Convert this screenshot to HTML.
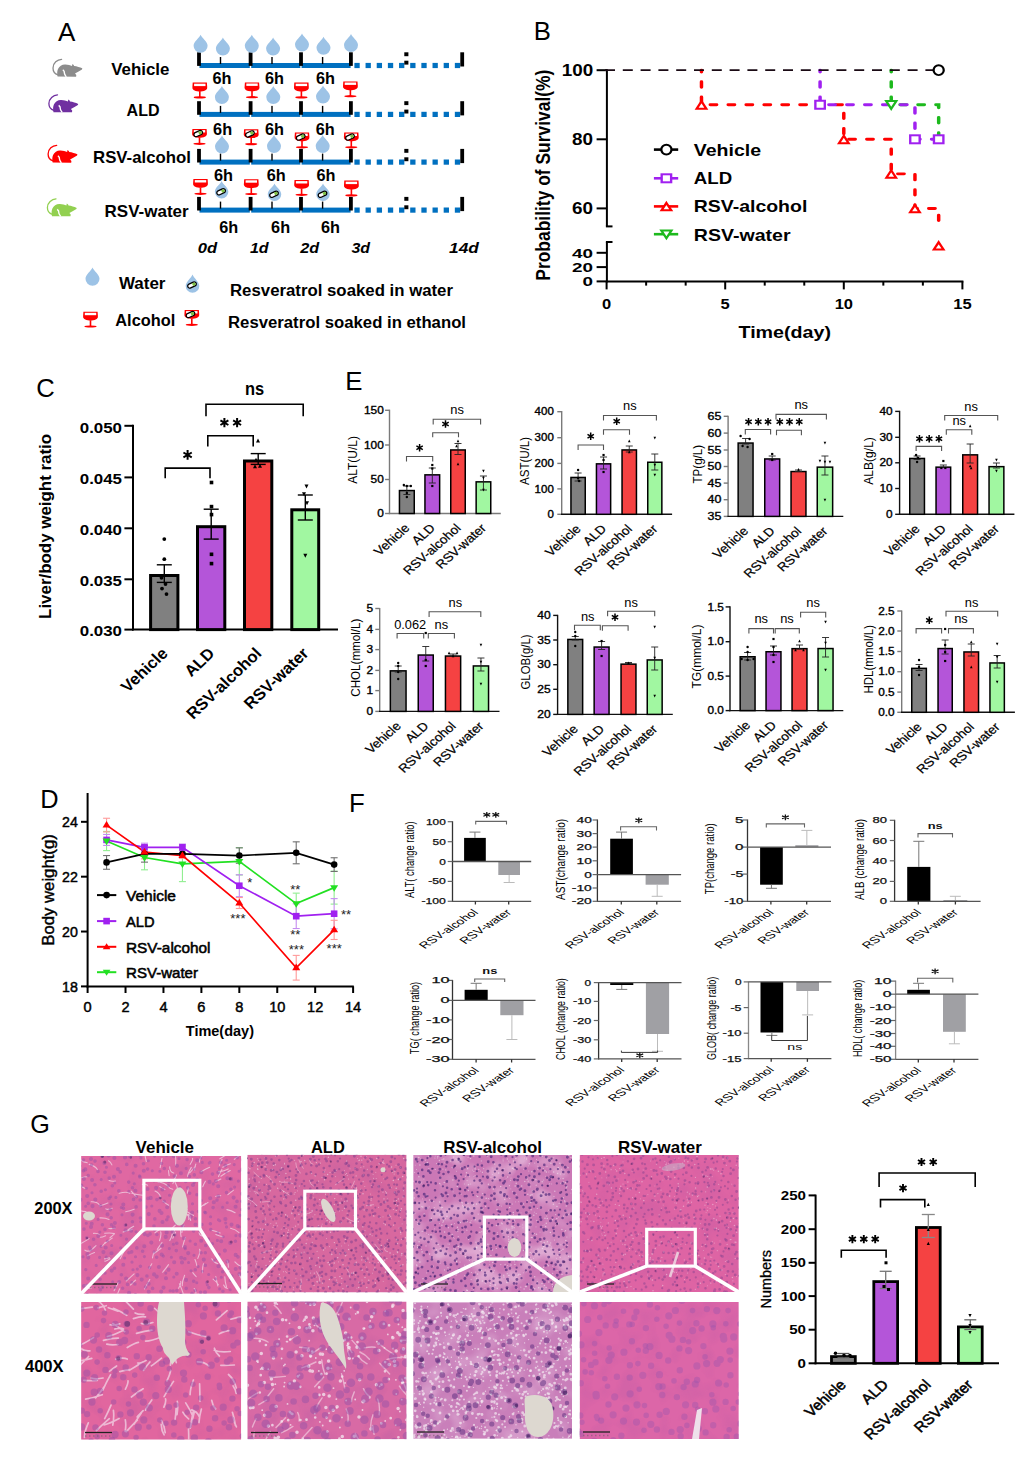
<!DOCTYPE html>
<html><head><meta charset="utf-8"><style>
html,body{margin:0;padding:0;background:#fff;}
body{width:1036px;height:1468px;overflow:hidden;}
svg{display:block;font-family:"Liberation Sans", sans-serif;}
</style></head><body>
<svg width="1036" height="1468" viewBox="0 0 1036 1468">
<rect width="1036" height="1468" fill="#fff"/>
<text x="58" y="40.5" font-size="26">A</text>
<text x="111.2" y="74.7" font-size="16.2" font-weight="bold" textLength="58.2" lengthAdjust="spacingAndGlyphs">Vehicle</text>
<text x="126.6" y="115.6" font-size="16.2" font-weight="bold" textLength="33" lengthAdjust="spacingAndGlyphs">ALD</text>
<text x="93" y="162.9" font-size="16.2" font-weight="bold" textLength="98" lengthAdjust="spacingAndGlyphs">RSV-alcohol</text>
<text x="104.6" y="217.3" font-size="16.2" font-weight="bold" textLength="84" lengthAdjust="spacingAndGlyphs">RSV-water</text>
<g transform="translate(52.4 58.4) scale(1 1)"><path d="M9.2,0.9 C5.0,1.2 0.6,4.5 0.6,9.6 C0.6,13.3 2.6,15.6 5.6,16.4" fill="none" stroke="#8C8C8C" stroke-width="1.3" stroke-linecap="round"/><path d="M5.2,18.2 C4.6,15.5 4.6,12.5 5.6,10.5 C6.8,7.8 9.5,6.1 12.5,6.0 C15.5,5.9 17.8,6.8 19.6,7.6 L20.0,5.6 L21.3,6.6 L21.7,7.6 C24.5,8.0 27.5,8.8 29.9,9.9 L29.6,11.0 C27.5,12.4 25,13.8 22.6,15.1 L23.9,16.5 L23.7,18.3 Z" fill="#8C8C8C"/><path d="M10.4,11.4 C11.5,12.2 12.2,13.2 12.0,14.6 C11.9,15.8 12.8,16.8 13.9,18.4" fill="none" stroke="#fff" stroke-width="1.4"/></g>
<g transform="translate(48.3 94) scale(1 1)"><path d="M9.2,0.9 C5.0,1.2 0.6,4.5 0.6,9.6 C0.6,13.3 2.6,15.6 5.6,16.4" fill="none" stroke="#7030A0" stroke-width="1.3" stroke-linecap="round"/><path d="M5.2,18.2 C4.6,15.5 4.6,12.5 5.6,10.5 C6.8,7.8 9.5,6.1 12.5,6.0 C15.5,5.9 17.8,6.8 19.6,7.6 L20.0,5.6 L21.3,6.6 L21.7,7.6 C24.5,8.0 27.5,8.8 29.9,9.9 L29.6,11.0 C27.5,12.4 25,13.8 22.6,15.1 L23.9,16.5 L23.7,18.3 Z" fill="#7030A0"/><path d="M10.4,11.4 C11.5,12.2 12.2,13.2 12.0,14.6 C11.9,15.8 12.8,16.8 13.9,18.4" fill="none" stroke="#fff" stroke-width="1.4"/></g>
<g transform="translate(47.5 144.4) scale(1 1)"><path d="M9.2,0.9 C5.0,1.2 0.6,4.5 0.6,9.6 C0.6,13.3 2.6,15.6 5.6,16.4" fill="none" stroke="#FF0000" stroke-width="1.3" stroke-linecap="round"/><path d="M5.2,18.2 C4.6,15.5 4.6,12.5 5.6,10.5 C6.8,7.8 9.5,6.1 12.5,6.0 C15.5,5.9 17.8,6.8 19.6,7.6 L20.0,5.6 L21.3,6.6 L21.7,7.6 C24.5,8.0 27.5,8.8 29.9,9.9 L29.6,11.0 C27.5,12.4 25,13.8 22.6,15.1 L23.9,16.5 L23.7,18.3 Z" fill="#FF0000"/><path d="M10.4,11.4 C11.5,12.2 12.2,13.2 12.0,14.6 C11.9,15.8 12.8,16.8 13.9,18.4" fill="none" stroke="#fff" stroke-width="1.4"/></g>
<g transform="translate(46.8 198) scale(1 1)"><path d="M9.2,0.9 C5.0,1.2 0.6,4.5 0.6,9.6 C0.6,13.3 2.6,15.6 5.6,16.4" fill="none" stroke="#92D050" stroke-width="1.3" stroke-linecap="round"/><path d="M5.2,18.2 C4.6,15.5 4.6,12.5 5.6,10.5 C6.8,7.8 9.5,6.1 12.5,6.0 C15.5,5.9 17.8,6.8 19.6,7.6 L20.0,5.6 L21.3,6.6 L21.7,7.6 C24.5,8.0 27.5,8.8 29.9,9.9 L29.6,11.0 C27.5,12.4 25,13.8 22.6,15.1 L23.9,16.5 L23.7,18.3 Z" fill="#92D050"/><path d="M10.4,11.4 C11.5,12.2 12.2,13.2 12.0,14.6 C11.9,15.8 12.8,16.8 13.9,18.4" fill="none" stroke="#fff" stroke-width="1.4"/></g>
<rect x="199.5" y="63" width="50.3" height="5" fill="#0070C0"/>
<rect x="251.2" y="63" width="49.1" height="5" fill="#0070C0"/>
<rect x="301.6" y="63" width="49" height="5" fill="#0070C0"/>
<rect x="354.4" y="62.9" width="5.3" height="5.2" fill="#0070C0"/>
<rect x="365.56" y="62.9" width="5.3" height="5.2" fill="#0070C0"/>
<rect x="376.72" y="62.9" width="5.3" height="5.2" fill="#0070C0"/>
<rect x="387.88" y="62.9" width="5.3" height="5.2" fill="#0070C0"/>
<rect x="399.04" y="62.9" width="5.3" height="5.2" fill="#0070C0"/>
<rect x="410.2" y="62.9" width="5.3" height="5.2" fill="#0070C0"/>
<rect x="421.36" y="62.9" width="5.3" height="5.2" fill="#0070C0"/>
<rect x="432.52" y="62.9" width="5.3" height="5.2" fill="#0070C0"/>
<rect x="443.68" y="62.9" width="5.3" height="5.2" fill="#0070C0"/>
<rect x="454.84" y="62.9" width="5.3" height="5.2" fill="#0070C0"/>
<rect x="197.1" y="52.3" width="3.8" height="13.6" fill="#000"/>
<rect x="248.7" y="52.3" width="3.8" height="13.6" fill="#000"/>
<rect x="299.1" y="52.3" width="3.8" height="13.6" fill="#000"/>
<rect x="349" y="52.3" width="3.8" height="13.6" fill="#000"/>
<rect x="460.3" y="52.3" width="3.8" height="14.2" fill="#000"/>
<rect x="404.3" y="52.3" width="4.1" height="3.9" fill="#000"/>
<rect x="404.3" y="60.7" width="4.1" height="3.9" fill="#000"/>
<rect x="219.8" y="57" width="1.4" height="7" fill="#000"/>
<rect x="271.3" y="57" width="1.4" height="7" fill="#000"/>
<rect x="321.9" y="57" width="1.4" height="7" fill="#000"/>
<rect x="199.5" y="111.9" width="50.3" height="5" fill="#0070C0"/>
<rect x="251.2" y="111.9" width="49.1" height="5" fill="#0070C0"/>
<rect x="301.6" y="111.9" width="49" height="5" fill="#0070C0"/>
<rect x="354.4" y="111.8" width="5.3" height="5.2" fill="#0070C0"/>
<rect x="365.56" y="111.8" width="5.3" height="5.2" fill="#0070C0"/>
<rect x="376.72" y="111.8" width="5.3" height="5.2" fill="#0070C0"/>
<rect x="387.88" y="111.8" width="5.3" height="5.2" fill="#0070C0"/>
<rect x="399.04" y="111.8" width="5.3" height="5.2" fill="#0070C0"/>
<rect x="410.2" y="111.8" width="5.3" height="5.2" fill="#0070C0"/>
<rect x="421.36" y="111.8" width="5.3" height="5.2" fill="#0070C0"/>
<rect x="432.52" y="111.8" width="5.3" height="5.2" fill="#0070C0"/>
<rect x="443.68" y="111.8" width="5.3" height="5.2" fill="#0070C0"/>
<rect x="454.84" y="111.8" width="5.3" height="5.2" fill="#0070C0"/>
<rect x="197.1" y="101.2" width="3.8" height="13.6" fill="#000"/>
<rect x="248.7" y="101.2" width="3.8" height="13.6" fill="#000"/>
<rect x="299.1" y="101.2" width="3.8" height="13.6" fill="#000"/>
<rect x="349" y="101.2" width="3.8" height="13.6" fill="#000"/>
<rect x="460.3" y="101.2" width="3.8" height="14.2" fill="#000"/>
<rect x="404.3" y="101.2" width="4.1" height="3.9" fill="#000"/>
<rect x="404.3" y="109.6" width="4.1" height="3.9" fill="#000"/>
<rect x="219.8" y="105.9" width="1.4" height="7" fill="#000"/>
<rect x="271.3" y="105.9" width="1.4" height="7" fill="#000"/>
<rect x="321.9" y="105.9" width="1.4" height="7" fill="#000"/>
<rect x="199.5" y="159.6" width="50.3" height="5" fill="#0070C0"/>
<rect x="251.2" y="159.6" width="49.1" height="5" fill="#0070C0"/>
<rect x="301.6" y="159.6" width="49" height="5" fill="#0070C0"/>
<rect x="354.4" y="159.5" width="5.3" height="5.2" fill="#0070C0"/>
<rect x="365.56" y="159.5" width="5.3" height="5.2" fill="#0070C0"/>
<rect x="376.72" y="159.5" width="5.3" height="5.2" fill="#0070C0"/>
<rect x="387.88" y="159.5" width="5.3" height="5.2" fill="#0070C0"/>
<rect x="399.04" y="159.5" width="5.3" height="5.2" fill="#0070C0"/>
<rect x="410.2" y="159.5" width="5.3" height="5.2" fill="#0070C0"/>
<rect x="421.36" y="159.5" width="5.3" height="5.2" fill="#0070C0"/>
<rect x="432.52" y="159.5" width="5.3" height="5.2" fill="#0070C0"/>
<rect x="443.68" y="159.5" width="5.3" height="5.2" fill="#0070C0"/>
<rect x="454.84" y="159.5" width="5.3" height="5.2" fill="#0070C0"/>
<rect x="197.1" y="148.9" width="3.8" height="13.6" fill="#000"/>
<rect x="248.7" y="148.9" width="3.8" height="13.6" fill="#000"/>
<rect x="299.1" y="148.9" width="3.8" height="13.6" fill="#000"/>
<rect x="349" y="148.9" width="3.8" height="13.6" fill="#000"/>
<rect x="460.3" y="148.9" width="3.8" height="14.2" fill="#000"/>
<rect x="404.3" y="148.9" width="4.1" height="3.9" fill="#000"/>
<rect x="404.3" y="157.3" width="4.1" height="3.9" fill="#000"/>
<rect x="219.8" y="153.6" width="1.4" height="7" fill="#000"/>
<rect x="271.3" y="153.6" width="1.4" height="7" fill="#000"/>
<rect x="321.9" y="153.6" width="1.4" height="7" fill="#000"/>
<rect x="199.5" y="207.6" width="50.3" height="5" fill="#0070C0"/>
<rect x="251.2" y="207.6" width="49.1" height="5" fill="#0070C0"/>
<rect x="301.6" y="207.6" width="49" height="5" fill="#0070C0"/>
<rect x="354.4" y="207.5" width="5.3" height="5.2" fill="#0070C0"/>
<rect x="365.56" y="207.5" width="5.3" height="5.2" fill="#0070C0"/>
<rect x="376.72" y="207.5" width="5.3" height="5.2" fill="#0070C0"/>
<rect x="387.88" y="207.5" width="5.3" height="5.2" fill="#0070C0"/>
<rect x="399.04" y="207.5" width="5.3" height="5.2" fill="#0070C0"/>
<rect x="410.2" y="207.5" width="5.3" height="5.2" fill="#0070C0"/>
<rect x="421.36" y="207.5" width="5.3" height="5.2" fill="#0070C0"/>
<rect x="432.52" y="207.5" width="5.3" height="5.2" fill="#0070C0"/>
<rect x="443.68" y="207.5" width="5.3" height="5.2" fill="#0070C0"/>
<rect x="454.84" y="207.5" width="5.3" height="5.2" fill="#0070C0"/>
<rect x="197.1" y="196.9" width="3.8" height="13.6" fill="#000"/>
<rect x="248.7" y="196.9" width="3.8" height="13.6" fill="#000"/>
<rect x="299.1" y="196.9" width="3.8" height="13.6" fill="#000"/>
<rect x="349" y="196.9" width="3.8" height="13.6" fill="#000"/>
<rect x="460.3" y="196.9" width="3.8" height="14.2" fill="#000"/>
<rect x="404.3" y="196.9" width="4.1" height="3.9" fill="#000"/>
<rect x="404.3" y="205.3" width="4.1" height="3.9" fill="#000"/>
<rect x="219.8" y="201.6" width="1.4" height="7" fill="#000"/>
<rect x="271.3" y="201.6" width="1.4" height="7" fill="#000"/>
<rect x="321.9" y="201.6" width="1.4" height="7" fill="#000"/>
<path d="M200.6,34.8 C201.8,38.3 207.6,41.3 207.6,45.8 A7,7 0 0 1 193.6,45.8 C193.6,41.3 199.4,38.3 200.6,34.8Z" fill="#9DC3E6"/>
<path d="M222.9,37.6 C224.1,41.1 229.9,44.1 229.9,48.6 A7,7 0 0 1 215.9,48.6 C215.9,44.1 221.7,41.1 222.9,37.6Z" fill="#9DC3E6"/>
<path d="M251.8,34.8 C253,38.3 258.8,41.3 258.8,45.8 A7,7 0 0 1 244.8,45.8 C244.8,41.3 250.6,38.3 251.8,34.8Z" fill="#9DC3E6"/>
<path d="M273.1,37.6 C274.3,41.1 280.1,44.1 280.1,48.6 A7,7 0 0 1 266.1,48.6 C266.1,44.1 271.9,41.1 273.1,37.6Z" fill="#9DC3E6"/>
<path d="M302,33.6 C303.2,37.1 309,40.1 309,44.6 A7,7 0 0 1 295,44.6 C295,40.1 300.8,37.1 302,33.6Z" fill="#9DC3E6"/>
<path d="M323.5,36.8 C324.7,40.3 330.5,43.3 330.5,47.8 A7,7 0 0 1 316.5,47.8 C316.5,43.3 322.3,40.3 323.5,36.8Z" fill="#9DC3E6"/>
<path d="M351,34 C352.2,37.5 358,40.5 358,45 A7,7 0 0 1 344,45 C344,40.5 349.8,37.5 351,34Z" fill="#9DC3E6"/>
<path d="M192.7,82.6 H206.9 L207.2,87.2 Q207.9,90.8 201,91.4 H198.6 Q191.7,90.8 192.4,87.2 Z" fill="#FF0000"/>
<rect x="194.1" y="83.7" width="11.4" height="2.4" fill="#fff"/>
<rect x="199" y="91.1" width="1.6" height="6" fill="#FF0000"/>
<ellipse cx="199.8" cy="97.4" rx="6.1" ry="1.1" fill="#FF0000"/>
<path d="M244.9,82.4 H259.1 L259.4,87 Q260.1,90.6 253.2,91.2 H250.8 Q243.9,90.6 244.6,87 Z" fill="#FF0000"/>
<rect x="246.3" y="83.5" width="11.4" height="2.4" fill="#fff"/>
<rect x="251.2" y="90.9" width="1.6" height="6" fill="#FF0000"/>
<ellipse cx="252" cy="97.2" rx="6.1" ry="1.1" fill="#FF0000"/>
<path d="M294.3,82.6 H308.5 L308.8,87.2 Q309.5,90.8 302.6,91.4 H300.2 Q293.3,90.8 294,87.2 Z" fill="#FF0000"/>
<rect x="295.7" y="83.7" width="11.4" height="2.4" fill="#fff"/>
<rect x="300.6" y="91.1" width="1.6" height="6" fill="#FF0000"/>
<ellipse cx="301.4" cy="97.4" rx="6.1" ry="1.1" fill="#FF0000"/>
<path d="M343.3,81.4 H357.5 L357.8,86 Q358.5,89.6 351.6,90.2 H349.2 Q342.3,89.6 343,86 Z" fill="#FF0000"/>
<rect x="344.7" y="82.5" width="11.4" height="2.4" fill="#fff"/>
<rect x="349.6" y="89.9" width="1.6" height="6" fill="#FF0000"/>
<ellipse cx="350.4" cy="96.2" rx="6.1" ry="1.1" fill="#FF0000"/>
<path d="M221.9,86 C223.1,89.5 228.9,92.5 228.9,97 A7,7 0 0 1 214.9,97 C214.9,92.5 220.7,89.5 221.9,86Z" fill="#9DC3E6"/>
<path d="M273.3,86 C274.5,89.5 280.3,92.5 280.3,97 A7,7 0 0 1 266.3,97 C266.3,92.5 272.1,89.5 273.3,86Z" fill="#9DC3E6"/>
<path d="M323,85.5 C324.2,89 330,92 330,96.5 A7,7 0 0 1 316,96.5 C316,92 321.8,89 323,85.5Z" fill="#9DC3E6"/>
<path d="M192.4,129 H206.6 L206.9,133.6 Q207.6,137.2 200.7,137.8 H198.3 Q191.4,137.2 192.1,133.6 Z" fill="#FF0000"/>
<rect x="193.8" y="130.1" width="11.4" height="2.4" fill="#fff"/>
<rect x="198.7" y="137.5" width="1.6" height="6" fill="#FF0000"/>
<ellipse cx="199.5" cy="143.8" rx="6.1" ry="1.1" fill="#FF0000"/>
<g transform="translate(198.2 133.6) rotate(-25)"><rect x="-4.5" y="-2.1" width="9" height="4.2" rx="2.1" fill="#fff" stroke="#000" stroke-width="1.3"/><path d="M0.6,-1.45 H2.4 A1.45,1.45 0 0 1 2.4,1.45 H0.6Z" fill="#7DC242"/></g>
<path d="M244.1,129.3 H258.3 L258.6,133.9 Q259.3,137.5 252.4,138.1 H250 Q243.1,137.5 243.8,133.9 Z" fill="#FF0000"/>
<rect x="245.5" y="130.4" width="11.4" height="2.4" fill="#fff"/>
<rect x="250.4" y="137.8" width="1.6" height="6" fill="#FF0000"/>
<ellipse cx="251.2" cy="144.1" rx="6.1" ry="1.1" fill="#FF0000"/>
<g transform="translate(249.9 133.9) rotate(-25)"><rect x="-4.5" y="-2.1" width="9" height="4.2" rx="2.1" fill="#fff" stroke="#000" stroke-width="1.3"/><path d="M0.6,-1.45 H2.4 A1.45,1.45 0 0 1 2.4,1.45 H0.6Z" fill="#7DC242"/></g>
<path d="M294.9,132.5 H309.1 L309.4,137.1 Q310.1,140.7 303.2,141.3 H300.8 Q293.9,140.7 294.6,137.1 Z" fill="#FF0000"/>
<rect x="296.3" y="133.6" width="11.4" height="2.4" fill="#fff"/>
<rect x="301.2" y="141" width="1.6" height="6" fill="#FF0000"/>
<ellipse cx="302" cy="147.3" rx="6.1" ry="1.1" fill="#FF0000"/>
<g transform="translate(300.7 137.1) rotate(-25)"><rect x="-4.5" y="-2.1" width="9" height="4.2" rx="2.1" fill="#fff" stroke="#000" stroke-width="1.3"/><path d="M0.6,-1.45 H2.4 A1.45,1.45 0 0 1 2.4,1.45 H0.6Z" fill="#7DC242"/></g>
<path d="M344.2,132.5 H358.4 L358.7,137.1 Q359.4,140.7 352.5,141.3 H350.1 Q343.2,140.7 343.9,137.1 Z" fill="#FF0000"/>
<rect x="345.6" y="133.6" width="11.4" height="2.4" fill="#fff"/>
<rect x="350.5" y="141" width="1.6" height="6" fill="#FF0000"/>
<ellipse cx="351.3" cy="147.3" rx="6.1" ry="1.1" fill="#FF0000"/>
<g transform="translate(350 137.1) rotate(-25)"><rect x="-4.5" y="-2.1" width="9" height="4.2" rx="2.1" fill="#fff" stroke="#000" stroke-width="1.3"/><path d="M0.6,-1.45 H2.4 A1.45,1.45 0 0 1 2.4,1.45 H0.6Z" fill="#7DC242"/></g>
<path d="M222,135.5 C223.2,139 229,142 229,146.5 A7,7 0 0 1 215,146.5 C215,142 220.8,139 222,135.5Z" fill="#9DC3E6"/>
<path d="M274,135 C275.2,138.5 281,141.5 281,146 A7,7 0 0 1 267,146 C267,141.5 272.8,138.5 274,135Z" fill="#9DC3E6"/>
<path d="M322.7,135 C323.9,138.5 329.7,141.5 329.7,146 A7,7 0 0 1 315.7,146 C315.7,141.5 321.5,138.5 322.7,135Z" fill="#9DC3E6"/>
<path d="M193.4,179 H207.6 L207.9,183.6 Q208.6,187.2 201.7,187.8 H199.3 Q192.4,187.2 193.1,183.6 Z" fill="#FF0000"/>
<rect x="194.8" y="180.1" width="11.4" height="2.4" fill="#fff"/>
<rect x="199.7" y="187.5" width="1.6" height="6" fill="#FF0000"/>
<ellipse cx="200.5" cy="193.8" rx="6.1" ry="1.1" fill="#FF0000"/>
<path d="M244.2,179.2 H258.4 L258.7,183.8 Q259.4,187.4 252.5,188 H250.1 Q243.2,187.4 243.9,183.8 Z" fill="#FF0000"/>
<rect x="245.6" y="180.3" width="11.4" height="2.4" fill="#fff"/>
<rect x="250.5" y="187.7" width="1.6" height="6" fill="#FF0000"/>
<ellipse cx="251.3" cy="194" rx="6.1" ry="1.1" fill="#FF0000"/>
<path d="M294.5,180 H308.7 L309,184.6 Q309.7,188.2 302.8,188.8 H300.4 Q293.5,188.2 294.2,184.6 Z" fill="#FF0000"/>
<rect x="295.9" y="181.1" width="11.4" height="2.4" fill="#fff"/>
<rect x="300.8" y="188.5" width="1.6" height="6" fill="#FF0000"/>
<ellipse cx="301.6" cy="194.8" rx="6.1" ry="1.1" fill="#FF0000"/>
<path d="M344.3,180.6 H358.5 L358.8,185.2 Q359.5,188.8 352.6,189.4 H350.2 Q343.3,188.8 344,185.2 Z" fill="#FF0000"/>
<rect x="345.7" y="181.7" width="11.4" height="2.4" fill="#fff"/>
<rect x="350.6" y="189.1" width="1.6" height="6" fill="#FF0000"/>
<ellipse cx="351.4" cy="195.4" rx="6.1" ry="1.1" fill="#FF0000"/>
<path d="M221.6,181 C222.8,184.5 228.35,187.25 228.35,191.75 A6.75,6.75 0 0 1 214.85,191.75 C214.85,187.25 220.4,184.5 221.6,181Z" fill="#9DC3E6"/>
<g transform="translate(221.1 191.8) rotate(-25)"><rect x="-4.5" y="-2.1" width="9" height="4.2" rx="2.1" fill="#fff" stroke="#000" stroke-width="1.3"/><path d="M0.6,-1.45 H2.4 A1.45,1.45 0 0 1 2.4,1.45 H0.6Z" fill="#7DC242"/></g>
<path d="M274.5,183.5 C275.7,187 281.25,189.75 281.25,194.25 A6.75,6.75 0 0 1 267.75,194.25 C267.75,189.75 273.3,187 274.5,183.5Z" fill="#9DC3E6"/>
<g transform="translate(274 194.3) rotate(-25)"><rect x="-4.5" y="-2.1" width="9" height="4.2" rx="2.1" fill="#fff" stroke="#000" stroke-width="1.3"/><path d="M0.6,-1.45 H2.4 A1.45,1.45 0 0 1 2.4,1.45 H0.6Z" fill="#7DC242"/></g>
<path d="M323,183.5 C324.2,187 329.75,189.75 329.75,194.25 A6.75,6.75 0 0 1 316.25,194.25 C316.25,189.75 321.8,187 323,183.5Z" fill="#9DC3E6"/>
<g transform="translate(322.5 194.3) rotate(-25)"><rect x="-4.5" y="-2.1" width="9" height="4.2" rx="2.1" fill="#fff" stroke="#000" stroke-width="1.3"/><path d="M0.6,-1.45 H2.4 A1.45,1.45 0 0 1 2.4,1.45 H0.6Z" fill="#7DC242"/></g>
<text x="212.4" y="84.4" font-size="16.2" font-weight="bold" textLength="19" lengthAdjust="spacingAndGlyphs">6h</text>
<text x="265" y="84.4" font-size="16.2" font-weight="bold" textLength="19" lengthAdjust="spacingAndGlyphs">6h</text>
<text x="315.9" y="84.4" font-size="16.2" font-weight="bold" textLength="19" lengthAdjust="spacingAndGlyphs">6h</text>
<text x="213.1" y="135.1" font-size="16.2" font-weight="bold" textLength="19" lengthAdjust="spacingAndGlyphs">6h</text>
<text x="264.9" y="135.1" font-size="16.2" font-weight="bold" textLength="19" lengthAdjust="spacingAndGlyphs">6h</text>
<text x="315.8" y="135.1" font-size="16.2" font-weight="bold" textLength="19" lengthAdjust="spacingAndGlyphs">6h</text>
<text x="213.9" y="181" font-size="16.2" font-weight="bold" textLength="19" lengthAdjust="spacingAndGlyphs">6h</text>
<text x="266.7" y="181" font-size="16.2" font-weight="bold" textLength="19" lengthAdjust="spacingAndGlyphs">6h</text>
<text x="316.4" y="181" font-size="16.2" font-weight="bold" textLength="19" lengthAdjust="spacingAndGlyphs">6h</text>
<text x="219.2" y="233.2" font-size="16.2" font-weight="bold" textLength="19" lengthAdjust="spacingAndGlyphs">6h</text>
<text x="271.1" y="233.2" font-size="16.2" font-weight="bold" textLength="19" lengthAdjust="spacingAndGlyphs">6h</text>
<text x="320.9" y="233.2" font-size="16.2" font-weight="bold" textLength="19" lengthAdjust="spacingAndGlyphs">6h</text>
<text x="197.8" y="252.5" font-size="15.2" font-weight="bold" font-style="italic" textLength="19.4" lengthAdjust="spacingAndGlyphs">0d</text>
<text x="249.9" y="252.5" font-size="15.2" font-weight="bold" font-style="italic" textLength="18.8" lengthAdjust="spacingAndGlyphs">1d</text>
<text x="300.2" y="252.5" font-size="15.2" font-weight="bold" font-style="italic" textLength="18.9" lengthAdjust="spacingAndGlyphs">2d</text>
<text x="351.4" y="252.5" font-size="15.2" font-weight="bold" font-style="italic" textLength="18.6" lengthAdjust="spacingAndGlyphs">3d</text>
<text x="449.1" y="252.5" font-size="15.2" font-weight="bold" font-style="italic" textLength="29.8" lengthAdjust="spacingAndGlyphs">14d</text>
<path d="M92.5,267.4 C93.7,270.9 99.5,274.3 99.5,278.8 A7,7 0 0 1 85.5,278.8 C85.5,274.3 91.3,270.9 92.5,267.4Z" fill="#9DC3E6"/>
<text x="118.9" y="289.2" font-size="15.6" font-weight="bold" textLength="46.6" lengthAdjust="spacingAndGlyphs">Water</text>
<path d="M192.5,274.4 C193.7,277.9 199.3,281.5 199.3,286 A6.8,6.8 0 0 1 185.7,286 C185.7,281.5 191.3,277.9 192.5,274.4Z" fill="#9DC3E6"/>
<g transform="translate(192 285) rotate(-25)"><rect x="-4.5" y="-2.1" width="9" height="4.2" rx="2.1" fill="#fff" stroke="#000" stroke-width="1.3"/><path d="M0.6,-1.45 H2.4 A1.45,1.45 0 0 1 2.4,1.45 H0.6Z" fill="#7DC242"/></g>
<path d="M83.4,311.7 H97.6 L97.9,316.3 Q98.6,319.9 91.7,320.5 H89.3 Q82.4,319.9 83.1,316.3 Z" fill="#FF0000"/>
<rect x="84.8" y="312.8" width="11.4" height="2.4" fill="#fff"/>
<rect x="89.7" y="320.2" width="1.6" height="6" fill="#FF0000"/>
<ellipse cx="90.5" cy="326.5" rx="6.1" ry="1.1" fill="#FF0000"/>
<text x="115.3" y="325.6" font-size="15.6" font-weight="bold" textLength="60" lengthAdjust="spacingAndGlyphs">Alcohol</text>
<path d="M184.7,310 H198.9 L199.2,314.6 Q199.9,318.2 193,318.8 H190.6 Q183.7,318.2 184.4,314.6 Z" fill="#FF0000"/>
<rect x="186.1" y="311.1" width="11.4" height="2.4" fill="#fff"/>
<rect x="191" y="318.5" width="1.6" height="6" fill="#FF0000"/>
<ellipse cx="191.8" cy="324.8" rx="6.1" ry="1.1" fill="#FF0000"/>
<g transform="translate(190.5 314.6) rotate(-25)"><rect x="-4.5" y="-2.1" width="9" height="4.2" rx="2.1" fill="#fff" stroke="#000" stroke-width="1.3"/><path d="M0.6,-1.45 H2.4 A1.45,1.45 0 0 1 2.4,1.45 H0.6Z" fill="#7DC242"/></g>
<text x="230" y="296.4" font-size="15.6" font-weight="bold" textLength="223" lengthAdjust="spacingAndGlyphs">Resveratrol soaked in water</text>
<text x="228" y="328" font-size="15.6" font-weight="bold" textLength="238" lengthAdjust="spacingAndGlyphs">Resveratrol soaked in ethanol</text>
<text x="533.8" y="40.3" font-size="25.7">B</text>
<line x1="606.9" y1="69.2" x2="606.9" y2="226.4" stroke="#000" stroke-width="2"/>
<line x1="605.9" y1="226.4" x2="612.5" y2="226.4" stroke="#000" stroke-width="2"/>
<line x1="606.9" y1="242" x2="606.9" y2="282.4" stroke="#000" stroke-width="2"/>
<line x1="605.9" y1="242" x2="612.5" y2="242" stroke="#000" stroke-width="2"/>
<line x1="596.6" y1="70.2" x2="606.9" y2="70.2" stroke="#000" stroke-width="2"/>
<line x1="596.6" y1="139.3" x2="606.9" y2="139.3" stroke="#000" stroke-width="2"/>
<line x1="596.6" y1="208.4" x2="606.9" y2="208.4" stroke="#000" stroke-width="2"/>
<line x1="596.6" y1="252.8" x2="606.9" y2="252.8" stroke="#000" stroke-width="2"/>
<line x1="596.6" y1="267.1" x2="606.9" y2="267.1" stroke="#000" stroke-width="2"/>
<line x1="596.6" y1="281.4" x2="606.9" y2="281.4" stroke="#000" stroke-width="2"/>
<text x="561.7" y="75.8" font-size="15.6" font-weight="bold" textLength="31.5" lengthAdjust="spacingAndGlyphs">100</text>
<text x="572" y="144.9" font-size="15.6" font-weight="bold" textLength="21" lengthAdjust="spacingAndGlyphs">80</text>
<text x="572" y="214" font-size="15.6" font-weight="bold" textLength="21" lengthAdjust="spacingAndGlyphs">60</text>
<text x="572" y="257.7" font-size="13.5" font-weight="bold" textLength="21" lengthAdjust="spacingAndGlyphs">40</text>
<text x="572" y="272" font-size="13.5" font-weight="bold" textLength="21" lengthAdjust="spacingAndGlyphs">20</text>
<text x="582.5" y="286.3" font-size="13.5" font-weight="bold" textLength="10.5" lengthAdjust="spacingAndGlyphs">0</text>
<line x1="605.9" y1="281.4" x2="963.4" y2="281.4" stroke="#000" stroke-width="2"/>
<line x1="606.6" y1="281.4" x2="606.6" y2="289.4" stroke="#000" stroke-width="2"/>
<line x1="646.13" y1="281.4" x2="646.13" y2="285.6" stroke="#000" stroke-width="2"/>
<line x1="685.67" y1="281.4" x2="685.67" y2="285.6" stroke="#000" stroke-width="2"/>
<line x1="725.2" y1="281.4" x2="725.2" y2="289.4" stroke="#000" stroke-width="2"/>
<line x1="764.73" y1="281.4" x2="764.73" y2="285.6" stroke="#000" stroke-width="2"/>
<line x1="804.27" y1="281.4" x2="804.27" y2="285.6" stroke="#000" stroke-width="2"/>
<line x1="843.8" y1="281.4" x2="843.8" y2="289.4" stroke="#000" stroke-width="2"/>
<line x1="883.33" y1="281.4" x2="883.33" y2="285.6" stroke="#000" stroke-width="2"/>
<line x1="922.87" y1="281.4" x2="922.87" y2="285.6" stroke="#000" stroke-width="2"/>
<line x1="962.4" y1="281.4" x2="962.4" y2="289.4" stroke="#000" stroke-width="2"/>
<text transform="translate(606.6 309.2) scale(1.18 1)" font-size="14" font-weight="bold" text-anchor="middle">0</text>
<text transform="translate(725.2 309.2) scale(1.18 1)" font-size="14" font-weight="bold" text-anchor="middle">5</text>
<text transform="translate(843.8 309.2) scale(1.18 1)" font-size="14" font-weight="bold" text-anchor="middle">10</text>
<text transform="translate(962.4 309.2) scale(1.18 1)" font-size="14" font-weight="bold" text-anchor="middle">15</text>
<text x="738.5" y="337.5" font-size="17.3" font-weight="bold" textLength="92.5" lengthAdjust="spacingAndGlyphs">Time(day)</text>
<text transform="translate(549.6 175.2) scale(1.18 1) rotate(-90)" font-size="17.4" font-weight="bold" text-anchor="middle" textLength="211" lengthAdjust="spacingAndGlyphs">Probability of Survival(%)</text>
<g transform="matrix(1.18 0 0 1 -109.19 0)">
<polyline points="687.01,70.2 687.01,104.75 807.62,104.75 807.62,139.3 847.82,139.3 847.82,173.85 867.92,173.85 867.92,208.4 888.02,208.4 888.02,226" fill="none" stroke="#FF0000" stroke-width="2.95" stroke-dasharray="5.4 9.8" stroke-dashoffset="3.6" stroke-linecap="round"/>
<polyline points="847.82,70.2 847.82,104.75 888.02,104.75 888.02,139.3" fill="none" stroke="#1DB91D" stroke-width="2.95" stroke-dasharray="5.4 9.8" stroke-dashoffset="3.6" stroke-linecap="round"/>
<polyline points="787.52,70.2 787.52,104.75 867.92,104.75 867.92,139.3 888.02,139.3" fill="none" stroke="#A020F0" stroke-width="2.95" stroke-dasharray="5.4 9.8" stroke-dashoffset="3.6" stroke-linecap="round"/>
</g>
<line x1="605" y1="70.2" x2="934.68" y2="70.2" stroke="#1a0a14" stroke-width="1.8" stroke-dasharray="10 7.8"/>
<g transform="matrix(1.18 0 0 1 -109.19 0)">
<ellipse cx="888.02" cy="70.2" rx="4.3" ry="4.9" fill="#fff" stroke="#000" stroke-width="1.9"/>
<rect x="783.52" y="100.75" width="8" height="8" fill="#fff" stroke="#A020F0" stroke-width="2"/>
<rect x="863.92" y="135.3" width="8" height="8" fill="#fff" stroke="#A020F0" stroke-width="2"/>
<rect x="884.02" y="135.3" width="8" height="8" fill="#fff" stroke="#A020F0" stroke-width="2"/>
<path d="M687.01,101.27 L691.11,108.65 L682.91,108.65Z" fill="#fff" stroke="#FF0000" stroke-width="2"/>
<path d="M807.62,135.82 L811.72,143.2 L803.52,143.2Z" fill="#fff" stroke="#FF0000" stroke-width="2"/>
<path d="M847.82,170.37 L851.92,177.75 L843.72,177.75Z" fill="#fff" stroke="#FF0000" stroke-width="2"/>
<path d="M867.92,204.92 L872.02,212.3 L863.82,212.3Z" fill="#fff" stroke="#FF0000" stroke-width="2"/>
<path d="M888.02,242.17 L892.12,249.55 L883.92,249.55Z" fill="#fff" stroke="#FF0000" stroke-width="2"/>
<path d="M847.82,108.84 L852.12,101.1 L843.52,101.1Z" fill="#fff" stroke="#1DB91D" stroke-width="2"/>
</g>
<line x1="653.9" y1="149.6" x2="678.2" y2="149.6" stroke="#000" stroke-width="2.6"/>
<line x1="653.9" y1="178.3" x2="678.2" y2="178.3" stroke="#A020F0" stroke-width="2.6"/>
<line x1="653.9" y1="206.4" x2="678.2" y2="206.4" stroke="#FF0000" stroke-width="2.6"/>
<line x1="653.9" y1="234.2" x2="678.2" y2="234.2" stroke="#1DB91D" stroke-width="2.6"/>
<g transform="matrix(1.18 0 0 1 -119.95 0)">
<ellipse cx="666.4" cy="149.6" rx="4.3" ry="4.9" fill="#fff" stroke="#000" stroke-width="1.9"/>
<rect x="662.4" y="174.3" width="8" height="8" fill="#fff" stroke="#A020F0" stroke-width="2"/>
<path d="M666.4,202.92 L670.5,210.3 L662.3,210.3Z" fill="#fff" stroke="#FF0000" stroke-width="2"/>
<path d="M666.4,238.29 L670.7,230.55 L662.1,230.55Z" fill="#fff" stroke="#1DB91D" stroke-width="2"/>
</g>
<text x="693.8" y="156" font-size="17" font-weight="bold" textLength="67.3" lengthAdjust="spacingAndGlyphs">Vehicle</text>
<text x="693.8" y="183.9" font-size="17" font-weight="bold" textLength="38.3" lengthAdjust="spacingAndGlyphs">ALD</text>
<text x="693.8" y="212.2" font-size="17" font-weight="bold" textLength="113.5" lengthAdjust="spacingAndGlyphs">RSV-alcohol</text>
<text x="693.8" y="240.7" font-size="17" font-weight="bold" textLength="96.7" lengthAdjust="spacingAndGlyphs">RSV-water</text>
<text x="36.3" y="397.3" font-size="25.6">C</text>
<line x1="133" y1="424.8" x2="133" y2="630.6" stroke="#000" stroke-width="2"/>
<line x1="124.4" y1="425.8" x2="133" y2="425.8" stroke="#000" stroke-width="2"/>
<text x="79.8" y="432.6" font-size="15.2" font-weight="bold" textLength="42.2" lengthAdjust="spacingAndGlyphs">0.050</text>
<line x1="124.4" y1="477.4" x2="133" y2="477.4" stroke="#000" stroke-width="2"/>
<text x="79.8" y="484.2" font-size="15.2" font-weight="bold" textLength="42.2" lengthAdjust="spacingAndGlyphs">0.045</text>
<line x1="124.4" y1="528.3" x2="133" y2="528.3" stroke="#000" stroke-width="2"/>
<text x="79.8" y="535.1" font-size="15.2" font-weight="bold" textLength="42.2" lengthAdjust="spacingAndGlyphs">0.040</text>
<line x1="124.4" y1="579.3" x2="133" y2="579.3" stroke="#000" stroke-width="2"/>
<text x="79.8" y="586.1" font-size="15.2" font-weight="bold" textLength="42.2" lengthAdjust="spacingAndGlyphs">0.035</text>
<line x1="124.4" y1="629.6" x2="133" y2="629.6" stroke="#000" stroke-width="2"/>
<text x="79.8" y="636.4" font-size="15.2" font-weight="bold" textLength="42.2" lengthAdjust="spacingAndGlyphs">0.030</text>
<line x1="132" y1="629.6" x2="338" y2="629.6" stroke="#000" stroke-width="2"/>
<rect x="150.6" y="575.5" width="27.3" height="54.1" fill="#808080" stroke="#000" stroke-width="3"/>
<rect x="197.5" y="526.7" width="27.3" height="102.9" fill="#B455D9" stroke="#000" stroke-width="3"/>
<rect x="244.5" y="461" width="27.3" height="168.6" fill="#F54242" stroke="#000" stroke-width="3"/>
<rect x="291.8" y="509.8" width="26.9" height="119.8" fill="#A1F7A1" stroke="#000" stroke-width="3"/>
<line x1="164.3" y1="564.8" x2="164.3" y2="582.4" stroke="#000" stroke-width="1.4"/>
<line x1="156.8" y1="564.8" x2="171.8" y2="564.8" stroke="#000" stroke-width="1.4"/>
<line x1="156.8" y1="582.4" x2="171.8" y2="582.4" stroke="#000" stroke-width="1.4"/>
<line x1="211.2" y1="509.2" x2="211.2" y2="539.1" stroke="#000" stroke-width="1.4"/>
<line x1="203.7" y1="509.2" x2="218.7" y2="509.2" stroke="#000" stroke-width="1.4"/>
<line x1="203.7" y1="539.1" x2="218.7" y2="539.1" stroke="#000" stroke-width="1.4"/>
<line x1="258.2" y1="453.6" x2="258.2" y2="464.4" stroke="#000" stroke-width="1.4"/>
<line x1="250.7" y1="453.6" x2="265.7" y2="453.6" stroke="#000" stroke-width="1.4"/>
<line x1="250.7" y1="464.4" x2="265.7" y2="464.4" stroke="#000" stroke-width="1.4"/>
<line x1="305.3" y1="495" x2="305.3" y2="520" stroke="#000" stroke-width="1.4"/>
<line x1="297.8" y1="495" x2="312.8" y2="495" stroke="#000" stroke-width="1.4"/>
<line x1="297.8" y1="520" x2="312.8" y2="520" stroke="#000" stroke-width="1.4"/>
<circle cx="164.3" cy="539.1" r="1.9" fill="#000"/>
<circle cx="164.3" cy="559.2" r="1.9" fill="#000"/>
<circle cx="161.5" cy="577.8" r="1.9" fill="#000"/>
<circle cx="165.5" cy="584" r="1.9" fill="#000"/>
<circle cx="162" cy="588.6" r="1.9" fill="#000"/>
<circle cx="166.5" cy="594.1" r="1.9" fill="#000"/>
<rect x="209.7" y="480.7" width="3.6" height="3.6" fill="#000"/>
<rect x="209.7" y="504.8" width="3.6" height="3.6" fill="#000"/>
<rect x="209.7" y="512.8" width="3.6" height="3.6" fill="#000"/>
<rect x="209.7" y="552.5" width="3.6" height="3.6" fill="#000"/>
<rect x="209.7" y="561.8" width="3.6" height="3.6" fill="#000"/>
<path d="M258,438.5 L260,442.5 L256,442.5Z" fill="#000"/>
<path d="M256,457.8 L258,461.8 L254,461.8Z" fill="#000"/>
<path d="M260,463.8 L262,467.8 L258,467.8Z" fill="#000"/>
<path d="M255,464.3 L257,468.3 L253,468.3Z" fill="#000"/>
<path d="M306.5,488.6 L308.5,484.6 L304.5,484.6Z" fill="#000"/>
<path d="M304,496.2 L306,492.2 L302,492.2Z" fill="#000"/>
<path d="M307,505.2 L309,501.2 L305,501.2Z" fill="#000"/>
<path d="M305.3,557.8 L307.3,553.8 L303.3,553.8Z" fill="#000"/>
<polyline points="165.2,478.3 165.2,468.1 210,468.1 210,478.3" fill="none" stroke="#000" stroke-width="1.6"/>
<polyline points="207.8,446.5 207.8,435.7 253.2,435.7 253.2,446.5" fill="none" stroke="#000" stroke-width="1.6"/>
<polyline points="206,416.2 206,404.2 303.2,404.2 303.2,416.2" fill="none" stroke="#000" stroke-width="1.6"/>
<path d="M187.60 450.10L187.60 459.70M183.44 452.50L191.76 457.30M191.76 452.50L183.44 457.30" stroke="#000" stroke-width="2" fill="none"/>
<path d="M224.40 418.10L224.40 427.30M220.42 420.40L228.38 425.00M228.38 420.40L220.42 425.00" stroke="#000" stroke-width="2" fill="none"/>
<path d="M237.10 418.10L237.10 427.30M233.12 420.40L241.08 425.00M241.08 420.40L233.12 425.00" stroke="#000" stroke-width="2" fill="none"/>
<text x="254.5" y="394.6" font-size="17.5" font-weight="bold" text-anchor="middle" textLength="19.2" lengthAdjust="spacingAndGlyphs">ns</text>
<text x="51" y="526.4" font-size="16.5" font-weight="bold" text-anchor="middle" textLength="185" lengthAdjust="spacingAndGlyphs" transform="rotate(-90 51 526.4)">Liver/body weight ratio</text>
<text transform="translate(168.8 654.4) scale(1.06 1) rotate(-45)" font-size="15.9" font-weight="bold" text-anchor="end">Vehicle</text>
<text transform="translate(215.65 654.4) scale(1.06 1) rotate(-45)" font-size="15.9" font-weight="bold" text-anchor="end">ALD</text>
<text transform="translate(262.65 654.4) scale(1.06 1) rotate(-45)" font-size="15.9" font-weight="bold" text-anchor="end">RSV-alcohol</text>
<text transform="translate(309.75 654.4) scale(1.06 1) rotate(-45)" font-size="15.9" font-weight="bold" text-anchor="end">RSV-water</text>
<text x="40.2" y="808" font-size="25.4">D</text>
<line x1="87.6" y1="793" x2="87.6" y2="987.4" stroke="#000" stroke-width="2"/>
<line x1="81" y1="821.82" x2="87.6" y2="821.82" stroke="#000" stroke-width="2"/>
<text x="62" y="827.22" font-size="14.6" textLength="15.8" lengthAdjust="spacingAndGlyphs" stroke="#000" stroke-width="0.45">24</text>
<line x1="81" y1="876.68" x2="87.6" y2="876.68" stroke="#000" stroke-width="2"/>
<text x="62" y="882.08" font-size="14.6" textLength="15.8" lengthAdjust="spacingAndGlyphs" stroke="#000" stroke-width="0.45">22</text>
<line x1="81" y1="931.54" x2="87.6" y2="931.54" stroke="#000" stroke-width="2"/>
<text x="62" y="936.94" font-size="14.6" textLength="15.8" lengthAdjust="spacingAndGlyphs" stroke="#000" stroke-width="0.45">20</text>
<line x1="81" y1="986.4" x2="87.6" y2="986.4" stroke="#000" stroke-width="2"/>
<text x="62" y="991.8" font-size="14.6" textLength="15.8" lengthAdjust="spacingAndGlyphs" stroke="#000" stroke-width="0.45">18</text>
<line x1="86.6" y1="986.4" x2="353.8" y2="986.4" stroke="#000" stroke-width="2"/>
<line x1="87.6" y1="986.4" x2="87.6" y2="993" stroke="#000" stroke-width="2"/>
<text x="87.6" y="1012.2" font-size="14.6" text-anchor="middle" stroke="#000" stroke-width="0.45">0</text>
<line x1="125.53" y1="986.4" x2="125.53" y2="993" stroke="#000" stroke-width="2"/>
<text x="125.53" y="1012.2" font-size="14.6" text-anchor="middle" stroke="#000" stroke-width="0.45">2</text>
<line x1="163.46" y1="986.4" x2="163.46" y2="993" stroke="#000" stroke-width="2"/>
<text x="163.46" y="1012.2" font-size="14.6" text-anchor="middle" stroke="#000" stroke-width="0.45">4</text>
<line x1="201.39" y1="986.4" x2="201.39" y2="993" stroke="#000" stroke-width="2"/>
<text x="201.39" y="1012.2" font-size="14.6" text-anchor="middle" stroke="#000" stroke-width="0.45">6</text>
<line x1="239.32" y1="986.4" x2="239.32" y2="993" stroke="#000" stroke-width="2"/>
<text x="239.32" y="1012.2" font-size="14.6" text-anchor="middle" stroke="#000" stroke-width="0.45">8</text>
<line x1="277.25" y1="986.4" x2="277.25" y2="993" stroke="#000" stroke-width="2"/>
<text x="277.25" y="1012.2" font-size="14.6" text-anchor="middle" stroke="#000" stroke-width="0.45">10</text>
<line x1="315.18" y1="986.4" x2="315.18" y2="993" stroke="#000" stroke-width="2"/>
<text x="315.18" y="1012.2" font-size="14.6" text-anchor="middle" stroke="#000" stroke-width="0.45">12</text>
<line x1="353.11" y1="986.4" x2="353.11" y2="993" stroke="#000" stroke-width="2"/>
<text x="353.11" y="1012.2" font-size="14.6" text-anchor="middle" stroke="#000" stroke-width="0.45">14</text>
<text x="185.8" y="1036" font-size="15.4" font-weight="bold" textLength="68.2" lengthAdjust="spacingAndGlyphs">Time(day)</text>
<text x="54.3" y="890" font-size="16" text-anchor="middle" textLength="111.5" lengthAdjust="spacingAndGlyphs" transform="rotate(-90 54.3 890)" stroke="#000" stroke-width="0.4">Body weight(g)</text>
<line x1="106.56" y1="831.42" x2="106.56" y2="850.62" stroke="#90EE90" stroke-width="1.1"/>
<line x1="103.06" y1="831.42" x2="110.06" y2="831.42" stroke="#90EE90" stroke-width="1.1"/>
<line x1="103.06" y1="850.62" x2="110.06" y2="850.62" stroke="#90EE90" stroke-width="1.1"/>
<line x1="144.5" y1="845.14" x2="144.5" y2="869.82" stroke="#90EE90" stroke-width="1.1"/>
<line x1="141" y1="845.14" x2="148" y2="845.14" stroke="#90EE90" stroke-width="1.1"/>
<line x1="141" y1="869.82" x2="148" y2="869.82" stroke="#90EE90" stroke-width="1.1"/>
<line x1="182.43" y1="845.96" x2="182.43" y2="881.62" stroke="#90EE90" stroke-width="1.1"/>
<line x1="178.93" y1="845.96" x2="185.93" y2="845.96" stroke="#90EE90" stroke-width="1.1"/>
<line x1="178.93" y1="881.62" x2="185.93" y2="881.62" stroke="#90EE90" stroke-width="1.1"/>
<line x1="239.32" y1="847.6" x2="239.32" y2="875.03" stroke="#90EE90" stroke-width="1.1"/>
<line x1="235.82" y1="847.6" x2="242.82" y2="847.6" stroke="#90EE90" stroke-width="1.1"/>
<line x1="235.82" y1="875.03" x2="242.82" y2="875.03" stroke="#90EE90" stroke-width="1.1"/>
<line x1="296.22" y1="893.14" x2="296.22" y2="913.98" stroke="#90EE90" stroke-width="1.1"/>
<line x1="292.72" y1="893.14" x2="299.72" y2="893.14" stroke="#90EE90" stroke-width="1.1"/>
<line x1="292.72" y1="913.98" x2="299.72" y2="913.98" stroke="#90EE90" stroke-width="1.1"/>
<line x1="334.14" y1="871.19" x2="334.14" y2="904.11" stroke="#90EE90" stroke-width="1.1"/>
<line x1="330.64" y1="871.19" x2="337.64" y2="871.19" stroke="#90EE90" stroke-width="1.1"/>
<line x1="330.64" y1="904.11" x2="337.64" y2="904.11" stroke="#90EE90" stroke-width="1.1"/>
<line x1="106.56" y1="834.44" x2="106.56" y2="845.41" stroke="#C58CF0" stroke-width="1.1"/>
<line x1="103.06" y1="834.44" x2="110.06" y2="834.44" stroke="#C58CF0" stroke-width="1.1"/>
<line x1="103.06" y1="845.41" x2="110.06" y2="845.41" stroke="#C58CF0" stroke-width="1.1"/>
<line x1="144.5" y1="843.22" x2="144.5" y2="851.44" stroke="#C58CF0" stroke-width="1.1"/>
<line x1="141" y1="843.22" x2="148" y2="843.22" stroke="#C58CF0" stroke-width="1.1"/>
<line x1="141" y1="851.44" x2="148" y2="851.44" stroke="#C58CF0" stroke-width="1.1"/>
<line x1="182.43" y1="844.04" x2="182.43" y2="850.62" stroke="#C58CF0" stroke-width="1.1"/>
<line x1="178.93" y1="844.04" x2="185.93" y2="844.04" stroke="#C58CF0" stroke-width="1.1"/>
<line x1="178.93" y1="850.62" x2="185.93" y2="850.62" stroke="#C58CF0" stroke-width="1.1"/>
<line x1="239.32" y1="874.76" x2="239.32" y2="896.7" stroke="#C58CF0" stroke-width="1.1"/>
<line x1="235.82" y1="874.76" x2="242.82" y2="874.76" stroke="#C58CF0" stroke-width="1.1"/>
<line x1="235.82" y1="896.7" x2="242.82" y2="896.7" stroke="#C58CF0" stroke-width="1.1"/>
<line x1="296.22" y1="903.84" x2="296.22" y2="928.52" stroke="#C58CF0" stroke-width="1.1"/>
<line x1="292.72" y1="903.84" x2="299.72" y2="903.84" stroke="#C58CF0" stroke-width="1.1"/>
<line x1="292.72" y1="928.52" x2="299.72" y2="928.52" stroke="#C58CF0" stroke-width="1.1"/>
<line x1="334.14" y1="898.62" x2="334.14" y2="928.8" stroke="#C58CF0" stroke-width="1.1"/>
<line x1="330.64" y1="898.62" x2="337.64" y2="898.62" stroke="#C58CF0" stroke-width="1.1"/>
<line x1="330.64" y1="928.8" x2="337.64" y2="928.8" stroke="#C58CF0" stroke-width="1.1"/>
<line x1="106.56" y1="818.25" x2="106.56" y2="831.97" stroke="#FF9A9A" stroke-width="1.1"/>
<line x1="103.06" y1="818.25" x2="110.06" y2="818.25" stroke="#FF9A9A" stroke-width="1.1"/>
<line x1="103.06" y1="831.97" x2="110.06" y2="831.97" stroke="#FF9A9A" stroke-width="1.1"/>
<line x1="144.5" y1="845.14" x2="144.5" y2="858.85" stroke="#FF9A9A" stroke-width="1.1"/>
<line x1="141" y1="845.14" x2="148" y2="845.14" stroke="#FF9A9A" stroke-width="1.1"/>
<line x1="141" y1="858.85" x2="148" y2="858.85" stroke="#FF9A9A" stroke-width="1.1"/>
<line x1="182.43" y1="852.82" x2="182.43" y2="858.3" stroke="#FF9A9A" stroke-width="1.1"/>
<line x1="178.93" y1="852.82" x2="185.93" y2="852.82" stroke="#FF9A9A" stroke-width="1.1"/>
<line x1="178.93" y1="858.3" x2="185.93" y2="858.3" stroke="#FF9A9A" stroke-width="1.1"/>
<line x1="239.32" y1="897.53" x2="239.32" y2="908.5" stroke="#FF9A9A" stroke-width="1.1"/>
<line x1="235.82" y1="897.53" x2="242.82" y2="897.53" stroke="#FF9A9A" stroke-width="1.1"/>
<line x1="235.82" y1="908.5" x2="242.82" y2="908.5" stroke="#FF9A9A" stroke-width="1.1"/>
<line x1="296.22" y1="955.4" x2="296.22" y2="980.09" stroke="#FF9A9A" stroke-width="1.1"/>
<line x1="292.72" y1="955.4" x2="299.72" y2="955.4" stroke="#FF9A9A" stroke-width="1.1"/>
<line x1="292.72" y1="980.09" x2="299.72" y2="980.09" stroke="#FF9A9A" stroke-width="1.1"/>
<line x1="334.14" y1="920.29" x2="334.14" y2="939.49" stroke="#FF9A9A" stroke-width="1.1"/>
<line x1="330.64" y1="920.29" x2="337.64" y2="920.29" stroke="#FF9A9A" stroke-width="1.1"/>
<line x1="330.64" y1="939.49" x2="337.64" y2="939.49" stroke="#FF9A9A" stroke-width="1.1"/>
<line x1="106.56" y1="855.56" x2="106.56" y2="869.27" stroke="#707070" stroke-width="1.1"/>
<line x1="103.06" y1="855.56" x2="110.06" y2="855.56" stroke="#707070" stroke-width="1.1"/>
<line x1="103.06" y1="869.27" x2="110.06" y2="869.27" stroke="#707070" stroke-width="1.1"/>
<line x1="144.5" y1="845.68" x2="144.5" y2="862.14" stroke="#707070" stroke-width="1.1"/>
<line x1="141" y1="845.68" x2="148" y2="845.68" stroke="#707070" stroke-width="1.1"/>
<line x1="141" y1="862.14" x2="148" y2="862.14" stroke="#707070" stroke-width="1.1"/>
<line x1="239.32" y1="847.88" x2="239.32" y2="863.24" stroke="#707070" stroke-width="1.1"/>
<line x1="235.82" y1="847.88" x2="242.82" y2="847.88" stroke="#707070" stroke-width="1.1"/>
<line x1="235.82" y1="863.24" x2="242.82" y2="863.24" stroke="#707070" stroke-width="1.1"/>
<line x1="296.22" y1="841.84" x2="296.22" y2="863.79" stroke="#707070" stroke-width="1.1"/>
<line x1="292.72" y1="841.84" x2="299.72" y2="841.84" stroke="#707070" stroke-width="1.1"/>
<line x1="292.72" y1="863.79" x2="299.72" y2="863.79" stroke="#707070" stroke-width="1.1"/>
<line x1="334.14" y1="857.75" x2="334.14" y2="871.47" stroke="#707070" stroke-width="1.1"/>
<line x1="330.64" y1="857.75" x2="337.64" y2="857.75" stroke="#707070" stroke-width="1.1"/>
<line x1="330.64" y1="871.47" x2="337.64" y2="871.47" stroke="#707070" stroke-width="1.1"/>
<polyline points="106.56,841.02 144.5,857.48 182.43,863.79 239.32,861.32 296.22,903.56 334.14,887.65" fill="none" stroke="#22E022" stroke-width="1.7"/>
<polyline points="106.56,839.92 144.5,847.33 182.43,847.33 239.32,885.73 296.22,916.18 334.14,913.71" fill="none" stroke="#A020F0" stroke-width="1.7"/>
<polyline points="106.56,825.11 144.5,851.99 182.43,855.56 239.32,903.01 296.22,967.75 334.14,929.89" fill="none" stroke="#FF0000" stroke-width="1.7"/>
<polyline points="106.56,862.42 144.5,853.91 182.43,853.91 239.32,855.56 296.22,852.82 334.14,864.61" fill="none" stroke="#000" stroke-width="1.7"/>
<circle cx="106.56" cy="862.42" r="3.3" fill="#000"/>
<circle cx="144.5" cy="853.91" r="3.3" fill="#000"/>
<circle cx="182.43" cy="853.91" r="3.3" fill="#000"/>
<circle cx="239.32" cy="855.56" r="3.3" fill="#000"/>
<circle cx="296.22" cy="852.82" r="3.3" fill="#000"/>
<circle cx="334.14" cy="864.61" r="3.3" fill="#000"/>
<rect x="103.27" y="836.62" width="6.6" height="6.6" fill="#A020F0"/>
<rect x="141.19" y="844.03" width="6.6" height="6.6" fill="#A020F0"/>
<rect x="179.12" y="844.03" width="6.6" height="6.6" fill="#A020F0"/>
<rect x="236.02" y="882.43" width="6.6" height="6.6" fill="#A020F0"/>
<rect x="292.92" y="912.88" width="6.6" height="6.6" fill="#A020F0"/>
<rect x="330.84" y="910.41" width="6.6" height="6.6" fill="#A020F0"/>
<path d="M106.56,820.91 l4,6.6 h-8z" fill="#FF0000"/>
<path d="M144.5,847.79 l4,6.6 h-8z" fill="#FF0000"/>
<path d="M182.43,851.36 l4,6.6 h-8z" fill="#FF0000"/>
<path d="M239.32,898.81 l4,6.6 h-8z" fill="#FF0000"/>
<path d="M296.22,963.55 l4,6.6 h-8z" fill="#FF0000"/>
<path d="M334.14,925.69 l4,6.6 h-8z" fill="#FF0000"/>
<path d="M106.56,845.22 l4,-6.6 h-8z" fill="#22E022"/>
<path d="M144.5,861.68 l4,-6.6 h-8z" fill="#22E022"/>
<path d="M182.43,867.99 l4,-6.6 h-8z" fill="#22E022"/>
<path d="M239.32,865.52 l4,-6.6 h-8z" fill="#22E022"/>
<path d="M296.22,907.76 l4,-6.6 h-8z" fill="#22E022"/>
<path d="M334.14,891.85 l4,-6.6 h-8z" fill="#22E022"/>
<line x1="97" y1="895.1" x2="116.3" y2="895.1" stroke="#000" stroke-width="2"/>
<line x1="97" y1="921.1" x2="116.3" y2="921.1" stroke="#A020F0" stroke-width="2"/>
<line x1="97" y1="946.8" x2="116.3" y2="946.8" stroke="#FF0000" stroke-width="2"/>
<line x1="97" y1="972.2" x2="116.3" y2="972.2" stroke="#22E022" stroke-width="2"/>
<circle cx="106.6" cy="895.1" r="3.3" fill="#000"/>
<rect x="103.3" y="917.8" width="6.6" height="6.6" fill="#A020F0"/>
<path d="M106.6,943.2 l3.8,6 h-7.6z" fill="#FF0000"/>
<path d="M106.6,975.8 l3.8,-6 h-7.6z" fill="#22E022"/>
<text x="126" y="900.9" font-size="15" textLength="50" lengthAdjust="spacingAndGlyphs" stroke="#000" stroke-width="0.55">Vehicle</text>
<text x="126" y="926.8" font-size="15" textLength="28.5" lengthAdjust="spacingAndGlyphs" stroke="#000" stroke-width="0.55">ALD</text>
<text x="126" y="952.5" font-size="15" textLength="84.5" lengthAdjust="spacingAndGlyphs" stroke="#000" stroke-width="0.55">RSV-alcohol</text>
<text x="126" y="977.9" font-size="15" textLength="72" lengthAdjust="spacingAndGlyphs" stroke="#000" stroke-width="0.55">RSV-water</text>
<text x="249.7" y="886.5" font-size="13" text-anchor="middle" fill="#222">*</text>
<text x="237.9" y="922.5" font-size="13" text-anchor="middle" fill="#222">***</text>
<text x="295.3" y="893.5" font-size="13" text-anchor="middle" fill="#222">**</text>
<text x="295.3" y="938.5" font-size="13" text-anchor="middle" fill="#222">**</text>
<text x="296.4" y="953.5" font-size="13" text-anchor="middle" fill="#222">***</text>
<text x="346" y="919" font-size="13" text-anchor="middle" fill="#222">**</text>
<text x="334.2" y="953" font-size="13" text-anchor="middle" fill="#222">***</text>
<text x="345.2" y="389.7" font-size="25.8">E</text>
<line x1="389.5" y1="409.7" x2="389.5" y2="514.1" stroke="#7a7a7a" stroke-width="1.4"/>
<line x1="385.1" y1="410.3" x2="389.5" y2="410.3" stroke="#7a7a7a" stroke-width="1.4"/>
<text x="383.8" y="413.9" font-size="10" text-anchor="end" textLength="19.8" lengthAdjust="spacingAndGlyphs" stroke="#000" stroke-width="0.35">150</text>
<line x1="385.1" y1="445" x2="389.5" y2="445" stroke="#7a7a7a" stroke-width="1.4"/>
<text x="383.8" y="448.6" font-size="10" text-anchor="end" textLength="19.8" lengthAdjust="spacingAndGlyphs" stroke="#000" stroke-width="0.35">100</text>
<line x1="385.1" y1="479.5" x2="389.5" y2="479.5" stroke="#7a7a7a" stroke-width="1.4"/>
<text x="383.8" y="483.1" font-size="10" text-anchor="end" textLength="13.2" lengthAdjust="spacingAndGlyphs" stroke="#000" stroke-width="0.35">50</text>
<line x1="385.1" y1="513.5" x2="389.5" y2="513.5" stroke="#7a7a7a" stroke-width="1.4"/>
<text x="383.8" y="517.1" font-size="10" text-anchor="end" textLength="6.6" lengthAdjust="spacingAndGlyphs" stroke="#000" stroke-width="0.35">0</text>
<line x1="388.8" y1="513.5" x2="500.8" y2="513.5" stroke="#7a7a7a" stroke-width="1.4"/>
<rect x="399.45" y="490.55" width="14.8" height="22.95" fill="#808080" stroke="#000" stroke-width="1.5"/>
<rect x="424.95" y="474.85" width="14.7" height="38.65" fill="#B455D9" stroke="#000" stroke-width="1.5"/>
<rect x="450.75" y="449.95" width="14.5" height="63.55" fill="#F54242" stroke="#000" stroke-width="1.5"/>
<rect x="476.15" y="481.85" width="14.6" height="31.65" fill="#A1F7A1" stroke="#000" stroke-width="1.5"/>
<line x1="406.85" y1="486" x2="406.85" y2="494.5" stroke="#222" stroke-width="0.9"/>
<line x1="403.35" y1="486" x2="410.35" y2="486" stroke="#222" stroke-width="0.9"/>
<line x1="403.35" y1="494.5" x2="410.35" y2="494.5" stroke="#222" stroke-width="0.9"/>
<line x1="432.3" y1="468" x2="432.3" y2="483" stroke="#222" stroke-width="0.9"/>
<line x1="428.8" y1="468" x2="435.8" y2="468" stroke="#222" stroke-width="0.9"/>
<line x1="428.8" y1="483" x2="435.8" y2="483" stroke="#222" stroke-width="0.9"/>
<line x1="458" y1="443.5" x2="458" y2="454.5" stroke="#222" stroke-width="0.9"/>
<line x1="454.5" y1="443.5" x2="461.5" y2="443.5" stroke="#222" stroke-width="0.9"/>
<line x1="454.5" y1="454.5" x2="461.5" y2="454.5" stroke="#222" stroke-width="0.9"/>
<line x1="483.45" y1="476" x2="483.45" y2="490" stroke="#222" stroke-width="0.9"/>
<line x1="479.95" y1="476" x2="486.95" y2="476" stroke="#222" stroke-width="0.9"/>
<line x1="479.95" y1="490" x2="486.95" y2="490" stroke="#222" stroke-width="0.9"/>
<circle cx="403.85" cy="485" r="1.2" fill="#000"/>
<circle cx="406.85" cy="486" r="1.2" fill="#000"/>
<circle cx="410.85" cy="486" r="1.2" fill="#000"/>
<circle cx="406.85" cy="493" r="1.2" fill="#000"/>
<circle cx="406.85" cy="497" r="1.2" fill="#000"/>
<rect x="431.2" y="463.9" width="2.2" height="2.2" fill="#000"/>
<rect x="431.2" y="467.4" width="2.2" height="2.2" fill="#000"/>
<rect x="431.2" y="484.9" width="2.2" height="2.2" fill="#000"/>
<path d="M458,439.57 L459.3,442.17 L456.7,442.17Z" fill="#000"/>
<path d="M456.5,444.57 L457.8,447.17 L455.2,447.17Z" fill="#000"/>
<path d="M458,462.57 L459.3,465.17 L456.7,465.17Z" fill="#000"/>
<path d="M483.45,472.43 L484.75,469.83 L482.15,469.83Z" fill="#000"/>
<path d="M483.45,479.43 L484.75,476.83 L482.15,476.83Z" fill="#000"/>
<path d="M483.45,491.43 L484.75,488.83 L482.15,488.83Z" fill="#000"/>
<polyline points="406.5,461.5 406.5,456.5 432.7,456.5 432.7,461.5" fill="none" stroke="#555" stroke-width="1.1"/>
<path d="M419.60 444.00L419.60 451.40M416.40 445.85L422.80 449.55M422.80 445.85L416.40 449.55" stroke="#000" stroke-width="1.5" fill="none"/>
<polyline points="432.7,437.3 432.7,432.7 458.5,432.7 458.5,437.3" fill="none" stroke="#555" stroke-width="1.1"/>
<path d="M445.50 420.30L445.50 427.70M442.30 422.15L448.70 425.85M448.70 422.15L442.30 425.85" stroke="#000" stroke-width="1.5" fill="none"/>
<polyline points="433.2,424.5 433.2,419.3 480.6,419.3 480.6,424.5" fill="none" stroke="#555" stroke-width="1.1"/>
<text x="457.1" y="413.5" font-size="12.8" text-anchor="middle" textLength="13.6" lengthAdjust="spacingAndGlyphs">ns</text>
<text x="357.2" y="459.9" font-size="12.2" text-anchor="middle" textLength="47.6" lengthAdjust="spacingAndGlyphs" transform="rotate(-90 357.2 459.9)">ALT(U/L)</text>
<text transform="translate(410.45 528.9) scale(1.13 1) rotate(-45)" font-size="12" stroke="#000" stroke-width="0.22" text-anchor="end">Vehicle</text>
<text transform="translate(435.9 528.9) scale(1.13 1) rotate(-45)" font-size="12" stroke="#000" stroke-width="0.22" text-anchor="end">ALD</text>
<text transform="translate(461.6 528.9) scale(1.13 1) rotate(-45)" font-size="12" stroke="#000" stroke-width="0.22" text-anchor="end">RSV-alcohol</text>
<text transform="translate(487.05 528.9) scale(1.13 1) rotate(-45)" font-size="12" stroke="#000" stroke-width="0.22" text-anchor="end">RSV-water</text>
<line x1="561.7" y1="411.1" x2="561.7" y2="514.9" stroke="#7a7a7a" stroke-width="1.4"/>
<line x1="557.3" y1="411.7" x2="561.7" y2="411.7" stroke="#7a7a7a" stroke-width="1.4"/>
<text x="553.8" y="415.3" font-size="10" text-anchor="end" textLength="19.2" lengthAdjust="spacingAndGlyphs" stroke="#000" stroke-width="0.35">400</text>
<line x1="557.3" y1="437.7" x2="561.7" y2="437.7" stroke="#7a7a7a" stroke-width="1.4"/>
<text x="553.8" y="441.3" font-size="10" text-anchor="end" textLength="19.2" lengthAdjust="spacingAndGlyphs" stroke="#000" stroke-width="0.35">300</text>
<line x1="557.3" y1="463.4" x2="561.7" y2="463.4" stroke="#7a7a7a" stroke-width="1.4"/>
<text x="553.8" y="467" font-size="10" text-anchor="end" textLength="19.2" lengthAdjust="spacingAndGlyphs" stroke="#000" stroke-width="0.35">200</text>
<line x1="557.3" y1="488.9" x2="561.7" y2="488.9" stroke="#7a7a7a" stroke-width="1.4"/>
<text x="553.8" y="492.5" font-size="10" text-anchor="end" textLength="19.2" lengthAdjust="spacingAndGlyphs" stroke="#000" stroke-width="0.35">100</text>
<line x1="557.3" y1="514.3" x2="561.7" y2="514.3" stroke="#7a7a7a" stroke-width="1.4"/>
<text x="553.8" y="517.9" font-size="10" text-anchor="end" textLength="6.4" lengthAdjust="spacingAndGlyphs" stroke="#000" stroke-width="0.35">0</text>
<line x1="561" y1="514.3" x2="672.1" y2="514.3" stroke="#111" stroke-width="1.4"/>
<rect x="570.95" y="477.45" width="14.3" height="36.85" fill="#808080" stroke="#000" stroke-width="1.5"/>
<rect x="596.45" y="463.85" width="14.2" height="50.45" fill="#B455D9" stroke="#000" stroke-width="1.5"/>
<rect x="622.05" y="449.95" width="14.4" height="64.35" fill="#F54242" stroke="#000" stroke-width="1.5"/>
<rect x="647.75" y="462.25" width="14.1" height="52.05" fill="#A1F7A1" stroke="#000" stroke-width="1.5"/>
<line x1="578.1" y1="473" x2="578.1" y2="481" stroke="#222" stroke-width="0.9"/>
<line x1="574.6" y1="473" x2="581.6" y2="473" stroke="#222" stroke-width="0.9"/>
<line x1="574.6" y1="481" x2="581.6" y2="481" stroke="#222" stroke-width="0.9"/>
<line x1="603.55" y1="457" x2="603.55" y2="469" stroke="#222" stroke-width="0.9"/>
<line x1="600.05" y1="457" x2="607.05" y2="457" stroke="#222" stroke-width="0.9"/>
<line x1="600.05" y1="469" x2="607.05" y2="469" stroke="#222" stroke-width="0.9"/>
<line x1="629.25" y1="446" x2="629.25" y2="452" stroke="#222" stroke-width="0.9"/>
<line x1="625.75" y1="446" x2="632.75" y2="446" stroke="#222" stroke-width="0.9"/>
<line x1="625.75" y1="452" x2="632.75" y2="452" stroke="#222" stroke-width="0.9"/>
<line x1="654.8" y1="454" x2="654.8" y2="470" stroke="#222" stroke-width="0.9"/>
<line x1="651.3" y1="454" x2="658.3" y2="454" stroke="#222" stroke-width="0.9"/>
<line x1="651.3" y1="470" x2="658.3" y2="470" stroke="#222" stroke-width="0.9"/>
<circle cx="578.1" cy="470" r="1.2" fill="#000"/>
<circle cx="578.1" cy="478" r="1.2" fill="#000"/>
<circle cx="579.1" cy="481" r="1.2" fill="#000"/>
<rect x="602.45" y="453.9" width="2.2" height="2.2" fill="#000"/>
<rect x="602.45" y="458.9" width="2.2" height="2.2" fill="#000"/>
<rect x="602.45" y="470.9" width="2.2" height="2.2" fill="#000"/>
<path d="M629.25,439.57 L630.55,442.17 L627.95,442.17Z" fill="#000"/>
<path d="M629.25,450.57 L630.55,453.17 L627.95,453.17Z" fill="#000"/>
<path d="M654.8,439.43 L656.1,436.83 L653.5,436.83Z" fill="#000"/>
<path d="M654.8,466.43 L656.1,463.83 L653.5,463.83Z" fill="#000"/>
<path d="M654.8,476.43 L656.1,473.83 L653.5,473.83Z" fill="#000"/>
<polyline points="578.1,450 578.1,445 603.5,445 603.5,450" fill="none" stroke="#555" stroke-width="1.1"/>
<path d="M590.70 432.50L590.70 439.90M587.50 434.35L593.90 438.05M593.90 434.35L587.50 438.05" stroke="#000" stroke-width="1.5" fill="none"/>
<polyline points="603.5,434.7 603.5,429.8 629.5,429.8 629.5,434.7" fill="none" stroke="#555" stroke-width="1.1"/>
<path d="M616.70 417.50L616.70 424.90M613.50 419.35L619.90 423.05M619.90 419.35L613.50 423.05" stroke="#000" stroke-width="1.5" fill="none"/>
<polyline points="603.5,420.4 603.5,415.5 656.4,415.5 656.4,420.4" fill="none" stroke="#555" stroke-width="1.1"/>
<text x="629.8" y="410.2" font-size="12.8" text-anchor="middle" textLength="13.6" lengthAdjust="spacingAndGlyphs">ns</text>
<text x="529" y="460.9" font-size="12.2" text-anchor="middle" textLength="48.1" lengthAdjust="spacingAndGlyphs" transform="rotate(-90 529 460.9)">AST(U/L)</text>
<text transform="translate(581.7 529.7) scale(1.13 1) rotate(-45)" font-size="12" stroke="#000" stroke-width="0.22" text-anchor="end">Vehicle</text>
<text transform="translate(607.15 529.7) scale(1.13 1) rotate(-45)" font-size="12" stroke="#000" stroke-width="0.22" text-anchor="end">ALD</text>
<text transform="translate(632.85 529.7) scale(1.13 1) rotate(-45)" font-size="12" stroke="#000" stroke-width="0.22" text-anchor="end">RSV-alcohol</text>
<text transform="translate(658.4 529.7) scale(1.13 1) rotate(-45)" font-size="12" stroke="#000" stroke-width="0.22" text-anchor="end">RSV-water</text>
<line x1="728.1" y1="415.7" x2="728.1" y2="517" stroke="#7a7a7a" stroke-width="1.4"/>
<line x1="723.7" y1="416.3" x2="728.1" y2="416.3" stroke="#7a7a7a" stroke-width="1.4"/>
<text x="721.4" y="419.9" font-size="10" text-anchor="end" textLength="13.8" lengthAdjust="spacingAndGlyphs" stroke="#000" stroke-width="0.35">65</text>
<line x1="723.7" y1="433.1" x2="728.1" y2="433.1" stroke="#7a7a7a" stroke-width="1.4"/>
<text x="721.4" y="436.7" font-size="10" text-anchor="end" textLength="13.8" lengthAdjust="spacingAndGlyphs" stroke="#000" stroke-width="0.35">60</text>
<line x1="723.7" y1="450" x2="728.1" y2="450" stroke="#7a7a7a" stroke-width="1.4"/>
<text x="721.4" y="453.6" font-size="10" text-anchor="end" textLength="13.8" lengthAdjust="spacingAndGlyphs" stroke="#000" stroke-width="0.35">55</text>
<line x1="723.7" y1="466.5" x2="728.1" y2="466.5" stroke="#7a7a7a" stroke-width="1.4"/>
<text x="721.4" y="470.1" font-size="10" text-anchor="end" textLength="13.8" lengthAdjust="spacingAndGlyphs" stroke="#000" stroke-width="0.35">50</text>
<line x1="723.7" y1="483.1" x2="728.1" y2="483.1" stroke="#7a7a7a" stroke-width="1.4"/>
<text x="721.4" y="486.7" font-size="10" text-anchor="end" textLength="13.8" lengthAdjust="spacingAndGlyphs" stroke="#000" stroke-width="0.35">45</text>
<line x1="723.7" y1="499.7" x2="728.1" y2="499.7" stroke="#7a7a7a" stroke-width="1.4"/>
<text x="721.4" y="503.3" font-size="10" text-anchor="end" textLength="13.8" lengthAdjust="spacingAndGlyphs" stroke="#000" stroke-width="0.35">40</text>
<line x1="723.7" y1="516.4" x2="728.1" y2="516.4" stroke="#7a7a7a" stroke-width="1.4"/>
<text x="721.4" y="520" font-size="10" text-anchor="end" textLength="13.8" lengthAdjust="spacingAndGlyphs" stroke="#000" stroke-width="0.35">35</text>
<line x1="727.4" y1="516.4" x2="843.3" y2="516.4" stroke="#111" stroke-width="1.4"/>
<rect x="738.15" y="443.05" width="14.9" height="73.35" fill="#808080" stroke="#000" stroke-width="1.5"/>
<rect x="764.75" y="458.95" width="14.9" height="57.45" fill="#B455D9" stroke="#000" stroke-width="1.5"/>
<rect x="791.05" y="471.55" width="14.9" height="44.85" fill="#F54242" stroke="#000" stroke-width="1.5"/>
<rect x="817.25" y="467.15" width="15.4" height="49.25" fill="#A1F7A1" stroke="#000" stroke-width="1.5"/>
<line x1="745.6" y1="438.5" x2="745.6" y2="444" stroke="#222" stroke-width="0.9"/>
<line x1="742.1" y1="438.5" x2="749.1" y2="438.5" stroke="#222" stroke-width="0.9"/>
<line x1="742.1" y1="444" x2="749.1" y2="444" stroke="#222" stroke-width="0.9"/>
<line x1="772.2" y1="456" x2="772.2" y2="460" stroke="#222" stroke-width="0.9"/>
<line x1="768.7" y1="456" x2="775.7" y2="456" stroke="#222" stroke-width="0.9"/>
<line x1="768.7" y1="460" x2="775.7" y2="460" stroke="#222" stroke-width="0.9"/>
<line x1="798.5" y1="470" x2="798.5" y2="471.5" stroke="#222" stroke-width="0.9"/>
<line x1="795" y1="470" x2="802" y2="470" stroke="#222" stroke-width="0.9"/>
<line x1="795" y1="471.5" x2="802" y2="471.5" stroke="#222" stroke-width="0.9"/>
<line x1="824.95" y1="456" x2="824.95" y2="475" stroke="#222" stroke-width="0.9"/>
<line x1="821.45" y1="456" x2="828.45" y2="456" stroke="#222" stroke-width="0.9"/>
<line x1="821.45" y1="475" x2="828.45" y2="475" stroke="#222" stroke-width="0.9"/>
<circle cx="740.6" cy="436" r="1.2" fill="#000"/>
<circle cx="749.6" cy="439" r="1.2" fill="#000"/>
<circle cx="742.6" cy="446" r="1.2" fill="#000"/>
<circle cx="747.6" cy="447" r="1.2" fill="#000"/>
<rect x="771.1" y="452.9" width="2.2" height="2.2" fill="#000"/>
<rect x="771.1" y="458.9" width="2.2" height="2.2" fill="#000"/>
<path d="M798.5,468.07 L799.8,470.67 L797.2,470.67Z" fill="#000"/>
<path d="M824.95,444.43 L826.25,441.83 L823.65,441.83Z" fill="#000"/>
<path d="M819.95,462.43 L821.25,459.83 L818.65,459.83Z" fill="#000"/>
<path d="M824.95,463.43 L826.25,460.83 L823.65,460.83Z" fill="#000"/>
<path d="M829.95,463.43 L831.25,460.83 L828.65,460.83Z" fill="#000"/>
<path d="M824.95,501.43 L826.25,498.83 L823.65,498.83Z" fill="#000"/>
<polyline points="745.3,434.4 745.3,429.5 770.6,429.5 770.6,434.4" fill="none" stroke="#555" stroke-width="1.1"/>
<path d="M748.55 418.00L748.55 425.40M745.35 419.85L751.75 423.55M751.75 419.85L745.35 423.55" stroke="#000" stroke-width="1.5" fill="none"/>
<path d="M758.30 418.00L758.30 425.40M755.10 419.85L761.50 423.55M761.50 419.85L755.10 423.55" stroke="#000" stroke-width="1.5" fill="none"/>
<path d="M768.05 418.00L768.05 425.40M764.85 419.85L771.25 423.55M771.25 419.85L764.85 423.55" stroke="#000" stroke-width="1.5" fill="none"/>
<polyline points="776.5,435.2 776.5,430.3 801.4,430.3 801.4,435.2" fill="none" stroke="#555" stroke-width="1.1"/>
<path d="M779.75 418.00L779.75 425.40M776.55 419.85L782.95 423.55M782.95 419.85L776.55 423.55" stroke="#000" stroke-width="1.5" fill="none"/>
<path d="M789.50 418.00L789.50 425.40M786.30 419.85L792.70 423.55M792.70 419.85L786.30 423.55" stroke="#000" stroke-width="1.5" fill="none"/>
<path d="M799.25 418.00L799.25 425.40M796.05 419.85L802.45 423.55M802.45 419.85L796.05 423.55" stroke="#000" stroke-width="1.5" fill="none"/>
<polyline points="776,419.6 776,414.4 826.4,414.4 826.4,419.6" fill="none" stroke="#555" stroke-width="1.1"/>
<text x="801.2" y="409.3" font-size="12.8" text-anchor="middle" textLength="13.6" lengthAdjust="spacingAndGlyphs">ns</text>
<text x="702.2" y="464.2" font-size="12.2" text-anchor="middle" textLength="38.6" lengthAdjust="spacingAndGlyphs" transform="rotate(-90 702.2 464.2)">TP(g/L)</text>
<text transform="translate(749.2 531.8) scale(1.13 1) rotate(-45)" font-size="12" stroke="#000" stroke-width="0.22" text-anchor="end">Vehicle</text>
<text transform="translate(775.8 531.8) scale(1.13 1) rotate(-45)" font-size="12" stroke="#000" stroke-width="0.22" text-anchor="end">ALD</text>
<text transform="translate(802.1 531.8) scale(1.13 1) rotate(-45)" font-size="12" stroke="#000" stroke-width="0.22" text-anchor="end">RSV-alcohol</text>
<text transform="translate(828.55 531.8) scale(1.13 1) rotate(-45)" font-size="12" stroke="#000" stroke-width="0.22" text-anchor="end">RSV-water</text>
<line x1="899.6" y1="410.8" x2="899.6" y2="514.9" stroke="#111" stroke-width="1.4"/>
<line x1="895.2" y1="411.4" x2="899.6" y2="411.4" stroke="#111" stroke-width="1.4"/>
<text x="892.6" y="415" font-size="10" text-anchor="end" textLength="13.2" lengthAdjust="spacingAndGlyphs" stroke="#000" stroke-width="0.35">40</text>
<line x1="895.2" y1="437.3" x2="899.6" y2="437.3" stroke="#111" stroke-width="1.4"/>
<text x="892.6" y="440.9" font-size="10" text-anchor="end" textLength="13.2" lengthAdjust="spacingAndGlyphs" stroke="#000" stroke-width="0.35">30</text>
<line x1="895.2" y1="462.8" x2="899.6" y2="462.8" stroke="#111" stroke-width="1.4"/>
<text x="892.6" y="466.4" font-size="10" text-anchor="end" textLength="13.2" lengthAdjust="spacingAndGlyphs" stroke="#000" stroke-width="0.35">20</text>
<line x1="895.2" y1="488.5" x2="899.6" y2="488.5" stroke="#111" stroke-width="1.4"/>
<text x="892.6" y="492.1" font-size="10" text-anchor="end" textLength="13.2" lengthAdjust="spacingAndGlyphs" stroke="#000" stroke-width="0.35">10</text>
<line x1="895.2" y1="514.3" x2="899.6" y2="514.3" stroke="#111" stroke-width="1.4"/>
<text x="892.6" y="517.9" font-size="10" text-anchor="end" textLength="6.6" lengthAdjust="spacingAndGlyphs" stroke="#000" stroke-width="0.35">0</text>
<line x1="898.9" y1="514.3" x2="1014.4" y2="514.3" stroke="#111" stroke-width="1.4"/>
<rect x="909.75" y="458.45" width="14.7" height="55.85" fill="#808080" stroke="#000" stroke-width="1.5"/>
<rect x="936.05" y="467.15" width="14.6" height="47.15" fill="#B455D9" stroke="#000" stroke-width="1.5"/>
<rect x="962.75" y="454.85" width="14.8" height="59.45" fill="#F54242" stroke="#000" stroke-width="1.5"/>
<rect x="989.05" y="466.65" width="14.8" height="47.65" fill="#A1F7A1" stroke="#000" stroke-width="1.5"/>
<line x1="917.1" y1="456" x2="917.1" y2="459.5" stroke="#222" stroke-width="0.9"/>
<line x1="913.6" y1="456" x2="920.6" y2="456" stroke="#222" stroke-width="0.9"/>
<line x1="913.6" y1="459.5" x2="920.6" y2="459.5" stroke="#222" stroke-width="0.9"/>
<line x1="943.35" y1="465" x2="943.35" y2="467.5" stroke="#222" stroke-width="0.9"/>
<line x1="939.85" y1="465" x2="946.85" y2="465" stroke="#222" stroke-width="0.9"/>
<line x1="939.85" y1="467.5" x2="946.85" y2="467.5" stroke="#222" stroke-width="0.9"/>
<line x1="970.15" y1="444" x2="970.15" y2="463" stroke="#222" stroke-width="0.9"/>
<line x1="966.65" y1="444" x2="973.65" y2="444" stroke="#222" stroke-width="0.9"/>
<line x1="966.65" y1="463" x2="973.65" y2="463" stroke="#222" stroke-width="0.9"/>
<line x1="996.45" y1="463" x2="996.45" y2="468" stroke="#222" stroke-width="0.9"/>
<line x1="992.95" y1="463" x2="999.95" y2="463" stroke="#222" stroke-width="0.9"/>
<line x1="992.95" y1="468" x2="999.95" y2="468" stroke="#222" stroke-width="0.9"/>
<circle cx="916.1" cy="455" r="1.2" fill="#000"/>
<circle cx="918.1" cy="458" r="1.2" fill="#000"/>
<circle cx="917.1" cy="462" r="1.2" fill="#000"/>
<rect x="942.25" y="459.9" width="2.2" height="2.2" fill="#000"/>
<rect x="940.25" y="466.9" width="2.2" height="2.2" fill="#000"/>
<rect x="944.25" y="466.9" width="2.2" height="2.2" fill="#000"/>
<path d="M970.15,424.57 L971.45,427.17 L968.85,427.17Z" fill="#000"/>
<path d="M970.15,464.57 L971.45,467.17 L968.85,467.17Z" fill="#000"/>
<path d="M971.15,466.57 L972.45,469.17 L969.85,469.17Z" fill="#000"/>
<path d="M996.45,461.43 L997.75,458.83 L995.15,458.83Z" fill="#000"/>
<path d="M996.45,472.43 L997.75,469.83 L995.15,469.83Z" fill="#000"/>
<polyline points="916.1,451.1 916.1,446.4 941.6,446.4 941.6,451.1" fill="none" stroke="#555" stroke-width="1.1"/>
<path d="M919.45 435.00L919.45 442.40M916.25 436.85L922.65 440.55M922.65 436.85L916.25 440.55" stroke="#000" stroke-width="1.5" fill="none"/>
<path d="M929.20 435.00L929.20 442.40M926.00 436.85L932.40 440.55M932.40 436.85L926.00 440.55" stroke="#000" stroke-width="1.5" fill="none"/>
<path d="M938.95 435.00L938.95 442.40M935.75 436.85L942.15 440.55M942.15 436.85L935.75 440.55" stroke="#000" stroke-width="1.5" fill="none"/>
<polyline points="946.3,434.7 946.3,429.8 971.8,429.8 971.8,434.7" fill="none" stroke="#555" stroke-width="1.1"/>
<text x="959.2" y="425" font-size="12.8" text-anchor="middle" textLength="13.6" lengthAdjust="spacingAndGlyphs">ns</text>
<polyline points="944.7,420.4 944.7,415.5 997.7,415.5 997.7,420.4" fill="none" stroke="#555" stroke-width="1.1"/>
<text x="971.1" y="410.6" font-size="12.8" text-anchor="middle" textLength="13.6" lengthAdjust="spacingAndGlyphs">ns</text>
<text x="872.8" y="460.9" font-size="12.2" text-anchor="middle" textLength="47.6" lengthAdjust="spacingAndGlyphs" transform="rotate(-90 872.8 460.9)">ALB(g/L)</text>
<text transform="translate(920.7 529.7) scale(1.13 1) rotate(-45)" font-size="12" stroke="#000" stroke-width="0.22" text-anchor="end">Vehicle</text>
<text transform="translate(946.95 529.7) scale(1.13 1) rotate(-45)" font-size="12" stroke="#000" stroke-width="0.22" text-anchor="end">ALD</text>
<text transform="translate(973.75 529.7) scale(1.13 1) rotate(-45)" font-size="12" stroke="#000" stroke-width="0.22" text-anchor="end">RSV-alcohol</text>
<text transform="translate(1000.05 529.7) scale(1.13 1) rotate(-45)" font-size="12" stroke="#000" stroke-width="0.22" text-anchor="end">RSV-water</text>
<line x1="379.7" y1="607.9" x2="379.7" y2="712" stroke="#7a7a7a" stroke-width="1.4"/>
<line x1="375.3" y1="608.5" x2="379.7" y2="608.5" stroke="#7a7a7a" stroke-width="1.4"/>
<text x="373.2" y="612.1" font-size="10" text-anchor="end" textLength="6.6" lengthAdjust="spacingAndGlyphs" stroke="#000" stroke-width="0.35">5</text>
<line x1="375.3" y1="629.4" x2="379.7" y2="629.4" stroke="#7a7a7a" stroke-width="1.4"/>
<text x="373.2" y="633" font-size="10" text-anchor="end" textLength="6.6" lengthAdjust="spacingAndGlyphs" stroke="#000" stroke-width="0.35">4</text>
<line x1="375.3" y1="649.6" x2="379.7" y2="649.6" stroke="#7a7a7a" stroke-width="1.4"/>
<text x="373.2" y="653.2" font-size="10" text-anchor="end" textLength="6.6" lengthAdjust="spacingAndGlyphs" stroke="#000" stroke-width="0.35">3</text>
<line x1="375.3" y1="670.4" x2="379.7" y2="670.4" stroke="#7a7a7a" stroke-width="1.4"/>
<text x="373.2" y="674" font-size="10" text-anchor="end" textLength="6.6" lengthAdjust="spacingAndGlyphs" stroke="#000" stroke-width="0.35">2</text>
<line x1="375.3" y1="690.6" x2="379.7" y2="690.6" stroke="#7a7a7a" stroke-width="1.4"/>
<text x="373.2" y="694.2" font-size="10" text-anchor="end" textLength="6.6" lengthAdjust="spacingAndGlyphs" stroke="#000" stroke-width="0.35">1</text>
<line x1="375.3" y1="711.4" x2="379.7" y2="711.4" stroke="#7a7a7a" stroke-width="1.4"/>
<text x="373.2" y="715" font-size="10" text-anchor="end" textLength="6.6" lengthAdjust="spacingAndGlyphs" stroke="#000" stroke-width="0.35">0</text>
<line x1="379" y1="711.4" x2="499.5" y2="711.4" stroke="#111" stroke-width="1.4"/>
<rect x="390.35" y="670.85" width="15.7" height="40.55" fill="#808080" stroke="#000" stroke-width="1.5"/>
<rect x="418.25" y="655.05" width="15" height="56.35" fill="#B455D9" stroke="#000" stroke-width="1.5"/>
<rect x="445.45" y="656.05" width="15.2" height="55.35" fill="#F54242" stroke="#000" stroke-width="1.5"/>
<rect x="473.35" y="665.95" width="15.2" height="45.45" fill="#A1F7A1" stroke="#000" stroke-width="1.5"/>
<line x1="398.2" y1="666" x2="398.2" y2="672" stroke="#222" stroke-width="0.9"/>
<line x1="394.7" y1="666" x2="401.7" y2="666" stroke="#222" stroke-width="0.9"/>
<line x1="394.7" y1="672" x2="401.7" y2="672" stroke="#222" stroke-width="0.9"/>
<line x1="425.75" y1="646.5" x2="425.75" y2="661" stroke="#222" stroke-width="0.9"/>
<line x1="422.25" y1="646.5" x2="429.25" y2="646.5" stroke="#222" stroke-width="0.9"/>
<line x1="422.25" y1="661" x2="429.25" y2="661" stroke="#222" stroke-width="0.9"/>
<line x1="453.05" y1="654" x2="453.05" y2="656" stroke="#222" stroke-width="0.9"/>
<line x1="449.55" y1="654" x2="456.55" y2="654" stroke="#222" stroke-width="0.9"/>
<line x1="449.55" y1="656" x2="456.55" y2="656" stroke="#222" stroke-width="0.9"/>
<line x1="480.95" y1="658" x2="480.95" y2="671" stroke="#222" stroke-width="0.9"/>
<line x1="477.45" y1="658" x2="484.45" y2="658" stroke="#222" stroke-width="0.9"/>
<line x1="477.45" y1="671" x2="484.45" y2="671" stroke="#222" stroke-width="0.9"/>
<circle cx="398.2" cy="663" r="1.2" fill="#000"/>
<circle cx="398.2" cy="666" r="1.2" fill="#000"/>
<circle cx="398.2" cy="672" r="1.2" fill="#000"/>
<circle cx="398.2" cy="679" r="1.2" fill="#000"/>
<rect x="424.65" y="631.9" width="2.2" height="2.2" fill="#000"/>
<rect x="424.65" y="658.9" width="2.2" height="2.2" fill="#000"/>
<rect x="424.65" y="664.9" width="2.2" height="2.2" fill="#000"/>
<path d="M453.05,654.57 L454.35,657.17 L451.75,657.17Z" fill="#000"/>
<path d="M449.05,651.57 L450.35,654.17 L447.75,654.17Z" fill="#000"/>
<path d="M457.05,651.57 L458.35,654.17 L455.75,654.17Z" fill="#000"/>
<path d="M480.95,646.43 L482.25,643.83 L479.65,643.83Z" fill="#000"/>
<path d="M480.95,663.43 L482.25,660.83 L479.65,660.83Z" fill="#000"/>
<path d="M480.95,685.43 L482.25,682.83 L479.65,682.83Z" fill="#000"/>
<polyline points="397.1,638.4 397.1,633.5 423.7,633.5 423.7,638.4" fill="none" stroke="#555" stroke-width="1.1"/>
<text x="410.2" y="628.5" font-size="12.8" text-anchor="middle" textLength="32" lengthAdjust="spacingAndGlyphs">0.062</text>
<polyline points="428.3,638.4 428.3,633.5 454.4,633.5 454.4,638.4" fill="none" stroke="#555" stroke-width="1.1"/>
<text x="441.4" y="628.9" font-size="12.8" text-anchor="middle" textLength="13.6" lengthAdjust="spacingAndGlyphs">ns</text>
<polyline points="429.1,617 429.1,611.8 480.8,611.8 480.8,617" fill="none" stroke="#555" stroke-width="1.1"/>
<text x="455.3" y="606.9" font-size="12.8" text-anchor="middle" textLength="13.6" lengthAdjust="spacingAndGlyphs">ns</text>
<text x="359.8" y="657.7" font-size="12.2" text-anchor="middle" textLength="78.1" lengthAdjust="spacingAndGlyphs" transform="rotate(-90 359.8 657.7)">CHOL(mmol/L)</text>
<text transform="translate(401.8 726.8) scale(1.13 1) rotate(-45)" font-size="12" stroke="#000" stroke-width="0.22" text-anchor="end">Vehicle</text>
<text transform="translate(429.35 726.8) scale(1.13 1) rotate(-45)" font-size="12" stroke="#000" stroke-width="0.22" text-anchor="end">ALD</text>
<text transform="translate(456.65 726.8) scale(1.13 1) rotate(-45)" font-size="12" stroke="#000" stroke-width="0.22" text-anchor="end">RSV-alcohol</text>
<text transform="translate(484.55 726.8) scale(1.13 1) rotate(-45)" font-size="12" stroke="#000" stroke-width="0.22" text-anchor="end">RSV-water</text>
<line x1="557.6" y1="614.8" x2="557.6" y2="715" stroke="#111" stroke-width="1.4"/>
<line x1="553.2" y1="615.4" x2="557.6" y2="615.4" stroke="#111" stroke-width="1.4"/>
<text x="550.6" y="619" font-size="10" text-anchor="end" textLength="13.4" lengthAdjust="spacingAndGlyphs" stroke="#000" stroke-width="0.35">40</text>
<line x1="553.2" y1="640" x2="557.6" y2="640" stroke="#111" stroke-width="1.4"/>
<text x="550.6" y="643.6" font-size="10" text-anchor="end" textLength="13.4" lengthAdjust="spacingAndGlyphs" stroke="#000" stroke-width="0.35">35</text>
<line x1="553.2" y1="664.7" x2="557.6" y2="664.7" stroke="#111" stroke-width="1.4"/>
<text x="550.6" y="668.3" font-size="10" text-anchor="end" textLength="13.4" lengthAdjust="spacingAndGlyphs" stroke="#000" stroke-width="0.35">30</text>
<line x1="553.2" y1="689.3" x2="557.6" y2="689.3" stroke="#111" stroke-width="1.4"/>
<text x="550.6" y="692.9" font-size="10" text-anchor="end" textLength="13.4" lengthAdjust="spacingAndGlyphs" stroke="#000" stroke-width="0.35">25</text>
<line x1="553.2" y1="714.4" x2="557.6" y2="714.4" stroke="#111" stroke-width="1.4"/>
<text x="550.6" y="718" font-size="10" text-anchor="end" textLength="13.4" lengthAdjust="spacingAndGlyphs" stroke="#000" stroke-width="0.35">20</text>
<line x1="556.9" y1="714.4" x2="672.8" y2="714.4" stroke="#111" stroke-width="1.4"/>
<rect x="567.85" y="639.45" width="14.8" height="74.95" fill="#808080" stroke="#000" stroke-width="1.5"/>
<rect x="594.15" y="647.05" width="14.9" height="67.35" fill="#B455D9" stroke="#000" stroke-width="1.5"/>
<rect x="621.05" y="664.15" width="14.9" height="50.25" fill="#F54242" stroke="#000" stroke-width="1.5"/>
<rect x="647.25" y="659.95" width="14.9" height="54.45" fill="#A1F7A1" stroke="#000" stroke-width="1.5"/>
<line x1="575.25" y1="636.5" x2="575.25" y2="640" stroke="#222" stroke-width="0.9"/>
<line x1="571.75" y1="636.5" x2="578.75" y2="636.5" stroke="#222" stroke-width="0.9"/>
<line x1="571.75" y1="640" x2="578.75" y2="640" stroke="#222" stroke-width="0.9"/>
<line x1="601.6" y1="641.5" x2="601.6" y2="649.5" stroke="#222" stroke-width="0.9"/>
<line x1="598.1" y1="641.5" x2="605.1" y2="641.5" stroke="#222" stroke-width="0.9"/>
<line x1="598.1" y1="649.5" x2="605.1" y2="649.5" stroke="#222" stroke-width="0.9"/>
<line x1="628.5" y1="662.5" x2="628.5" y2="663.8" stroke="#222" stroke-width="0.9"/>
<line x1="625" y1="662.5" x2="632" y2="662.5" stroke="#222" stroke-width="0.9"/>
<line x1="625" y1="663.8" x2="632" y2="663.8" stroke="#222" stroke-width="0.9"/>
<line x1="654.7" y1="647" x2="654.7" y2="670" stroke="#222" stroke-width="0.9"/>
<line x1="651.2" y1="647" x2="658.2" y2="647" stroke="#222" stroke-width="0.9"/>
<line x1="651.2" y1="670" x2="658.2" y2="670" stroke="#222" stroke-width="0.9"/>
<circle cx="575.25" cy="632" r="1.2" fill="#000"/>
<circle cx="575.25" cy="636" r="1.2" fill="#000"/>
<circle cx="575.25" cy="646" r="1.2" fill="#000"/>
<rect x="600.5" y="639.9" width="2.2" height="2.2" fill="#000"/>
<rect x="600.5" y="654.9" width="2.2" height="2.2" fill="#000"/>
<path d="M628.5,661.57 L629.8,664.17 L627.2,664.17Z" fill="#000"/>
<path d="M654.7,628.43 L656,625.83 L653.4,625.83Z" fill="#000"/>
<path d="M654.7,659.43 L656,656.83 L653.4,656.83Z" fill="#000"/>
<path d="M654.7,697.43 L656,694.83 L653.4,694.83Z" fill="#000"/>
<polyline points="574.5,630.2 574.5,625.3 600.3,625.3 600.3,630.2" fill="none" stroke="#555" stroke-width="1.1"/>
<text x="587.7" y="620.7" font-size="12.8" text-anchor="middle" textLength="13.6" lengthAdjust="spacingAndGlyphs">ns</text>
<polyline points="602.4,630.7 602.4,625.8 628.1,625.8 628.1,630.7" fill="none" stroke="#555" stroke-width="1.1"/>
<path d="M615.00 613.50L615.00 620.90M611.80 615.35L618.20 619.05M618.20 615.35L611.80 619.05" stroke="#000" stroke-width="1.5" fill="none"/>
<polyline points="607.6,616.3 607.6,611.3 654.7,611.3 654.7,616.3" fill="none" stroke="#555" stroke-width="1.1"/>
<text x="631.1" y="606.9" font-size="12.8" text-anchor="middle" textLength="13.6" lengthAdjust="spacingAndGlyphs">ns</text>
<text x="530.2" y="662" font-size="12.2" text-anchor="middle" textLength="55.1" lengthAdjust="spacingAndGlyphs" transform="rotate(-90 530.2 662)">GLOB(g/L)</text>
<text transform="translate(578.85 729.8) scale(1.13 1) rotate(-45)" font-size="12" stroke="#000" stroke-width="0.22" text-anchor="end">Vehicle</text>
<text transform="translate(605.2 729.8) scale(1.13 1) rotate(-45)" font-size="12" stroke="#000" stroke-width="0.22" text-anchor="end">ALD</text>
<text transform="translate(632.1 729.8) scale(1.13 1) rotate(-45)" font-size="12" stroke="#000" stroke-width="0.22" text-anchor="end">RSV-alcohol</text>
<text transform="translate(658.3 729.8) scale(1.13 1) rotate(-45)" font-size="12" stroke="#000" stroke-width="0.22" text-anchor="end">RSV-water</text>
<line x1="730" y1="606.3" x2="730" y2="711.2" stroke="#111" stroke-width="1.4"/>
<line x1="725.6" y1="606.9" x2="730" y2="606.9" stroke="#111" stroke-width="1.4"/>
<text x="723.8" y="610.5" font-size="10" text-anchor="end" textLength="16.4" lengthAdjust="spacingAndGlyphs" stroke="#000" stroke-width="0.35">1.5</text>
<line x1="725.6" y1="641.7" x2="730" y2="641.7" stroke="#111" stroke-width="1.4"/>
<text x="723.8" y="645.3" font-size="10" text-anchor="end" textLength="16.4" lengthAdjust="spacingAndGlyphs" stroke="#000" stroke-width="0.35">1.0</text>
<line x1="725.6" y1="676.1" x2="730" y2="676.1" stroke="#111" stroke-width="1.4"/>
<text x="723.8" y="679.7" font-size="10" text-anchor="end" textLength="16.4" lengthAdjust="spacingAndGlyphs" stroke="#000" stroke-width="0.35">0.5</text>
<line x1="725.6" y1="710.6" x2="730" y2="710.6" stroke="#111" stroke-width="1.4"/>
<text x="723.8" y="714.2" font-size="10" text-anchor="end" textLength="16.4" lengthAdjust="spacingAndGlyphs" stroke="#000" stroke-width="0.35">0.0</text>
<line x1="729.3" y1="710.6" x2="843.3" y2="710.6" stroke="#111" stroke-width="1.4"/>
<rect x="740.15" y="656.75" width="14.9" height="53.85" fill="#808080" stroke="#000" stroke-width="1.5"/>
<rect x="766.05" y="651.75" width="14.9" height="58.85" fill="#B455D9" stroke="#000" stroke-width="1.5"/>
<rect x="792.05" y="648.65" width="14.9" height="61.95" fill="#F54242" stroke="#000" stroke-width="1.5"/>
<rect x="818.05" y="648.55" width="15" height="62.05" fill="#A1F7A1" stroke="#000" stroke-width="1.5"/>
<line x1="747.6" y1="652.5" x2="747.6" y2="660" stroke="#222" stroke-width="0.9"/>
<line x1="744.1" y1="652.5" x2="751.1" y2="652.5" stroke="#222" stroke-width="0.9"/>
<line x1="744.1" y1="660" x2="751.1" y2="660" stroke="#222" stroke-width="0.9"/>
<line x1="773.5" y1="646" x2="773.5" y2="655" stroke="#222" stroke-width="0.9"/>
<line x1="770" y1="646" x2="777" y2="646" stroke="#222" stroke-width="0.9"/>
<line x1="770" y1="655" x2="777" y2="655" stroke="#222" stroke-width="0.9"/>
<line x1="799.5" y1="645" x2="799.5" y2="649" stroke="#222" stroke-width="0.9"/>
<line x1="796" y1="645" x2="803" y2="645" stroke="#222" stroke-width="0.9"/>
<line x1="796" y1="649" x2="803" y2="649" stroke="#222" stroke-width="0.9"/>
<line x1="825.55" y1="637.5" x2="825.55" y2="657" stroke="#222" stroke-width="0.9"/>
<line x1="822.05" y1="637.5" x2="829.05" y2="637.5" stroke="#222" stroke-width="0.9"/>
<line x1="822.05" y1="657" x2="829.05" y2="657" stroke="#222" stroke-width="0.9"/>
<circle cx="747.6" cy="647" r="1.2" fill="#000"/>
<circle cx="747.6" cy="652" r="1.2" fill="#000"/>
<circle cx="741.6" cy="659" r="1.2" fill="#000"/>
<circle cx="753.6" cy="659" r="1.2" fill="#000"/>
<circle cx="747.6" cy="660" r="1.2" fill="#000"/>
<rect x="772.4" y="637.9" width="2.2" height="2.2" fill="#000"/>
<rect x="772.4" y="645.9" width="2.2" height="2.2" fill="#000"/>
<rect x="772.4" y="653.9" width="2.2" height="2.2" fill="#000"/>
<rect x="772.4" y="660.9" width="2.2" height="2.2" fill="#000"/>
<path d="M799.5,639.57 L800.8,642.17 L798.2,642.17Z" fill="#000"/>
<path d="M795.5,648.57 L796.8,651.17 L794.2,651.17Z" fill="#000"/>
<path d="M803.5,648.57 L804.8,651.17 L802.2,651.17Z" fill="#000"/>
<path d="M825.55,623.43 L826.85,620.83 L824.25,620.83Z" fill="#000"/>
<path d="M825.55,644.43 L826.85,641.83 L824.25,641.83Z" fill="#000"/>
<path d="M825.55,671.43 L826.85,668.83 L824.25,668.83Z" fill="#000"/>
<polyline points="748.9,633.5 748.9,628.6 773.5,628.6 773.5,633.5" fill="none" stroke="#555" stroke-width="1.1"/>
<text x="761.2" y="623.3" font-size="12.8" text-anchor="middle" textLength="13.6" lengthAdjust="spacingAndGlyphs">ns</text>
<polyline points="775.2,633.5 775.2,628.6 799.3,628.6 799.3,633.5" fill="none" stroke="#555" stroke-width="1.1"/>
<text x="787" y="623.3" font-size="12.8" text-anchor="middle" textLength="13.6" lengthAdjust="spacingAndGlyphs">ns</text>
<polyline points="800.6,617.6 800.6,612.2 825.7,612.2 825.7,617.6" fill="none" stroke="#555" stroke-width="1.1"/>
<text x="813.1" y="607.2" font-size="12.8" text-anchor="middle" textLength="13.6" lengthAdjust="spacingAndGlyphs">ns</text>
<text x="700.8" y="656.5" font-size="12.2" text-anchor="middle" textLength="64.1" lengthAdjust="spacingAndGlyphs" transform="rotate(-90 700.8 656.5)">TG(mmol/L)</text>
<text transform="translate(751.2 726) scale(1.13 1) rotate(-45)" font-size="12" stroke="#000" stroke-width="0.22" text-anchor="end">Vehicle</text>
<text transform="translate(777.1 726) scale(1.13 1) rotate(-45)" font-size="12" stroke="#000" stroke-width="0.22" text-anchor="end">ALD</text>
<text transform="translate(803.1 726) scale(1.13 1) rotate(-45)" font-size="12" stroke="#000" stroke-width="0.22" text-anchor="end">RSV-alcohol</text>
<text transform="translate(829.15 726) scale(1.13 1) rotate(-45)" font-size="12" stroke="#000" stroke-width="0.22" text-anchor="end">RSV-water</text>
<line x1="901.7" y1="610.4" x2="901.7" y2="712.9" stroke="#7a7a7a" stroke-width="1.4"/>
<line x1="897.3" y1="611" x2="901.7" y2="611" stroke="#7a7a7a" stroke-width="1.4"/>
<text x="894.6" y="614.6" font-size="10" text-anchor="end" textLength="16.4" lengthAdjust="spacingAndGlyphs" stroke="#000" stroke-width="0.35">2.5</text>
<line x1="897.3" y1="631" x2="901.7" y2="631" stroke="#7a7a7a" stroke-width="1.4"/>
<text x="894.6" y="634.6" font-size="10" text-anchor="end" textLength="16.4" lengthAdjust="spacingAndGlyphs" stroke="#000" stroke-width="0.35">2.0</text>
<line x1="897.3" y1="651.5" x2="901.7" y2="651.5" stroke="#7a7a7a" stroke-width="1.4"/>
<text x="894.6" y="655.1" font-size="10" text-anchor="end" textLength="16.4" lengthAdjust="spacingAndGlyphs" stroke="#000" stroke-width="0.35">1.5</text>
<line x1="897.3" y1="671.7" x2="901.7" y2="671.7" stroke="#7a7a7a" stroke-width="1.4"/>
<text x="894.6" y="675.3" font-size="10" text-anchor="end" textLength="16.4" lengthAdjust="spacingAndGlyphs" stroke="#000" stroke-width="0.35">1.0</text>
<line x1="897.3" y1="692.1" x2="901.7" y2="692.1" stroke="#7a7a7a" stroke-width="1.4"/>
<text x="894.6" y="695.7" font-size="10" text-anchor="end" textLength="16.4" lengthAdjust="spacingAndGlyphs" stroke="#000" stroke-width="0.35">0.5</text>
<line x1="897.3" y1="712.3" x2="901.7" y2="712.3" stroke="#7a7a7a" stroke-width="1.4"/>
<text x="894.6" y="715.9" font-size="10" text-anchor="end" textLength="16.4" lengthAdjust="spacingAndGlyphs" stroke="#000" stroke-width="0.35">0.0</text>
<line x1="901" y1="712.3" x2="1014.9" y2="712.3" stroke="#111" stroke-width="1.4"/>
<rect x="911.75" y="668.35" width="14.6" height="43.95" fill="#808080" stroke="#000" stroke-width="1.5"/>
<rect x="938.05" y="648.55" width="14.2" height="63.75" fill="#B455D9" stroke="#000" stroke-width="1.5"/>
<rect x="963.95" y="651.95" width="14.6" height="60.35" fill="#F54242" stroke="#000" stroke-width="1.5"/>
<rect x="989.95" y="662.95" width="14.4" height="49.35" fill="#A1F7A1" stroke="#000" stroke-width="1.5"/>
<line x1="919.05" y1="664.5" x2="919.05" y2="670.5" stroke="#222" stroke-width="0.9"/>
<line x1="915.55" y1="664.5" x2="922.55" y2="664.5" stroke="#222" stroke-width="0.9"/>
<line x1="915.55" y1="670.5" x2="922.55" y2="670.5" stroke="#222" stroke-width="0.9"/>
<line x1="945.15" y1="640" x2="945.15" y2="654" stroke="#222" stroke-width="0.9"/>
<line x1="941.65" y1="640" x2="948.65" y2="640" stroke="#222" stroke-width="0.9"/>
<line x1="941.65" y1="654" x2="948.65" y2="654" stroke="#222" stroke-width="0.9"/>
<line x1="971.25" y1="644" x2="971.25" y2="656" stroke="#222" stroke-width="0.9"/>
<line x1="967.75" y1="644" x2="974.75" y2="644" stroke="#222" stroke-width="0.9"/>
<line x1="967.75" y1="656" x2="974.75" y2="656" stroke="#222" stroke-width="0.9"/>
<line x1="997.15" y1="655.5" x2="997.15" y2="668" stroke="#222" stroke-width="0.9"/>
<line x1="993.65" y1="655.5" x2="1000.65" y2="655.5" stroke="#222" stroke-width="0.9"/>
<line x1="993.65" y1="668" x2="1000.65" y2="668" stroke="#222" stroke-width="0.9"/>
<circle cx="919.05" cy="660" r="1.2" fill="#000"/>
<circle cx="919.05" cy="667" r="1.2" fill="#000"/>
<circle cx="919.05" cy="675" r="1.2" fill="#000"/>
<rect x="944.05" y="627.9" width="2.2" height="2.2" fill="#000"/>
<rect x="944.05" y="643.9" width="2.2" height="2.2" fill="#000"/>
<rect x="944.05" y="650.9" width="2.2" height="2.2" fill="#000"/>
<rect x="944.05" y="659.9" width="2.2" height="2.2" fill="#000"/>
<path d="M971.25,640.57 L972.55,643.17 L969.95,643.17Z" fill="#000"/>
<path d="M971.25,665.57 L972.55,668.17 L969.95,668.17Z" fill="#000"/>
<path d="M997.15,645.43 L998.45,642.83 L995.85,642.83Z" fill="#000"/>
<path d="M997.15,658.43 L998.45,655.83 L995.85,655.83Z" fill="#000"/>
<path d="M997.15,683.43 L998.45,680.83 L995.85,680.83Z" fill="#000"/>
<polyline points="916.1,633.5 916.1,628.6 941.6,628.6 941.6,633.5" fill="none" stroke="#555" stroke-width="1.1"/>
<path d="M929.30 616.50L929.30 623.90M926.10 618.35L932.50 622.05M932.50 618.35L926.10 622.05" stroke="#000" stroke-width="1.5" fill="none"/>
<polyline points="948.5,633.5 948.5,628.6 973.4,628.6 973.4,633.5" fill="none" stroke="#555" stroke-width="1.1"/>
<text x="961" y="623.3" font-size="12.8" text-anchor="middle" textLength="13.6" lengthAdjust="spacingAndGlyphs">ns</text>
<polyline points="946,616.6 946,611.3 997.7,611.3 997.7,616.6" fill="none" stroke="#555" stroke-width="1.1"/>
<text x="971.6" y="606.7" font-size="12.8" text-anchor="middle" textLength="13.6" lengthAdjust="spacingAndGlyphs">ns</text>
<text x="872.8" y="659.3" font-size="12.2" text-anchor="middle" textLength="68.6" lengthAdjust="spacingAndGlyphs" transform="rotate(-90 872.8 659.3)">HDL(mmol/L)</text>
<text transform="translate(922.65 727.7) scale(1.13 1) rotate(-45)" font-size="12" stroke="#000" stroke-width="0.22" text-anchor="end">Vehicle</text>
<text transform="translate(948.75 727.7) scale(1.13 1) rotate(-45)" font-size="12" stroke="#000" stroke-width="0.22" text-anchor="end">ALD</text>
<text transform="translate(974.85 727.7) scale(1.13 1) rotate(-45)" font-size="12" stroke="#000" stroke-width="0.22" text-anchor="end">RSV-alcohol</text>
<text transform="translate(1000.75 727.7) scale(1.13 1) rotate(-45)" font-size="12" stroke="#000" stroke-width="0.22" text-anchor="end">RSV-water</text>
<text x="349" y="811.6" font-size="25.8">F</text>
<line x1="452.5" y1="821.2" x2="452.5" y2="901.9" stroke="#333" stroke-width="1.3"/>
<line x1="447.7" y1="821.7" x2="452.5" y2="821.7" stroke="#666" stroke-width="1.2"/>
<text x="445.8" y="824.7" font-size="8.4" text-anchor="end" fill="#111" textLength="19.8" lengthAdjust="spacingAndGlyphs" stroke="#111" stroke-width="0.25">100</text>
<line x1="447.7" y1="841.7" x2="452.5" y2="841.7" stroke="#666" stroke-width="1.2"/>
<text x="445.8" y="844.7" font-size="8.4" text-anchor="end" fill="#111" textLength="13.2" lengthAdjust="spacingAndGlyphs" stroke="#111" stroke-width="0.25">50</text>
<line x1="447.7" y1="861.5" x2="452.5" y2="861.5" stroke="#666" stroke-width="1.2"/>
<text x="445.8" y="864.5" font-size="8.4" text-anchor="end" fill="#111" textLength="6.6" lengthAdjust="spacingAndGlyphs" stroke="#111" stroke-width="0.25">0</text>
<line x1="447.7" y1="881.4" x2="452.5" y2="881.4" stroke="#666" stroke-width="1.2"/>
<text x="445.8" y="884.4" font-size="8.4" text-anchor="end" fill="#111" textLength="17.6" lengthAdjust="spacingAndGlyphs" stroke="#111" stroke-width="0.25">-50</text>
<line x1="447.7" y1="901.3" x2="452.5" y2="901.3" stroke="#666" stroke-width="1.2"/>
<text x="445.8" y="904.3" font-size="8.4" text-anchor="end" fill="#111" textLength="24.4" lengthAdjust="spacingAndGlyphs" stroke="#111" stroke-width="0.25">-100</text>
<rect x="464.1" y="837.9" width="21.7" height="23.6" fill="#000"/>
<rect x="498.3" y="861.5" width="21.7" height="13.5" fill="#A0A0A4"/>
<line x1="452.5" y1="861.5" x2="531.2" y2="861.5" stroke="#555" stroke-width="1.3"/>
<line x1="452.5" y1="901.3" x2="531.2" y2="901.3" stroke="#555" stroke-width="1.3"/>
<line x1="475.4" y1="901.3" x2="475.4" y2="904.5" stroke="#333" stroke-width="1.3"/>
<line x1="508.7" y1="901.3" x2="508.7" y2="904.5" stroke="#333" stroke-width="1.3"/>
<line x1="474.95" y1="837.9" x2="474.95" y2="832.1" stroke="#777" stroke-width="1"/>
<line x1="469.45" y1="832.1" x2="480.45" y2="832.1" stroke="#777" stroke-width="1"/>
<line x1="509.15" y1="875" x2="509.15" y2="882.5" stroke="#bbb" stroke-width="1"/>
<line x1="503.65" y1="882.5" x2="514.65" y2="882.5" stroke="#bbb" stroke-width="1"/>
<polyline points="475.7,824.6 475.7,821.4 506.5,821.4 506.5,824.6" fill="none" stroke="#666" stroke-width="1.1"/>
<path d="M486.80 811.90L486.80 817.70M483.41 813.35L490.19 816.25M490.19 813.35L483.41 816.25" stroke="#111" stroke-width="1.3" fill="none"/>
<path d="M495.80 811.90L495.80 817.70M492.41 813.35L499.19 816.25M499.19 813.35L492.41 816.25" stroke="#111" stroke-width="1.3" fill="none"/>
<text transform="translate(414.2 859.8) scale(1.35 1) rotate(-90)" font-size="9.4" text-anchor="middle" textLength="76.6" lengthAdjust="spacingAndGlyphs">ALT( change ratio)</text>
<text transform="translate(479 913) scale(1.5 1) rotate(-45)" font-size="9.3" text-anchor="end">RSV-alcohol</text>
<text transform="translate(512.3 913) scale(1.5 1) rotate(-45)" font-size="9.3" text-anchor="end">RSV-water</text>
<line x1="597.4" y1="819.5" x2="597.4" y2="901.9" stroke="#333" stroke-width="1.3"/>
<line x1="592.6" y1="820" x2="597.4" y2="820" stroke="#666" stroke-width="1.2"/>
<text x="591.8" y="823" font-size="8.4" text-anchor="end" fill="#111" textLength="15.3" lengthAdjust="spacingAndGlyphs" stroke="#111" stroke-width="0.25">40</text>
<line x1="592.6" y1="833.6" x2="597.4" y2="833.6" stroke="#666" stroke-width="1.2"/>
<text x="591.8" y="836.6" font-size="8.4" text-anchor="end" fill="#111" textLength="15.3" lengthAdjust="spacingAndGlyphs" stroke="#111" stroke-width="0.25">30</text>
<line x1="592.6" y1="847.1" x2="597.4" y2="847.1" stroke="#666" stroke-width="1.2"/>
<text x="591.8" y="850.1" font-size="8.4" text-anchor="end" fill="#111" textLength="15.3" lengthAdjust="spacingAndGlyphs" stroke="#111" stroke-width="0.25">20</text>
<line x1="592.6" y1="860.8" x2="597.4" y2="860.8" stroke="#666" stroke-width="1.2"/>
<text x="591.8" y="863.8" font-size="8.4" text-anchor="end" fill="#111" textLength="15.3" lengthAdjust="spacingAndGlyphs" stroke="#111" stroke-width="0.25">10</text>
<line x1="592.6" y1="874.6" x2="597.4" y2="874.6" stroke="#666" stroke-width="1.2"/>
<text x="591.8" y="877.6" font-size="8.4" text-anchor="end" fill="#111" textLength="7.6" lengthAdjust="spacingAndGlyphs" stroke="#111" stroke-width="0.25">0</text>
<line x1="592.6" y1="888" x2="597.4" y2="888" stroke="#666" stroke-width="1.2"/>
<text x="591.8" y="891" font-size="8.4" text-anchor="end" fill="#111" textLength="20" lengthAdjust="spacingAndGlyphs" stroke="#111" stroke-width="0.25">-10</text>
<line x1="592.6" y1="901.3" x2="597.4" y2="901.3" stroke="#666" stroke-width="1.2"/>
<text x="591.8" y="904.3" font-size="8.4" text-anchor="end" fill="#111" textLength="20" lengthAdjust="spacingAndGlyphs" stroke="#111" stroke-width="0.25">-20</text>
<rect x="610.2" y="838.7" width="22.7" height="35.9" fill="#000"/>
<rect x="645.6" y="874.6" width="23.2" height="10.1" fill="#A0A0A4"/>
<line x1="597.4" y1="874.6" x2="681.1" y2="874.6" stroke="#555" stroke-width="1.3"/>
<line x1="597.4" y1="901.3" x2="681.1" y2="901.3" stroke="#555" stroke-width="1.3"/>
<line x1="621.3" y1="901.3" x2="621.3" y2="904.5" stroke="#333" stroke-width="1.3"/>
<line x1="656.8" y1="901.3" x2="656.8" y2="904.5" stroke="#333" stroke-width="1.3"/>
<line x1="621.55" y1="838.7" x2="621.55" y2="832.1" stroke="#777" stroke-width="1"/>
<line x1="616.05" y1="832.1" x2="627.05" y2="832.1" stroke="#777" stroke-width="1"/>
<line x1="657.2" y1="884.7" x2="657.2" y2="896.3" stroke="#bbb" stroke-width="1"/>
<line x1="651.7" y1="896.3" x2="662.7" y2="896.3" stroke="#bbb" stroke-width="1"/>
<polyline points="620.6,830.4 620.6,826.8 656.5,826.8 656.5,830.4" fill="none" stroke="#666" stroke-width="1.1"/>
<path d="M638.80 817.40L638.80 823.20M635.41 818.85L642.19 821.75M642.19 818.85L635.41 821.75" stroke="#111" stroke-width="1.3" fill="none"/>
<text transform="translate(564.8 859.4) scale(1.35 1) rotate(-90)" font-size="9.4" text-anchor="middle" textLength="81" lengthAdjust="spacingAndGlyphs">AST(change  ratio)</text>
<text transform="translate(624.9 913) scale(1.5 1) rotate(-45)" font-size="9.3" text-anchor="end">RSV-alcohol</text>
<text transform="translate(660.4 913) scale(1.5 1) rotate(-45)" font-size="9.3" text-anchor="end">RSV-water</text>
<line x1="747.5" y1="819.5" x2="747.5" y2="901.9" stroke="#333" stroke-width="1.3"/>
<line x1="742.7" y1="820" x2="747.5" y2="820" stroke="#666" stroke-width="1.2"/>
<text x="743.3" y="823" font-size="8.4" text-anchor="end" fill="#111" textLength="8.4" lengthAdjust="spacingAndGlyphs" stroke="#111" stroke-width="0.25">5</text>
<line x1="742.7" y1="847.1" x2="747.5" y2="847.1" stroke="#666" stroke-width="1.2"/>
<text x="743.3" y="850.1" font-size="8.4" text-anchor="end" fill="#111" textLength="8.4" lengthAdjust="spacingAndGlyphs" stroke="#111" stroke-width="0.25">0</text>
<line x1="742.7" y1="874.1" x2="747.5" y2="874.1" stroke="#666" stroke-width="1.2"/>
<text x="743.3" y="877.1" font-size="8.4" text-anchor="end" fill="#111" textLength="12.5" lengthAdjust="spacingAndGlyphs" stroke="#111" stroke-width="0.25">-5</text>
<line x1="742.7" y1="901.3" x2="747.5" y2="901.3" stroke="#666" stroke-width="1.2"/>
<text x="743.3" y="904.3" font-size="8.4" text-anchor="end" fill="#111" textLength="19" lengthAdjust="spacingAndGlyphs" stroke="#111" stroke-width="0.25">-10</text>
<rect x="760.1" y="847.1" width="22.7" height="37.6" fill="#000"/>
<rect x="795.3" y="845.2" width="23.1" height="1.9" fill="#A0A0A4"/>
<line x1="747.5" y1="847.1" x2="831" y2="847.1" stroke="#555" stroke-width="1.3"/>
<line x1="747.5" y1="901.3" x2="831" y2="901.3" stroke="#555" stroke-width="1.3"/>
<line x1="770.9" y1="901.3" x2="770.9" y2="904.5" stroke="#333" stroke-width="1.3"/>
<line x1="806.7" y1="901.3" x2="806.7" y2="904.5" stroke="#333" stroke-width="1.3"/>
<line x1="771.45" y1="884.7" x2="771.45" y2="888.3" stroke="#777" stroke-width="1"/>
<line x1="765.95" y1="888.3" x2="776.95" y2="888.3" stroke="#777" stroke-width="1"/>
<line x1="806.85" y1="845.2" x2="806.85" y2="830.4" stroke="#bbb" stroke-width="1"/>
<line x1="801.35" y1="830.4" x2="812.35" y2="830.4" stroke="#bbb" stroke-width="1"/>
<polyline points="766.3,827.5 766.3,823.9 804.5,823.9 804.5,827.5" fill="none" stroke="#666" stroke-width="1.1"/>
<path d="M785.40 814.40L785.40 820.20M782.01 815.85L788.79 818.75M788.79 815.85L782.01 818.75" stroke="#111" stroke-width="1.3" fill="none"/>
<text transform="translate(714 858.7) scale(1.35 1) rotate(-90)" font-size="9.4" text-anchor="middle" textLength="70.9" lengthAdjust="spacingAndGlyphs">TP(change ratio)</text>
<text transform="translate(774.5 913) scale(1.5 1) rotate(-45)" font-size="9.3" text-anchor="end">RSV-alcohol</text>
<text transform="translate(810.3 913) scale(1.5 1) rotate(-45)" font-size="9.3" text-anchor="end">RSV-water</text>
<line x1="894.6" y1="819.8" x2="894.6" y2="901.9" stroke="#333" stroke-width="1.3"/>
<line x1="889.8" y1="820.3" x2="894.6" y2="820.3" stroke="#666" stroke-width="1.2"/>
<text x="887.1" y="823.3" font-size="8.4" text-anchor="end" fill="#111" textLength="14.5" lengthAdjust="spacingAndGlyphs" stroke="#111" stroke-width="0.25">80</text>
<line x1="889.8" y1="840.5" x2="894.6" y2="840.5" stroke="#666" stroke-width="1.2"/>
<text x="887.1" y="843.5" font-size="8.4" text-anchor="end" fill="#111" textLength="14.5" lengthAdjust="spacingAndGlyphs" stroke="#111" stroke-width="0.25">60</text>
<line x1="889.8" y1="860.8" x2="894.6" y2="860.8" stroke="#666" stroke-width="1.2"/>
<text x="887.1" y="863.8" font-size="8.4" text-anchor="end" fill="#111" textLength="14.5" lengthAdjust="spacingAndGlyphs" stroke="#111" stroke-width="0.25">40</text>
<line x1="889.8" y1="881.4" x2="894.6" y2="881.4" stroke="#666" stroke-width="1.2"/>
<text x="887.1" y="884.4" font-size="8.4" text-anchor="end" fill="#111" textLength="14.5" lengthAdjust="spacingAndGlyphs" stroke="#111" stroke-width="0.25">20</text>
<line x1="889.8" y1="901.3" x2="894.6" y2="901.3" stroke="#666" stroke-width="1.2"/>
<text x="887.1" y="904.3" font-size="8.4" text-anchor="end" fill="#111" textLength="7.3" lengthAdjust="spacingAndGlyphs" stroke="#111" stroke-width="0.25">0</text>
<rect x="907.2" y="866.9" width="23.2" height="34.4" fill="#000"/>
<rect x="943.4" y="900" width="23.9" height="1.3" fill="#A0A0A4"/>
<line x1="894.6" y1="901.3" x2="980.6" y2="901.3" stroke="#555" stroke-width="1.3"/>
<line x1="918.3" y1="901.3" x2="918.3" y2="904.5" stroke="#333" stroke-width="1.3"/>
<line x1="955.4" y1="901.3" x2="955.4" y2="904.5" stroke="#333" stroke-width="1.3"/>
<line x1="918.8" y1="866.9" x2="918.8" y2="841.3" stroke="#777" stroke-width="1"/>
<line x1="913.3" y1="841.3" x2="924.3" y2="841.3" stroke="#777" stroke-width="1"/>
<line x1="955.35" y1="900" x2="955.35" y2="896.3" stroke="#bbb" stroke-width="1"/>
<line x1="949.85" y1="896.3" x2="960.85" y2="896.3" stroke="#bbb" stroke-width="1"/>
<polyline points="918,837.4 918,833.6 952.5,833.6 952.5,837.4" fill="none" stroke="#666" stroke-width="1.1"/>
<text x="935.2" y="828.7" font-size="9.5" font-weight="bold" text-anchor="middle" fill="#111" textLength="15" lengthAdjust="spacingAndGlyphs">ns</text>
<text transform="translate(864.4 859.4) scale(1.35 1) rotate(-90)" font-size="9.4" text-anchor="middle" textLength="81" lengthAdjust="spacingAndGlyphs">ALB (change ratio)</text>
<text transform="translate(921.9 913) scale(1.5 1) rotate(-45)" font-size="9.3" text-anchor="end">RSV-alcohol</text>
<text transform="translate(959 913) scale(1.5 1) rotate(-45)" font-size="9.3" text-anchor="end">RSV-water</text>
<line x1="452.5" y1="979.9" x2="452.5" y2="1059.9" stroke="#333" stroke-width="1.3"/>
<line x1="447.7" y1="980.4" x2="452.5" y2="980.4" stroke="#666" stroke-width="1.2"/>
<text x="449.6" y="983.4" font-size="8.4" text-anchor="end" fill="#111" textLength="18" lengthAdjust="spacingAndGlyphs" stroke="#111" stroke-width="0.25">10</text>
<line x1="447.7" y1="1000.4" x2="452.5" y2="1000.4" stroke="#666" stroke-width="1.2"/>
<text x="449.6" y="1003.4" font-size="8.4" text-anchor="end" fill="#111" textLength="9" lengthAdjust="spacingAndGlyphs" stroke="#111" stroke-width="0.25">0</text>
<line x1="447.7" y1="1019.9" x2="452.5" y2="1019.9" stroke="#666" stroke-width="1.2"/>
<text x="449.6" y="1022.9" font-size="8.4" text-anchor="end" fill="#111" textLength="23.5" lengthAdjust="spacingAndGlyphs" stroke="#111" stroke-width="0.25">-10</text>
<line x1="447.7" y1="1039.5" x2="452.5" y2="1039.5" stroke="#666" stroke-width="1.2"/>
<text x="449.6" y="1042.5" font-size="8.4" text-anchor="end" fill="#111" textLength="23.5" lengthAdjust="spacingAndGlyphs" stroke="#111" stroke-width="0.25">-20</text>
<line x1="447.7" y1="1059.3" x2="452.5" y2="1059.3" stroke="#666" stroke-width="1.2"/>
<text x="449.6" y="1062.3" font-size="8.4" text-anchor="end" fill="#111" textLength="23.5" lengthAdjust="spacingAndGlyphs" stroke="#111" stroke-width="0.25">-30</text>
<rect x="464.6" y="989.8" width="23.1" height="10.6" fill="#000"/>
<rect x="500.3" y="1000.4" width="23.2" height="14.8" fill="#A0A0A4"/>
<line x1="452.5" y1="1000.4" x2="535.5" y2="1000.4" stroke="#555" stroke-width="1.3"/>
<line x1="452.5" y1="1059.3" x2="535.5" y2="1059.3" stroke="#555" stroke-width="1.3"/>
<line x1="476.1" y1="1059.3" x2="476.1" y2="1062.5" stroke="#333" stroke-width="1.3"/>
<line x1="511.6" y1="1059.3" x2="511.6" y2="1062.5" stroke="#333" stroke-width="1.3"/>
<line x1="476.15" y1="989.8" x2="476.15" y2="983.3" stroke="#777" stroke-width="1"/>
<line x1="470.65" y1="983.3" x2="481.65" y2="983.3" stroke="#777" stroke-width="1"/>
<line x1="511.9" y1="1015.2" x2="511.9" y2="1039.5" stroke="#bbb" stroke-width="1"/>
<line x1="506.4" y1="1039.5" x2="517.4" y2="1039.5" stroke="#bbb" stroke-width="1"/>
<polyline points="474.7,982.1 474.7,979 504.7,979 504.7,982.1" fill="none" stroke="#666" stroke-width="1.1"/>
<text x="489.8" y="974.3" font-size="9.5" font-weight="bold" text-anchor="middle" fill="#111" textLength="15" lengthAdjust="spacingAndGlyphs">ns</text>
<text transform="translate(419.3 1018) scale(1.35 1) rotate(-90)" font-size="9.4" text-anchor="middle" textLength="72.3" lengthAdjust="spacingAndGlyphs">TG( change ratio)</text>
<text transform="translate(479.7 1071) scale(1.5 1) rotate(-45)" font-size="9.3" text-anchor="end">RSV-alcohol</text>
<text transform="translate(515.2 1071) scale(1.5 1) rotate(-45)" font-size="9.3" text-anchor="end">RSV-water</text>
<line x1="598.6" y1="982.1" x2="598.6" y2="1059.5" stroke="#333" stroke-width="1.3"/>
<line x1="593.8" y1="982.6" x2="598.6" y2="982.6" stroke="#666" stroke-width="1.2"/>
<text x="591.2" y="985.6" font-size="8.4" text-anchor="end" fill="#111" textLength="6.6" lengthAdjust="spacingAndGlyphs" stroke="#111" stroke-width="0.25">0</text>
<line x1="593.8" y1="1001.4" x2="598.6" y2="1001.4" stroke="#666" stroke-width="1.2"/>
<text x="591.2" y="1004.4" font-size="8.4" text-anchor="end" fill="#111" textLength="18.2" lengthAdjust="spacingAndGlyphs" stroke="#111" stroke-width="0.25">-10</text>
<line x1="593.8" y1="1020.5" x2="598.6" y2="1020.5" stroke="#666" stroke-width="1.2"/>
<text x="591.2" y="1023.5" font-size="8.4" text-anchor="end" fill="#111" textLength="18.2" lengthAdjust="spacingAndGlyphs" stroke="#111" stroke-width="0.25">-20</text>
<line x1="593.8" y1="1039.8" x2="598.6" y2="1039.8" stroke="#666" stroke-width="1.2"/>
<text x="591.2" y="1042.8" font-size="8.4" text-anchor="end" fill="#111" textLength="18.2" lengthAdjust="spacingAndGlyphs" stroke="#111" stroke-width="0.25">-30</text>
<line x1="593.8" y1="1058.9" x2="598.6" y2="1058.9" stroke="#666" stroke-width="1.2"/>
<text x="591.2" y="1061.9" font-size="8.4" text-anchor="end" fill="#111" textLength="18.2" lengthAdjust="spacingAndGlyphs" stroke="#111" stroke-width="0.25">-40</text>
<rect x="610.2" y="982.6" width="23.1" height="2.4" fill="#000"/>
<rect x="645.9" y="982.6" width="23.2" height="51.4" fill="#A0A0A4"/>
<line x1="598.6" y1="982.6" x2="681.5" y2="982.6" stroke="#555" stroke-width="1.3"/>
<line x1="598.6" y1="1058.9" x2="681.5" y2="1058.9" stroke="#555" stroke-width="1.3"/>
<line x1="621.7" y1="1058.9" x2="621.7" y2="1062.1" stroke="#333" stroke-width="1.3"/>
<line x1="657.2" y1="1058.9" x2="657.2" y2="1062.1" stroke="#333" stroke-width="1.3"/>
<line x1="621.75" y1="985" x2="621.75" y2="989.4" stroke="#777" stroke-width="1"/>
<line x1="616.25" y1="989.4" x2="627.25" y2="989.4" stroke="#777" stroke-width="1"/>
<line x1="657.5" y1="1034" x2="657.5" y2="1051.3" stroke="#bbb" stroke-width="1"/>
<line x1="652" y1="1051.3" x2="663" y2="1051.3" stroke="#bbb" stroke-width="1"/>
<polyline points="621.4,1050.6 621.4,1052.4 657.6,1052.4 657.6,1050.6" fill="none" stroke="#222" stroke-width="0.9"/>
<path d="M639.80 1052.40L639.80 1058.20M636.41 1053.85L643.19 1056.75M643.19 1053.85L636.41 1056.75" stroke="#111" stroke-width="1.3" fill="none"/>
<text transform="translate(564.8 1019.1) scale(1.35 1) rotate(-90)" font-size="9.4" text-anchor="middle" textLength="81.8" lengthAdjust="spacingAndGlyphs">CHOL (change ratio)</text>
<text transform="translate(625.3 1070.6) scale(1.5 1) rotate(-45)" font-size="9.3" text-anchor="end">RSV-alcohol</text>
<text transform="translate(660.8 1070.6) scale(1.5 1) rotate(-45)" font-size="9.3" text-anchor="end">RSV-water</text>
<line x1="748.5" y1="981.4" x2="748.5" y2="1059.2" stroke="#888" stroke-width="1.3"/>
<line x1="743.7" y1="981.9" x2="748.5" y2="981.9" stroke="#666" stroke-width="1.2"/>
<text x="741.5" y="984.9" font-size="8.4" text-anchor="end" fill="#111" textLength="6.6" lengthAdjust="spacingAndGlyphs" stroke="#111" stroke-width="0.25">0</text>
<line x1="743.7" y1="1007.6" x2="748.5" y2="1007.6" stroke="#666" stroke-width="1.2"/>
<text x="741.5" y="1010.6" font-size="8.4" text-anchor="end" fill="#111" textLength="11" lengthAdjust="spacingAndGlyphs" stroke="#111" stroke-width="0.25">-5</text>
<line x1="743.7" y1="1033.2" x2="748.5" y2="1033.2" stroke="#666" stroke-width="1.2"/>
<text x="741.5" y="1036.2" font-size="8.4" text-anchor="end" fill="#111" textLength="18.9" lengthAdjust="spacingAndGlyphs" stroke="#111" stroke-width="0.25">-10</text>
<line x1="743.7" y1="1058.6" x2="748.5" y2="1058.6" stroke="#666" stroke-width="1.2"/>
<text x="741.5" y="1061.6" font-size="8.4" text-anchor="end" fill="#111" textLength="18.9" lengthAdjust="spacingAndGlyphs" stroke="#111" stroke-width="0.25">-15</text>
<rect x="760.5" y="981.9" width="22.7" height="50.6" fill="#000"/>
<rect x="796.3" y="981.9" width="22.7" height="9.1" fill="#A0A0A4"/>
<line x1="748.5" y1="981.9" x2="831.4" y2="981.9" stroke="#555" stroke-width="1.3"/>
<line x1="748.5" y1="1058.6" x2="831.4" y2="1058.6" stroke="#555" stroke-width="1.3"/>
<line x1="771.2" y1="1058.6" x2="771.2" y2="1061.8" stroke="#333" stroke-width="1.3"/>
<line x1="807.4" y1="1058.6" x2="807.4" y2="1061.8" stroke="#333" stroke-width="1.3"/>
<line x1="771.85" y1="1032.5" x2="771.85" y2="1035.4" stroke="#777" stroke-width="1"/>
<line x1="766.35" y1="1035.4" x2="777.35" y2="1035.4" stroke="#777" stroke-width="1"/>
<line x1="807.65" y1="991" x2="807.65" y2="1014.9" stroke="#bbb" stroke-width="1"/>
<line x1="802.15" y1="1014.9" x2="813.15" y2="1014.9" stroke="#bbb" stroke-width="1"/>
<polyline points="771.7,1035.4 771.7,1040.5 807.4,1040.5 807.4,1015.9" fill="none" stroke="#222" stroke-width="0.9"/>
<text x="794.8" y="1049.9" font-size="9.5" text-anchor="middle" fill="#111" textLength="15" lengthAdjust="spacingAndGlyphs">ns</text>
<text transform="translate(715.6 1018.4) scale(1.35 1) rotate(-90)" font-size="9.4" text-anchor="middle" textLength="83.2" lengthAdjust="spacingAndGlyphs">GLOB( change ratio)</text>
<text transform="translate(774.8 1070.3) scale(1.5 1) rotate(-45)" font-size="9.3" text-anchor="end">RSV-alcohol</text>
<text transform="translate(811 1070.3) scale(1.5 1) rotate(-45)" font-size="9.3" text-anchor="end">RSV-water</text>
<line x1="895.6" y1="980.6" x2="895.6" y2="1059.9" stroke="#888" stroke-width="1.3"/>
<line x1="890.8" y1="981.1" x2="895.6" y2="981.1" stroke="#666" stroke-width="1.2"/>
<text x="891.5" y="984.1" font-size="8.4" text-anchor="end" fill="#111" textLength="17.4" lengthAdjust="spacingAndGlyphs" stroke="#111" stroke-width="0.25">10</text>
<line x1="890.8" y1="994.2" x2="895.6" y2="994.2" stroke="#666" stroke-width="1.2"/>
<text x="891.5" y="997.2" font-size="8.4" text-anchor="end" fill="#111" textLength="8.7" lengthAdjust="spacingAndGlyphs" stroke="#111" stroke-width="0.25">0</text>
<line x1="890.8" y1="1007.2" x2="895.6" y2="1007.2" stroke="#666" stroke-width="1.2"/>
<text x="891.5" y="1010.2" font-size="8.4" text-anchor="end" fill="#111" textLength="21.8" lengthAdjust="spacingAndGlyphs" stroke="#111" stroke-width="0.25">-10</text>
<line x1="890.8" y1="1020.5" x2="895.6" y2="1020.5" stroke="#666" stroke-width="1.2"/>
<text x="891.5" y="1023.5" font-size="8.4" text-anchor="end" fill="#111" textLength="21.8" lengthAdjust="spacingAndGlyphs" stroke="#111" stroke-width="0.25">-20</text>
<line x1="890.8" y1="1033.5" x2="895.6" y2="1033.5" stroke="#666" stroke-width="1.2"/>
<text x="891.5" y="1036.5" font-size="8.4" text-anchor="end" fill="#111" textLength="21.8" lengthAdjust="spacingAndGlyphs" stroke="#111" stroke-width="0.25">-30</text>
<line x1="890.8" y1="1046.3" x2="895.6" y2="1046.3" stroke="#666" stroke-width="1.2"/>
<text x="891.5" y="1049.3" font-size="8.4" text-anchor="end" fill="#111" textLength="21.8" lengthAdjust="spacingAndGlyphs" stroke="#111" stroke-width="0.25">-40</text>
<line x1="890.8" y1="1059.3" x2="895.6" y2="1059.3" stroke="#666" stroke-width="1.2"/>
<text x="891.5" y="1062.3" font-size="8.4" text-anchor="end" fill="#111" textLength="21.8" lengthAdjust="spacingAndGlyphs" stroke="#111" stroke-width="0.25">-50</text>
<rect x="907.2" y="989.8" width="22.7" height="4.4" fill="#000"/>
<rect x="943" y="994.2" width="22.8" height="37.6" fill="#A0A0A4"/>
<line x1="895.6" y1="994.2" x2="978.4" y2="994.2" stroke="#555" stroke-width="1.3"/>
<line x1="895.6" y1="1059.3" x2="978.4" y2="1059.3" stroke="#555" stroke-width="1.3"/>
<line x1="918.3" y1="1059.3" x2="918.3" y2="1062.5" stroke="#333" stroke-width="1.3"/>
<line x1="954" y1="1059.3" x2="954" y2="1062.5" stroke="#333" stroke-width="1.3"/>
<line x1="918.55" y1="989.8" x2="918.55" y2="983.3" stroke="#777" stroke-width="1"/>
<line x1="913.05" y1="983.3" x2="924.05" y2="983.3" stroke="#777" stroke-width="1"/>
<line x1="954.4" y1="1031.8" x2="954.4" y2="1043.8" stroke="#bbb" stroke-width="1"/>
<line x1="948.9" y1="1043.8" x2="959.9" y2="1043.8" stroke="#bbb" stroke-width="1"/>
<polyline points="917.6,982.6 917.6,978.2 952.8,978.2 952.8,982.6" fill="none" stroke="#666" stroke-width="1.1"/>
<path d="M935.10 968.40L935.10 974.20M931.71 969.85L938.49 972.75M938.49 969.85L931.71 972.75" stroke="#111" stroke-width="1.3" fill="none"/>
<text transform="translate(862.4 1018.4) scale(1.35 1) rotate(-90)" font-size="9.4" text-anchor="middle" textLength="77.4" lengthAdjust="spacingAndGlyphs">HDL( change ratio)</text>
<text transform="translate(921.9 1071) scale(1.5 1) rotate(-45)" font-size="9.3" text-anchor="end">RSV-alcohol</text>
<text transform="translate(957.6 1071) scale(1.5 1) rotate(-45)" font-size="9.3" text-anchor="end">RSV-water</text>
<text x="30.2" y="1132.8" font-size="25.2">G</text>
<text x="135.6" y="1152.8" font-size="16.5" font-weight="bold" textLength="58.4" lengthAdjust="spacingAndGlyphs">Vehicle</text>
<text x="311" y="1152.8" font-size="16.5" font-weight="bold" textLength="33.8" lengthAdjust="spacingAndGlyphs">ALD</text>
<text x="443.2" y="1152.8" font-size="16.5" font-weight="bold" textLength="98.8" lengthAdjust="spacingAndGlyphs">RSV-alcohol</text>
<text x="618" y="1152.8" font-size="16.5" font-weight="bold" textLength="83.8" lengthAdjust="spacingAndGlyphs">RSV-water</text>
<text x="34.3" y="1213.5" font-size="16.5" font-weight="bold" textLength="38.2" lengthAdjust="spacingAndGlyphs">200X</text>
<text x="24.9" y="1372.4" font-size="16.5" font-weight="bold" textLength="38.8" lengthAdjust="spacingAndGlyphs">400X</text>
<defs><filter id="mot" x="0" y="0" width="100%" height="100%" color-interpolation-filters="sRGB"><feTurbulence type="fractalNoise" baseFrequency="0.05" numOctaves="2" seed="4"/><feColorMatrix type="matrix" values="0 0 0 0 0.55  0 0 0 0 0.3  0 0 0 0 0.65  3 0 0 0 -1.4"/></filter><filter id="motw" x="0" y="0" width="100%" height="100%" color-interpolation-filters="sRGB"><feTurbulence type="fractalNoise" baseFrequency="0.045" numOctaves="2" seed="9"/><feColorMatrix type="matrix" values="0 0 0 0 0.95  0 0 0 0 0.85  0 0 0 0 0.93  0 3.2 0 0 -1.45"/></filter></defs>
<clipPath id="cv2"><rect x="81.1" y="1155.9" width="160.1" height="137.9"/></clipPath>
<g clip-path="url(#cv2)">
<rect x="81.1" y="1155.9" width="160.1" height="137.9" fill="#E068A2"/>
<rect x="81.1" y="1155.9" width="160.1" height="137.9" fill="#fff" filter="url(#mot)" opacity="0.12"/>
<path d="M109.0 1219.4Q105.3 1217.7 99.9 1217.9M151.8 1263.8Q150.3 1266.4 149.2 1268.7M92.2 1283.9Q88.0 1285.3 85.3 1285.2M202.7 1186.8Q203.4 1184.6 205.4 1181.3M179.4 1283.7Q181.6 1288.5 183.3 1293.7M221.5 1266.5Q223.9 1270.2 229.2 1270.9M86.0 1211.6Q80.8 1211.7 78.0 1209.3M213.1 1279.1Q216.3 1281.4 218.4 1284.7M220.9 1176.2Q226.0 1172.9 230.2 1170.6M195.0 1259.5Q196.3 1262.4 196.9 1266.0M168.6 1205.3Q165.6 1203.3 162.8 1201.1M203.5 1263.7Q202.0 1269.1 202.6 1272.6M215.8 1276.6Q216.8 1281.2 217.8 1286.0M160.7 1231.8Q161.6 1234.8 159.5 1240.7M110.1 1258.8Q105.7 1261.7 104.8 1261.0M177.9 1190.2Q177.0 1185.5 174.9 1182.0M199.1 1232.6Q199.4 1235.8 202.9 1235.9M115.1 1228.2Q111.5 1228.8 108.8 1228.5M226.9 1209.6Q231.7 1210.5 235.1 1212.7M159.9 1229.3Q158.6 1229.9 155.0 1232.8M219.6 1165.4Q219.2 1164.0 222.1 1159.4M105.1 1242.2Q105.3 1242.6 101.9 1246.5M148.3 1228.3Q145.3 1230.6 142.7 1232.6M114.4 1233.9Q111.0 1237.0 110.0 1237.8M149.8 1279.4Q146.8 1284.6 144.5 1289.0M125.4 1249.1Q122.4 1254.3 120.2 1258.7M129.9 1193.3Q126.5 1191.3 119.2 1193.3M172.8 1189.3Q169.7 1188.7 168.2 1186.5M185.4 1237.5Q183.4 1242.9 182.6 1247.0M187.6 1214.4Q190.9 1215.3 190.3 1219.9M89.0 1238.6Q83.3 1242.5 80.5 1243.6M219.8 1158.8Q223.8 1156.3 227.7 1153.9M112.2 1208.3Q107.7 1210.0 105.9 1208.9M211.8 1230.3Q216.5 1231.2 220.1 1233.1M105.6 1235.7Q102.1 1237.3 100.2 1237.3M215.8 1234.6Q219.1 1235.9 222.8 1236.9M192.8 1272.6Q194.3 1274.8 196.2 1276.6M87.0 1176.7Q84.8 1176.7 81.6 1177.7M99.2 1234.7Q97.4 1233.0 93.5 1233.4M172.9 1183.7Q174.1 1179.9 176.4 1175.0M218.5 1171.6Q221.8 1171.8 228.2 1168.9M227.0 1260.7Q228.6 1263.1 228.3 1267.3M203.9 1205.4Q206.0 1203.9 208.0 1202.4M169.2 1175.8Q168.7 1173.2 168.5 1170.5M167.7 1186.0Q164.3 1182.6 158.0 1182.0M175.5 1165.3Q176.3 1158.9 175.0 1154.6M190.2 1164.3Q193.3 1159.4 192.5 1158.4M85.1 1188.4Q82.1 1187.4 80.6 1184.9M134.1 1273.9Q128.9 1278.7 126.2 1281.0M99.3 1204.7Q97.0 1201.5 91.1 1201.7M194.7 1170.3Q194.3 1168.1 195.8 1164.1M186.9 1214.7Q189.4 1215.4 188.7 1219.5M109.6 1257.8Q107.2 1258.1 104.5 1258.9M234.3 1159.4Q236.7 1157.4 240.1 1154.5M115.4 1181.0Q111.4 1181.6 109.1 1180.5M223.6 1285.0Q224.5 1287.7 227.4 1288.5M215.7 1181.2Q217.6 1180.8 220.8 1179.1M112.2 1238.1Q108.3 1240.8 104.3 1243.7M146.3 1161.4Q145.7 1158.9 145.2 1156.3M234.9 1261.9Q238.3 1265.9 243.6 1267.9M175.6 1232.2Q173.8 1235.6 172.8 1238.3M135.6 1280.2Q134.2 1281.5 130.5 1285.0M179.8 1192.7Q178.8 1191.1 180.2 1187.2M97.6 1169.7Q94.8 1165.7 89.2 1164.4M118.2 1282.5Q116.6 1286.2 114.1 1290.7M161.0 1248.2Q157.4 1250.9 153.7 1253.8M215.1 1255.0Q218.6 1259.2 222.9 1262.6M91.5 1288.0Q88.4 1287.8 83.4 1289.6M189.7 1172.8Q194.4 1167.6 195.4 1166.2M160.6 1197.3Q159.3 1192.7 155.0 1191.1M91.0 1250.4Q86.3 1251.9 84.9 1250.2M162.0 1242.6Q159.0 1246.6 157.3 1249.4M194.2 1288.5Q196.7 1290.3 195.5 1295.8M114.4 1233.6Q110.5 1232.5 104.6 1233.3M189.7 1215.5Q189.9 1218.2 190.7 1220.4M154.0 1251.9Q153.0 1255.1 152.5 1257.9M184.0 1225.0Q181.8 1230.0 181.9 1232.6M180.2 1209.4Q182.3 1211.2 187.6 1209.8M184.6 1275.2Q182.0 1281.9 182.3 1285.7M211.8 1258.7Q213.6 1262.5 217.9 1263.7M133.7 1226.3Q131.5 1227.4 127.5 1230.2M187.7 1176.4Q187.6 1173.8 191.3 1167.4M199.5 1162.1Q198.8 1160.6 201.9 1155.3M96.0 1245.6Q91.7 1249.7 90.0 1251.0M180.7 1281.4Q181.5 1283.0 178.6 1288.3M142.5 1195.3Q136.7 1194.7 131.8 1193.3M132.2 1229.4Q128.5 1229.9 123.1 1232.1M184.1 1210.0Q188.8 1212.7 193.5 1215.4M199.9 1207.5Q203.0 1205.3 205.9 1203.3M147.6 1185.2Q145.8 1184.0 142.4 1184.4M168.5 1264.6Q166.8 1267.2 162.7 1272.2M224.8 1276.8Q225.0 1282.5 226.5 1287.0M239.0 1274.3Q241.6 1278.1 242.3 1283.8M175.4 1225.0Q173.6 1226.8 170.7 1229.7M227.9 1194.6Q230.4 1192.7 233.3 1190.4M164.9 1189.5Q162.2 1188.2 159.8 1186.6M107.9 1202.9Q104.3 1204.1 99.7 1206.1M119.7 1288.8Q117.1 1294.5 116.1 1298.6M172.2 1234.0Q172.1 1236.1 169.8 1240.6M180.5 1229.9Q180.4 1233.6 181.1 1236.6M199.6 1249.2Q200.7 1251.8 197.8 1258.4M136.1 1196.9Q134.0 1193.8 131.2 1191.2M218.5 1176.7Q219.0 1174.3 221.9 1169.6M94.5 1252.5Q91.5 1253.6 87.5 1255.8M134.2 1209.2Q129.8 1210.7 125.7 1211.8M174.4 1229.1Q174.8 1230.5 172.9 1234.1M222.7 1167.2Q227.5 1164.5 230.4 1163.8M87.3 1162.7Q82.1 1162.3 80.0 1158.7M201.0 1171.7Q206.3 1168.5 209.7 1167.2M215.6 1196.4Q219.2 1195.1 220.7 1195.8M111.9 1164.9Q110.7 1162.2 108.5 1160.8M230.5 1228.3Q235.7 1229.4 239.0 1232.6M160.2 1167.7Q161.0 1163.1 162.0 1158.4M187.4 1193.1Q187.6 1190.9 188.5 1188.0M173.7 1173.0Q169.7 1171.9 169.7 1166.9" fill="none" stroke="#F2D4E6" stroke-width="1.1" stroke-linecap="round" opacity="0.75"/>
<path d="M102.6 1148.5h0M120.4 1153.3h0M157.8 1148.5h0M176.7 1152.5h0M216.8 1151.5h0M229.4 1153.0h0M102.4 1156.5h0M141.0 1157.9h0M148.3 1160.7h0M154.5 1156.1h0M166.5 1155.5h0M179.0 1158.5h0M200.9 1158.0h0M210.0 1162.4h0M226.6 1160.3h0M79.9 1166.0h0M106.4 1167.3h0M186.2 1168.4h0M194.2 1169.1h0M202.3 1162.4h0M209.2 1163.1h0M219.3 1168.5h0M234.2 1164.6h0M133.2 1173.1h0M139.6 1175.9h0M152.3 1170.8h0M159.9 1171.3h0M226.2 1172.2h0M239.1 1171.3h0M74.7 1183.2h0M101.2 1179.6h0M114.8 1183.0h0M134.3 1183.8h0M194.2 1182.4h0M238.4 1181.1h0M249.8 1183.9h0M86.4 1188.2h0M105.4 1189.8h0M180.0 1187.2h0M200.4 1188.7h0M213.3 1183.9h0M234.6 1187.1h0M245.7 1189.6h0M92.0 1192.7h0M110.7 1196.7h0M115.9 1197.4h0M128.8 1191.3h0M159.8 1198.0h0M169.5 1195.3h0M177.8 1194.4h0M111.0 1204.0h0M192.5 1203.7h0M201.4 1200.5h0M227.2 1202.8h0M241.5 1201.3h0M76.7 1206.2h0M85.7 1206.2h0M121.3 1207.5h0M151.8 1206.0h0M181.9 1210.7h0M198.3 1211.4h0M204.7 1212.1h0M222.6 1207.2h0M241.6 1209.6h0M98.1 1219.4h0M122.0 1214.7h0M210.6 1216.8h0M218.4 1219.7h0M240.1 1215.2h0M244.1 1216.6h0M75.1 1226.8h0M86.3 1223.3h0M219.7 1220.8h0M225.7 1223.0h0M99.8 1232.1h0M136.1 1231.8h0M154.5 1229.9h0M186.6 1229.1h0M217.9 1232.7h0M226.5 1226.9h0M239.2 1226.9h0M243.6 1233.9h0M74.5 1237.7h0M107.4 1241.0h0M120.9 1235.2h0M126.5 1239.1h0M174.9 1234.9h0M190.1 1241.0h0M217.4 1240.4h0M223.2 1236.7h0M235.9 1235.6h0M245.8 1240.8h0M101.1 1246.2h0M111.7 1245.5h0M120.7 1247.7h0M173.4 1244.2h0M154.1 1251.9h0M169.3 1248.6h0M185.3 1248.8h0M219.3 1254.3h0M83.0 1256.7h0M99.6 1257.4h0M106.2 1257.1h0M117.2 1256.6h0M124.6 1258.0h0M132.0 1262.1h0M135.5 1256.7h0M144.4 1256.6h0M163.4 1256.1h0M171.4 1257.3h0M194.0 1255.2h0M214.2 1260.5h0M78.3 1266.9h0M85.7 1269.6h0M96.2 1265.4h0M137.3 1269.1h0M188.6 1262.5h0M198.1 1266.6h0M223.6 1267.6h0M85.9 1269.6h0M133.0 1269.7h0M165.8 1273.1h0M191.0 1270.7h0M202.4 1271.3h0M208.7 1274.5h0M112.7 1281.9h0M131.8 1282.2h0M173.8 1277.0h0M196.8 1282.7h0M206.7 1282.4h0M215.6 1278.9h0M221.3 1277.2h0M230.1 1280.4h0M243.6 1277.1h0M86.8 1285.1h0M207.3 1284.8h0M219.7 1288.9h0M230.1 1289.8h0M238.4 1288.6h0M145.0 1296.6h0M170.1 1290.8h0M218.3 1297.2h0M123.8 1301.3h0M132.3 1300.6h0M141.3 1304.0h0M154.7 1302.7h0M163.2 1300.9h0M169.4 1302.0h0M227.6 1302.4h0M245.9 1305.0h0" stroke="#9250A8" stroke-width="3.13" stroke-linecap="round" opacity="0.45"/>
<path d="M79.3 1149.3h0M88.2 1152.3h0M126.8 1152.7h0M136.2 1154.6h0M154.3 1152.4h0M166.0 1148.4h0M205.0 1154.5h0M249.6 1153.8h0M83.5 1160.0h0M95.0 1161.1h0M173.7 1156.4h0M187.1 1159.6h0M237.1 1157.7h0M242.8 1159.7h0M91.6 1165.0h0M126.7 1164.4h0M143.5 1163.8h0M147.6 1169.1h0M161.5 1163.5h0M164.3 1168.5h0M245.8 1165.3h0M83.4 1170.8h0M88.2 1175.5h0M98.0 1171.4h0M105.0 1172.2h0M120.2 1171.9h0M174.4 1176.1h0M189.5 1176.6h0M194.3 1174.9h0M212.5 1174.1h0M109.2 1178.1h0M128.7 1182.1h0M139.9 1177.0h0M154.0 1180.7h0M168.8 1181.5h0M177.2 1180.4h0M185.7 1181.5h0M94.9 1184.8h0M112.4 1185.8h0M118.8 1190.9h0M132.5 1187.7h0M168.3 1185.8h0M187.7 1187.9h0M230.9 1189.3h0M74.7 1192.4h0M101.2 1191.2h0M136.3 1196.7h0M143.3 1192.6h0M180.9 1195.0h0M189.6 1193.2h0M196.9 1194.8h0M226.5 1192.6h0M250.9 1197.4h0M88.2 1203.4h0M109.1 1198.4h0M133.5 1199.4h0M140.2 1200.0h0M148.0 1198.4h0M156.9 1199.6h0M164.2 1201.4h0M176.0 1200.3h0M217.0 1200.1h0M237.0 1201.4h0M100.6 1205.8h0M110.3 1209.6h0M123.4 1208.2h0M136.1 1206.9h0M146.0 1207.1h0M213.1 1207.6h0M84.5 1216.1h0M111.2 1217.7h0M140.4 1218.0h0M154.8 1218.9h0M168.0 1217.0h0M195.4 1218.8h0M205.5 1212.7h0M102.4 1224.8h0M111.5 1224.9h0M125.4 1225.3h0M132.4 1221.8h0M141.0 1221.8h0M154.0 1226.0h0M166.8 1219.8h0M201.8 1224.6h0M210.4 1223.7h0M251.4 1220.6h0M84.0 1229.1h0M105.0 1229.4h0M150.1 1233.9h0M193.6 1231.0h0M210.8 1229.6h0M86.8 1237.8h0M93.6 1239.3h0M147.9 1235.4h0M156.9 1234.5h0M89.6 1247.2h0M136.8 1247.9h0M176.8 1243.3h0M195.4 1244.2h0M205.7 1245.5h0M212.3 1243.8h0M235.4 1241.3h0M73.6 1255.3h0M90.7 1249.6h0M128.9 1252.7h0M131.7 1251.9h0M142.6 1251.2h0M176.3 1250.6h0M201.1 1252.8h0M205.3 1252.8h0M156.7 1257.2h0M184.8 1258.7h0M238.0 1256.9h0M245.6 1261.2h0M109.0 1265.5h0M114.5 1268.3h0M140.4 1266.3h0M149.6 1267.6h0M205.3 1265.4h0M104.9 1273.0h0M121.4 1274.8h0M146.9 1276.0h0M195.3 1269.8h0M222.7 1271.8h0M231.7 1276.1h0M243.7 1275.2h0M96.2 1277.2h0M100.1 1279.3h0M193.7 1281.3h0M251.9 1279.0h0M100.4 1289.7h0M102.4 1287.2h0M115.0 1287.4h0M122.6 1288.3h0M127.5 1284.4h0M134.9 1284.0h0M145.6 1287.1h0M152.6 1288.4h0M173.1 1291.0h0M176.8 1290.6h0M186.2 1288.4h0M195.2 1290.5h0M208.9 1287.6h0M241.7 1287.3h0M78.7 1295.6h0M115.3 1295.5h0M135.5 1294.9h0M180.7 1294.2h0M192.0 1293.2h0M200.6 1292.2h0M222.9 1291.2h0M231.8 1295.5h0M248.9 1296.6h0M78.3 1304.6h0M112.4 1304.3h0M147.7 1302.3h0M198.8 1304.9h0M213.8 1298.9h0M219.9 1298.5h0M238.6 1304.3h0" stroke="#9250A8" stroke-width="3.61" stroke-linecap="round" opacity="0.45"/>
<path d="M92.0 1148.6h0M108.6 1155.5h0M139.6 1154.7h0M185.3 1154.5h0M190.4 1153.6h0M201.8 1152.2h0M227.2 1149.0h0M242.6 1152.0h0M91.0 1159.0h0M114.4 1158.0h0M125.0 1157.5h0M130.2 1156.6h0M197.2 1160.2h0M220.8 1162.5h0M85.3 1169.4h0M104.4 1163.0h0M117.9 1169.1h0M135.6 1165.7h0M176.9 1165.7h0M225.4 1165.6h0M242.4 1169.5h0M114.0 1176.8h0M143.8 1170.8h0M180.9 1173.3h0M201.3 1172.3h0M218.3 1172.5h0M243.8 1174.0h0M83.9 1178.9h0M92.1 1180.0h0M159.3 1180.5h0M197.3 1179.9h0M209.5 1181.9h0M216.0 1181.0h0M227.4 1178.3h0M231.1 1178.9h0M81.3 1185.5h0M135.4 1190.8h0M147.5 1189.0h0M156.1 1187.9h0M162.4 1189.4h0M193.0 1185.0h0M218.2 1186.2h0M87.2 1196.0h0M150.7 1197.9h0M210.2 1198.3h0M218.3 1196.2h0M233.6 1197.6h0M242.2 1193.8h0M80.5 1199.7h0M95.3 1199.6h0M123.3 1204.5h0M172.5 1201.0h0M185.9 1205.4h0M213.8 1202.2h0M92.5 1206.1h0M159.6 1210.9h0M167.2 1207.3h0M175.9 1212.5h0M192.1 1212.5h0M235.6 1206.7h0M245.9 1210.8h0M87.1 1214.5h0M107.5 1214.4h0M132.6 1214.6h0M148.8 1214.1h0M161.5 1213.0h0M179.4 1217.6h0M190.9 1216.6h0M225.4 1219.0h0M91.7 1223.7h0M114.9 1223.0h0M162.5 1222.0h0M176.4 1222.8h0M182.6 1225.9h0M195.5 1224.5h0M231.5 1224.6h0M237.6 1226.1h0M91.0 1226.9h0M113.9 1227.4h0M125.6 1230.3h0M131.2 1230.8h0M166.7 1232.4h0M172.6 1231.6h0M182.2 1228.9h0M200.5 1231.1h0M98.3 1236.1h0M134.7 1239.2h0M144.6 1234.1h0M165.7 1236.9h0M184.0 1238.3h0M201.2 1240.7h0M208.1 1239.3h0M240.4 1235.6h0M77.5 1244.9h0M105.7 1247.5h0M127.1 1245.3h0M144.3 1246.2h0M151.3 1242.6h0M162.1 1245.6h0M184.9 1247.1h0M221.2 1241.2h0M230.3 1242.9h0M248.5 1244.1h0M87.4 1254.0h0M103.4 1252.1h0M111.5 1253.2h0M119.3 1254.6h0M161.7 1254.6h0M188.2 1253.1h0M224.9 1250.6h0M235.7 1254.9h0M243.1 1251.4h0M246.2 1251.1h0M88.3 1257.6h0M181.2 1257.8h0M203.8 1259.6h0M217.1 1258.1h0M227.5 1261.4h0M105.0 1268.5h0M123.3 1264.7h0M158.9 1267.0h0M168.6 1269.5h0M174.2 1262.3h0M182.0 1262.4h0M218.5 1266.3h0M235.7 1269.0h0M240.3 1267.8h0M250.8 1264.6h0M78.8 1274.4h0M101.2 1273.4h0M111.7 1270.6h0M137.4 1275.1h0M154.1 1274.4h0M168.5 1269.8h0M176.7 1273.7h0M239.5 1274.0h0M75.8 1283.8h0M88.2 1278.5h0M119.2 1282.0h0M126.1 1278.6h0M141.7 1279.6h0M148.6 1283.8h0M156.7 1276.6h0M166.0 1278.3h0M186.1 1279.9h0M83.9 1286.0h0M163.5 1287.6h0M87.1 1295.1h0M96.8 1295.7h0M104.9 1297.2h0M106.7 1297.6h0M129.1 1292.8h0M148.7 1291.8h0M161.2 1291.6h0M175.6 1296.6h0M205.0 1292.2h0M244.7 1293.4h0M92.5 1304.2h0M96.7 1303.6h0M106.9 1303.7h0M179.9 1301.3h0M184.0 1298.2h0M202.8 1304.1h0" stroke="#9250A8" stroke-width="4.10" stroke-linecap="round" opacity="0.45"/>
<path d="M102.7 1156.2h0M180.9 1294.6h0M130.9 1157.5h0M160.4 1198.0h0M87.0 1238.1h0" stroke="#5A2A66" stroke-width="2.35" stroke-linecap="round" opacity="0.55"/>
<path d="M78.5 1274.1h0M174.1 1235.1h0M207.6 1281.7h0M213.3 1299.8h0M126.0 1224.9h0" stroke="#5A2A66" stroke-width="2.66" stroke-linecap="round" opacity="0.55"/>
<path d="M106.7 1302.8h0M102.1 1156.2h0M231.2 1242.1h0M104.8 1162.0h0M230.2 1178.8h0" stroke="#5A2A66" stroke-width="3.03" stroke-linecap="round" opacity="0.55"/>
</g>
<clipPath id="ca2"><rect x="247.3" y="1154.7" width="159.3" height="137.8"/></clipPath>
<g clip-path="url(#ca2)">
<rect x="247.3" y="1154.7" width="159.3" height="137.8" fill="#D8689F"/>
<rect x="247.3" y="1154.7" width="159.3" height="137.8" fill="#fff" filter="url(#mot)" opacity="0.12"/>
<path d="M335.2 1184.9Q339.7 1181.7 344.6 1178.2M351.5 1187.4Q353.8 1183.5 354.5 1181.1M281.2 1285.3Q279.5 1290.2 281.1 1291.7M366.3 1205.7Q370.5 1204.7 373.5 1204.7M313.8 1186.3Q310.1 1185.0 309.5 1180.5M374.8 1244.2Q378.0 1248.8 382.2 1252.6M312.4 1211.7Q305.7 1215.0 303.0 1214.2M321.7 1225.9Q322.1 1227.6 320.8 1231.0M250.8 1230.8Q247.5 1233.8 246.8 1234.1M261.7 1178.6Q257.2 1176.0 253.8 1172.3M346.1 1217.9Q350.5 1220.9 356.3 1222.4M384.2 1248.1Q384.2 1251.6 387.6 1251.8M256.9 1205.7Q253.8 1201.0 247.9 1199.0M271.4 1250.5Q267.4 1250.8 261.1 1253.4M273.1 1183.1Q271.2 1177.8 266.2 1175.6M316.7 1271.7Q320.0 1275.7 320.1 1282.9M303.3 1168.4Q300.5 1164.6 298.8 1159.6M258.7 1194.7Q258.2 1191.4 254.2 1191.5M293.0 1183.6Q288.7 1181.3 281.2 1182.2M300.5 1173.0Q296.2 1169.8 295.8 1162.8M346.6 1268.6Q349.4 1271.5 349.7 1277.0M289.0 1194.8Q285.4 1192.2 281.6 1189.9M301.1 1279.0Q302.1 1282.2 300.1 1288.7M312.9 1164.3Q309.7 1163.6 309.4 1160.1M270.6 1201.8Q267.1 1201.2 262.4 1202.0" fill="none" stroke="#F6DDEB" stroke-width="0.9" stroke-linecap="round" opacity="0.5"/>
<path d="M405.5 1256.7h0M312.9 1217.0h0M345.5 1174.5h0M281.8 1264.4h0M284.3 1181.2h0M363.6 1235.6h0M277.5 1225.9h0M341.7 1283.5h0M395.6 1279.2h0M253.8 1238.9h0M293.2 1227.8h0M383.2 1281.4h0M295.9 1278.4h0M317.2 1282.3h0M371.2 1185.6h0M341.7 1246.0h0M267.3 1290.6h0M402.0 1255.1h0M331.8 1253.0h0M358.2 1194.1h0M365.4 1235.2h0M288.0 1253.4h0M336.4 1268.6h0M270.8 1223.6h0M269.7 1176.5h0M284.0 1276.9h0M362.0 1280.1h0M384.7 1198.9h0M316.7 1277.0h0M342.2 1210.6h0M255.8 1205.0h0M376.2 1178.5h0M387.3 1198.9h0M349.0 1221.9h0M381.6 1182.6h0M357.5 1158.5h0M313.4 1197.9h0M338.0 1257.6h0M406.3 1158.0h0M274.5 1289.0h0M250.2 1185.2h0M378.6 1207.4h0M325.1 1169.9h0M366.6 1267.1h0M380.2 1254.2h0M401.2 1255.7h0M252.4 1178.0h0M309.4 1213.0h0M393.3 1254.6h0M372.4 1273.2h0M255.9 1265.4h0M361.4 1244.3h0M316.9 1192.2h0M301.9 1215.3h0M347.1 1213.3h0M323.7 1231.3h0M291.4 1212.8h0M312.1 1236.6h0M369.5 1159.7h0M353.2 1228.7h0M268.6 1230.7h0M250.0 1191.2h0M356.9 1288.2h0M325.4 1218.7h0M339.5 1211.0h0M307.0 1239.8h0M383.4 1198.9h0M273.8 1225.4h0M262.7 1220.9h0M278.9 1155.7h0M338.5 1261.9h0M344.6 1170.6h0M402.1 1223.9h0M326.5 1238.6h0M320.0 1205.5h0M324.9 1190.6h0M255.7 1241.5h0M344.5 1201.5h0M375.3 1279.2h0M267.8 1204.9h0M303.5 1204.6h0M270.2 1242.6h0M324.0 1157.1h0M303.6 1207.0h0M274.9 1250.8h0M363.9 1158.8h0M285.7 1271.6h0M293.2 1289.7h0M366.4 1156.7h0M348.7 1245.2h0M373.1 1174.5h0M297.5 1190.9h0M309.6 1208.9h0M370.1 1180.1h0M386.2 1269.3h0M255.8 1193.6h0M248.8 1167.7h0M374.1 1263.0h0M396.0 1165.3h0M265.5 1219.8h0M348.9 1238.2h0M318.2 1226.4h0M264.6 1157.9h0M286.1 1228.4h0M335.4 1176.6h0M384.1 1261.0h0M401.4 1254.0h0M400.4 1167.5h0M268.0 1192.8h0M403.4 1190.7h0M360.9 1167.5h0M327.3 1262.8h0M383.0 1216.9h0M287.9 1192.6h0M247.5 1198.3h0M367.3 1210.7h0M366.9 1271.2h0M346.8 1255.2h0M262.6 1213.1h0M356.6 1187.4h0M367.9 1272.0h0M322.2 1224.2h0M325.0 1174.9h0M341.2 1198.9h0M347.3 1175.6h0M325.5 1214.9h0M325.7 1193.1h0M365.0 1230.4h0M329.5 1246.6h0M268.4 1206.1h0M284.0 1226.5h0M300.7 1275.3h0M306.0 1221.3h0M252.9 1281.4h0M368.8 1215.1h0M350.0 1168.8h0M378.2 1185.6h0M252.6 1165.6h0M258.4 1160.5h0M391.3 1187.3h0M364.8 1186.5h0M277.3 1253.9h0M257.1 1231.3h0M265.8 1275.7h0M391.1 1218.2h0M375.8 1172.4h0M378.5 1249.0h0M400.0 1178.2h0M293.6 1287.8h0M370.6 1194.1h0M342.4 1229.1h0M260.7 1246.6h0M250.3 1203.2h0M320.1 1217.1h0M305.2 1230.7h0M286.7 1272.6h0M281.2 1229.2h0M384.6 1167.4h0M285.2 1198.6h0M385.4 1244.3h0M365.9 1259.9h0M367.9 1257.3h0M301.0 1155.7h0M280.4 1184.8h0M278.3 1284.6h0M373.3 1270.0h0M373.5 1215.4h0M335.9 1170.4h0M400.3 1217.5h0M270.5 1253.1h0M370.6 1255.9h0M403.9 1185.8h0M284.5 1163.2h0" stroke="#F4EAF2" stroke-width="0.85" stroke-linecap="round" opacity="0.55"/>
<path d="M334.9 1172.3h0M298.0 1247.8h0M294.6 1160.3h0M353.5 1191.8h0M404.0 1281.8h0M363.6 1174.9h0M390.7 1216.5h0M323.9 1172.5h0M279.2 1175.5h0M252.6 1277.7h0M356.0 1205.6h0M383.4 1160.9h0M346.6 1173.5h0M257.5 1168.7h0M336.9 1194.3h0M387.3 1289.7h0M363.8 1166.7h0M373.6 1178.3h0M294.2 1194.1h0M355.7 1275.0h0M368.1 1242.3h0M317.1 1251.3h0M295.1 1192.5h0M328.3 1262.4h0M378.8 1187.1h0M260.4 1201.9h0M288.6 1230.1h0M273.0 1227.2h0M362.4 1283.0h0M378.1 1239.2h0M312.5 1228.6h0M353.8 1272.1h0M266.9 1169.2h0M397.2 1251.6h0M248.3 1197.4h0M324.2 1171.6h0M344.8 1243.0h0M336.1 1170.3h0M310.4 1273.0h0M398.3 1198.9h0M265.2 1218.0h0M280.2 1249.2h0M360.6 1189.2h0M270.9 1286.5h0M387.6 1239.8h0M399.0 1178.9h0M397.7 1205.6h0M266.8 1175.5h0M266.1 1160.8h0M333.9 1292.0h0M256.6 1205.2h0M356.1 1175.9h0M298.1 1224.7h0M394.8 1170.8h0M379.4 1289.9h0M284.6 1163.9h0M396.4 1193.2h0M399.1 1228.0h0M248.8 1205.4h0M400.9 1234.0h0M329.3 1264.4h0M249.0 1283.2h0M401.4 1239.2h0M380.0 1217.4h0M264.0 1208.0h0M367.3 1169.3h0M361.7 1256.4h0M394.2 1174.0h0M336.4 1248.2h0M393.3 1209.5h0M302.9 1268.0h0M371.2 1198.3h0M340.9 1203.1h0M283.7 1198.9h0M294.6 1218.7h0M249.9 1204.8h0M385.8 1247.7h0M277.4 1285.0h0M273.1 1211.6h0M400.7 1282.6h0M266.2 1250.7h0M383.8 1223.3h0M363.8 1203.7h0M353.0 1250.1h0M253.4 1274.3h0M251.4 1273.3h0M325.1 1248.0h0M363.1 1181.6h0M280.5 1236.3h0M318.4 1225.7h0M329.6 1265.0h0M394.0 1201.0h0M303.3 1155.1h0M322.1 1177.5h0M314.1 1285.4h0M385.5 1191.8h0M277.5 1290.3h0M299.3 1186.0h0M348.6 1179.0h0M291.2 1234.8h0M384.7 1246.1h0M249.3 1197.2h0M318.7 1181.1h0M372.1 1235.8h0M320.1 1287.9h0M330.0 1172.5h0M264.2 1257.3h0M312.1 1210.4h0M396.2 1210.4h0M325.5 1194.6h0M269.9 1261.4h0M304.4 1226.2h0M361.8 1259.9h0M315.9 1231.8h0M304.1 1252.1h0M394.9 1171.8h0M364.1 1209.9h0M272.5 1264.8h0M383.0 1192.1h0M378.9 1253.5h0M369.7 1262.3h0M307.1 1279.8h0M283.4 1271.8h0M251.3 1289.5h0M266.5 1184.2h0M384.0 1178.7h0M255.9 1266.9h0M337.5 1257.8h0M314.9 1214.7h0M313.7 1193.8h0M377.7 1253.2h0M370.6 1161.0h0M296.1 1256.7h0M358.9 1160.6h0M336.7 1280.0h0M359.5 1160.1h0M384.9 1264.4h0M335.0 1277.4h0M257.6 1158.8h0M320.3 1163.1h0M312.3 1242.2h0" stroke="#F4EAF2" stroke-width="1.14" stroke-linecap="round" opacity="0.55"/>
<path d="M356.8 1204.9h0M285.6 1214.7h0M398.8 1261.2h0M383.9 1163.2h0M289.7 1242.7h0M402.9 1264.7h0M313.8 1191.2h0M393.6 1225.1h0M405.5 1237.7h0M311.5 1173.2h0M294.6 1187.1h0M309.2 1231.6h0M396.4 1200.5h0M368.0 1258.9h0M396.8 1239.7h0M382.7 1162.4h0M261.9 1245.8h0M254.2 1162.5h0M393.3 1180.4h0M374.0 1254.9h0M292.6 1209.5h0M329.6 1221.9h0M314.3 1273.1h0M285.9 1173.5h0M262.8 1229.3h0M319.6 1266.9h0M273.5 1165.2h0M385.3 1272.2h0M328.5 1286.7h0M368.8 1280.3h0M259.2 1189.3h0M248.4 1199.1h0M339.8 1203.0h0M358.1 1198.7h0M402.7 1176.5h0M361.0 1156.2h0M287.3 1216.1h0M280.7 1169.1h0M249.2 1178.9h0M345.3 1239.4h0M279.9 1278.0h0M378.3 1262.5h0M279.3 1274.4h0M358.3 1221.4h0M305.6 1233.4h0M256.6 1263.9h0M329.6 1194.0h0M339.9 1276.6h0M260.3 1228.9h0M331.5 1194.3h0M300.8 1211.9h0M259.1 1182.1h0M321.1 1277.3h0M300.8 1289.8h0M272.4 1258.3h0M345.5 1252.7h0M279.9 1181.5h0M384.7 1260.1h0M287.8 1232.5h0M385.6 1272.0h0M285.9 1195.2h0M343.0 1264.8h0M266.5 1164.1h0M401.9 1253.4h0M371.1 1200.1h0M352.8 1230.1h0M278.5 1262.6h0M398.3 1179.5h0M341.2 1222.6h0M400.4 1265.5h0M359.0 1282.2h0M275.7 1155.9h0M356.2 1262.3h0M257.9 1169.3h0M276.2 1223.1h0M354.6 1188.4h0M385.3 1224.8h0M262.3 1192.6h0M339.7 1253.7h0M268.4 1281.3h0M336.8 1282.5h0M334.8 1212.4h0M403.1 1197.0h0M366.8 1287.5h0M345.4 1255.8h0M256.5 1241.7h0M287.5 1235.9h0M317.1 1281.4h0M323.5 1250.0h0M346.6 1161.1h0M380.7 1262.6h0M294.8 1270.1h0M347.1 1200.9h0M403.7 1158.4h0M327.1 1220.5h0M381.3 1245.4h0M282.3 1254.3h0M318.4 1257.7h0M304.7 1160.4h0M374.9 1268.0h0M365.7 1261.2h0M378.0 1259.6h0M257.7 1165.7h0M266.1 1265.4h0M328.4 1157.3h0M367.6 1244.0h0M348.2 1267.1h0M264.4 1240.6h0M344.5 1208.2h0M322.4 1283.1h0M293.8 1241.2h0M257.1 1261.4h0M347.1 1231.1h0M357.7 1218.8h0M397.5 1252.4h0M265.0 1166.7h0M357.0 1190.0h0M295.8 1253.3h0M390.1 1253.0h0M301.0 1161.5h0M327.4 1229.4h0M331.8 1254.4h0M354.9 1264.0h0M298.9 1214.2h0M370.1 1234.2h0M391.6 1166.9h0M379.2 1163.8h0M300.7 1283.8h0M365.0 1277.4h0M386.5 1192.9h0M303.7 1210.8h0M358.7 1287.5h0M270.2 1190.8h0M355.0 1168.4h0M370.9 1205.7h0M334.4 1242.6h0M311.5 1228.8h0M283.6 1191.7h0M361.8 1160.1h0M281.7 1167.7h0M395.7 1204.6h0M355.5 1207.5h0M285.3 1261.8h0M295.8 1200.2h0M309.6 1257.9h0M324.6 1179.7h0M400.6 1210.6h0M405.7 1288.0h0M319.7 1199.6h0M356.3 1188.5h0M342.9 1288.6h0M290.6 1179.0h0M295.5 1226.1h0M283.7 1235.3h0M330.5 1232.3h0M265.6 1224.4h0M397.5 1243.5h0M373.0 1253.5h0M316.4 1162.6h0M305.5 1214.6h0M293.7 1206.8h0M401.4 1208.7h0M286.9 1178.6h0M396.2 1188.2h0M386.9 1258.6h0M275.3 1164.8h0M285.8 1195.6h0M349.9 1228.1h0M306.2 1243.4h0M363.0 1193.8h0M351.7 1273.2h0M270.1 1265.9h0M373.9 1216.1h0M291.9 1213.6h0M272.4 1169.5h0M354.3 1215.5h0M389.6 1215.3h0M272.2 1247.7h0M334.2 1262.9h0M249.1 1183.8h0M327.6 1174.5h0M400.6 1232.3h0M346.9 1286.0h0M385.5 1202.0h0M315.8 1265.6h0M350.3 1222.7h0M334.3 1204.6h0M249.9 1168.8h0M301.5 1253.1h0M392.7 1171.9h0M315.2 1175.7h0M353.3 1273.3h0M376.8 1158.4h0M341.8 1278.3h0M269.5 1276.8h0M375.4 1282.9h0M362.9 1226.7h0M394.6 1192.2h0M329.4 1279.4h0M362.1 1269.9h0M334.7 1198.6h0M392.8 1270.2h0M277.7 1188.3h0M348.6 1249.5h0M359.6 1219.7h0M256.4 1186.5h0" stroke="#F4EAF2" stroke-width="1.45" stroke-linecap="round" opacity="0.55"/>
<path d="M257.6 1150.1h0M261.9 1153.6h0M305.8 1150.6h0M310.1 1149.2h0M320.4 1151.5h0M331.4 1153.6h0M344.8 1151.1h0M363.1 1152.8h0M376.7 1149.1h0M379.3 1151.8h0M395.6 1151.1h0M411.2 1152.4h0M246.8 1158.5h0M260.3 1159.5h0M276.4 1155.6h0M287.0 1155.0h0M288.7 1158.7h0M301.7 1155.5h0M319.1 1159.6h0M335.1 1155.3h0M340.0 1158.6h0M346.1 1154.4h0M356.6 1154.3h0M370.2 1158.7h0M378.4 1157.7h0M382.8 1159.5h0M394.9 1158.5h0M252.5 1163.4h0M305.6 1163.5h0M330.5 1161.0h0M361.7 1164.4h0M387.1 1164.5h0M273.4 1170.2h0M283.0 1168.9h0M296.2 1169.3h0M300.4 1166.0h0M339.2 1169.2h0M376.6 1167.4h0M384.7 1170.5h0M245.1 1174.3h0M254.7 1175.7h0M278.9 1174.5h0M315.8 1174.4h0M323.5 1172.1h0M381.7 1174.8h0M385.4 1171.0h0M391.7 1170.5h0M411.6 1173.7h0M260.3 1176.8h0M285.8 1177.9h0M289.2 1177.0h0M312.7 1180.3h0M325.6 1178.0h0M344.3 1177.4h0M353.2 1177.4h0M359.1 1179.5h0M370.4 1180.9h0M255.1 1181.3h0M264.3 1184.9h0M301.8 1184.1h0M304.5 1186.0h0M317.2 1182.7h0M322.5 1184.3h0M330.5 1181.4h0M337.4 1182.9h0M350.5 1184.3h0M355.4 1186.2h0M370.3 1181.5h0M394.2 1184.4h0M409.9 1182.8h0M249.0 1186.6h0M268.5 1189.4h0M270.4 1188.3h0M285.1 1187.1h0M288.0 1189.3h0M295.9 1188.2h0M304.8 1190.4h0M335.8 1191.8h0M365.7 1190.0h0M372.0 1187.2h0M378.8 1191.5h0M403.6 1188.4h0M258.0 1195.2h0M265.1 1196.8h0M306.2 1195.7h0M316.8 1192.3h0M327.1 1196.7h0M341.6 1194.7h0M359.9 1194.2h0M372.2 1197.0h0M385.9 1194.8h0M412.8 1192.8h0M245.0 1202.0h0M322.4 1200.4h0M342.1 1202.2h0M358.1 1198.1h0M378.7 1201.4h0M387.5 1200.7h0M401.0 1200.8h0M255.5 1206.3h0M263.1 1206.0h0M274.2 1206.5h0M281.2 1203.5h0M317.6 1203.6h0M330.9 1204.5h0M337.9 1204.9h0M351.5 1205.7h0M375.4 1207.5h0M404.7 1204.5h0M411.9 1203.5h0M301.4 1211.9h0M316.6 1209.9h0M333.7 1211.6h0M399.9 1211.7h0M264.9 1214.4h0M281.4 1215.9h0M301.7 1218.2h0M320.1 1214.2h0M330.3 1216.9h0M357.8 1215.3h0M373.0 1214.2h0M398.8 1215.6h0M406.5 1215.9h0M252.5 1221.1h0M273.1 1219.6h0M285.0 1223.2h0M298.2 1221.8h0M304.5 1221.1h0M321.9 1219.0h0M334.2 1219.4h0M347.9 1221.4h0M359.4 1219.6h0M364.6 1223.2h0M370.0 1222.4h0M394.9 1223.2h0M410.6 1224.3h0M245.2 1229.8h0M252.7 1225.8h0M256.4 1229.4h0M264.1 1229.7h0M275.2 1227.0h0M284.1 1227.9h0M292.3 1229.0h0M331.5 1224.6h0M340.0 1228.1h0M371.6 1228.4h0M389.0 1225.0h0M390.7 1226.6h0M246.2 1233.7h0M259.4 1229.9h0M263.1 1233.9h0M387.1 1233.5h0M307.4 1236.1h0M322.7 1235.3h0M363.6 1235.8h0M366.9 1236.7h0M380.3 1239.7h0M395.6 1237.6h0M252.6 1244.4h0M271.0 1243.9h0M296.7 1240.9h0M301.8 1244.7h0M336.8 1245.2h0M360.3 1245.6h0M372.4 1242.6h0M270.7 1249.4h0M289.3 1246.8h0M293.5 1250.2h0M335.1 1251.3h0M393.4 1249.0h0M398.3 1250.1h0M270.9 1255.3h0M313.4 1253.8h0M330.2 1252.6h0M335.7 1252.9h0M356.3 1251.7h0M365.7 1252.3h0M245.1 1257.9h0M262.6 1258.9h0M275.6 1257.7h0M287.4 1260.6h0M293.5 1257.4h0M301.9 1257.9h0M373.2 1259.3h0M394.6 1259.4h0M250.9 1265.5h0M372.6 1263.0h0M390.8 1267.6h0M396.0 1263.2h0M401.0 1266.2h0M407.4 1262.7h0M247.6 1271.9h0M261.9 1268.9h0M272.5 1271.2h0M302.1 1269.4h0M311.2 1269.0h0M322.1 1271.9h0M344.5 1268.3h0M387.2 1272.3h0M395.3 1270.0h0M411.1 1267.6h0M245.6 1273.3h0M251.6 1276.9h0M271.7 1275.4h0M289.1 1273.1h0M342.0 1274.1h0M358.2 1276.5h0M397.8 1274.6h0M252.0 1282.0h0M263.7 1280.8h0M288.9 1280.3h0M294.5 1283.0h0M299.7 1281.7h0M319.6 1282.7h0M344.8 1281.7h0M350.3 1279.3h0M373.1 1280.7h0M378.5 1280.5h0M262.3 1284.0h0M267.6 1287.6h0M277.7 1289.0h0M285.0 1286.9h0M318.1 1287.0h0M334.1 1285.2h0M347.9 1286.8h0M386.1 1288.2h0M391.3 1285.2h0M403.6 1284.5h0M409.3 1286.1h0M242.5 1292.0h0M259.2 1294.2h0M269.3 1293.3h0M276.5 1289.1h0M300.4 1290.9h0M304.8 1292.9h0M312.5 1294.5h0M338.4 1290.7h0M378.0 1290.5h0M411.6 1294.3h0M248.7 1297.1h0M266.9 1297.8h0M273.3 1294.5h0M284.1 1299.7h0M338.7 1294.7h0M352.8 1297.2h0M371.0 1299.3h0M376.3 1299.5h0M390.5 1296.6h0M404.6 1295.7h0M408.0 1298.1h0" stroke="#7A3E8E" stroke-width="2.25" stroke-linecap="round" opacity="0.5"/>
<path d="M268.2 1151.8h0M277.2 1152.0h0M283.7 1151.5h0M325.8 1154.3h0M347.7 1153.5h0M358.1 1150.1h0M385.3 1153.4h0M271.5 1159.6h0M325.5 1158.9h0M365.3 1157.6h0M403.4 1155.2h0M244.7 1161.9h0M273.7 1163.6h0M279.3 1160.1h0M289.6 1161.2h0M291.5 1160.0h0M314.7 1160.2h0M319.0 1164.5h0M337.8 1161.3h0M347.0 1162.9h0M356.5 1163.5h0M367.7 1161.6h0M380.6 1163.0h0M405.7 1160.1h0M245.1 1170.5h0M252.1 1165.7h0M261.6 1167.0h0M280.7 1169.9h0M311.3 1165.2h0M323.8 1168.1h0M329.6 1166.0h0M334.5 1170.1h0M355.3 1168.5h0M364.2 1170.5h0M389.1 1166.4h0M248.5 1172.7h0M263.7 1175.0h0M290.0 1171.0h0M297.8 1172.1h0M306.4 1173.9h0M310.9 1172.2h0M332.6 1172.6h0M350.5 1172.9h0M353.1 1172.4h0M371.9 1171.6h0M398.0 1173.4h0M254.5 1179.5h0M270.9 1181.2h0M296.2 1180.1h0M303.9 1181.0h0M311.1 1180.7h0M332.3 1176.3h0M342.7 1180.8h0M375.0 1181.0h0M385.4 1179.0h0M387.1 1177.8h0M400.2 1179.3h0M283.0 1184.3h0M314.8 1185.1h0M344.0 1184.6h0M361.3 1183.6h0M373.0 1184.6h0M396.9 1184.8h0M280.4 1190.6h0M310.3 1188.8h0M317.3 1188.2h0M323.3 1187.3h0M354.2 1189.1h0M389.9 1187.7h0M410.8 1188.0h0M248.3 1196.4h0M274.5 1196.7h0M281.0 1196.0h0M301.3 1196.9h0M339.9 1193.9h0M348.0 1193.4h0M378.5 1196.1h0M403.9 1196.3h0M261.1 1200.0h0M271.1 1200.9h0M286.1 1197.4h0M299.2 1198.7h0M314.9 1199.5h0M330.6 1202.8h0M364.0 1202.8h0M395.5 1199.3h0M411.1 1201.8h0M244.3 1205.2h0M269.6 1203.2h0M295.5 1207.3h0M368.6 1204.8h0M248.8 1208.4h0M261.0 1208.9h0M263.6 1211.4h0M269.5 1209.6h0M278.7 1213.6h0M307.3 1209.2h0M328.2 1209.8h0M352.9 1208.1h0M372.3 1210.5h0M390.3 1208.2h0M396.6 1208.2h0M406.6 1211.6h0M242.8 1218.7h0M270.4 1214.5h0M276.1 1218.2h0M286.1 1217.2h0M294.9 1215.4h0M306.3 1217.3h0M311.9 1218.7h0M325.0 1213.7h0M334.9 1216.4h0M347.7 1215.3h0M364.2 1216.5h0M388.3 1215.8h0M413.6 1214.3h0M258.4 1222.2h0M276.4 1219.0h0M288.9 1219.4h0M308.7 1220.0h0M353.3 1223.1h0M376.3 1223.3h0M384.9 1221.8h0M389.7 1219.0h0M404.4 1219.7h0M267.6 1224.6h0M288.1 1225.2h0M318.6 1227.2h0M327.4 1228.5h0M346.0 1228.7h0M354.1 1227.4h0M380.0 1228.9h0M274.1 1231.7h0M284.0 1233.5h0M288.5 1234.4h0M297.9 1234.5h0M304.7 1233.2h0M313.0 1234.5h0M327.1 1232.1h0M333.9 1231.2h0M337.6 1230.7h0M352.5 1232.0h0M372.7 1231.8h0M376.4 1230.2h0M381.2 1233.4h0M395.0 1230.8h0M402.1 1230.8h0M406.3 1230.2h0M261.8 1237.3h0M271.8 1240.6h0M272.5 1239.5h0M296.0 1237.5h0M310.2 1236.6h0M316.2 1238.7h0M338.5 1239.5h0M376.2 1235.8h0M397.7 1240.0h0M403.1 1238.7h0M263.3 1243.4h0M283.0 1243.7h0M290.0 1242.3h0M311.4 1244.5h0M339.3 1241.8h0M345.9 1241.3h0M379.6 1242.6h0M396.0 1243.9h0M406.8 1243.4h0M248.9 1246.4h0M264.4 1246.4h0M283.0 1246.4h0M297.3 1249.8h0M315.9 1246.0h0M332.1 1250.0h0M342.9 1250.5h0M362.8 1247.1h0M381.5 1247.2h0M388.4 1246.7h0M254.3 1256.5h0M262.2 1252.7h0M283.6 1252.2h0M294.2 1256.1h0M301.3 1254.6h0M307.6 1253.0h0M323.5 1256.0h0M340.4 1253.3h0M353.6 1255.2h0M379.3 1251.6h0M381.8 1251.4h0M392.0 1256.8h0M395.5 1256.2h0M405.0 1253.8h0M410.1 1255.7h0M270.3 1258.7h0M281.8 1259.3h0M307.4 1261.0h0M311.7 1258.7h0M320.2 1260.6h0M332.4 1260.8h0M350.3 1259.1h0M355.0 1258.4h0M366.3 1260.6h0M384.5 1257.7h0M407.3 1259.9h0M412.7 1262.2h0M286.3 1266.9h0M295.3 1262.9h0M310.4 1266.4h0M317.0 1262.9h0M330.2 1262.1h0M340.1 1267.0h0M348.9 1263.3h0M374.9 1264.6h0M244.6 1267.5h0M255.8 1270.7h0M267.0 1271.6h0M289.0 1269.5h0M331.7 1270.9h0M347.8 1267.7h0M356.1 1272.8h0M361.0 1268.8h0M406.2 1271.2h0M263.1 1273.7h0M285.2 1277.8h0M296.4 1273.9h0M311.7 1277.7h0M321.9 1276.2h0M352.1 1274.6h0M364.4 1274.3h0M369.0 1274.5h0M378.2 1278.1h0M400.6 1274.5h0M406.8 1277.5h0M241.7 1279.1h0M266.9 1283.3h0M274.6 1282.5h0M308.7 1279.9h0M333.6 1281.9h0M355.1 1279.3h0M360.0 1282.8h0M368.5 1282.8h0M388.7 1278.7h0M392.7 1279.7h0M405.8 1282.9h0M248.8 1287.2h0M255.3 1285.6h0M290.2 1287.1h0M300.8 1283.8h0M310.8 1288.7h0M330.1 1288.4h0M339.6 1284.9h0M361.0 1285.7h0M363.7 1283.8h0M287.1 1292.9h0M293.8 1292.3h0M333.4 1292.0h0M346.9 1292.4h0M357.5 1293.0h0M366.3 1292.6h0M388.9 1292.8h0M404.3 1289.4h0M261.5 1298.0h0M304.6 1297.7h0M332.9 1298.4h0M344.5 1298.5h0M358.0 1299.5h0M397.4 1295.4h0" stroke="#7A3E8E" stroke-width="2.59" stroke-linecap="round" opacity="0.5"/>
<path d="M245.9 1151.3h0M250.5 1152.0h0M286.5 1151.5h0M293.4 1152.1h0M302.4 1153.5h0M336.9 1150.0h0M367.6 1151.1h0M399.0 1154.2h0M406.2 1152.4h0M251.3 1159.2h0M265.9 1158.5h0M298.9 1158.1h0M310.4 1159.3h0M313.4 1156.6h0M354.4 1156.3h0M391.9 1157.0h0M410.2 1154.7h0M258.6 1164.0h0M262.3 1162.8h0M267.2 1162.6h0M301.3 1164.8h0M326.6 1160.9h0M345.8 1163.7h0M371.7 1159.7h0M390.8 1161.7h0M398.5 1164.6h0M412.6 1160.8h0M265.8 1169.4h0M288.3 1166.3h0M316.6 1165.9h0M348.7 1165.8h0M357.2 1169.8h0M371.3 1166.6h0M395.1 1169.6h0M400.6 1167.4h0M406.0 1168.8h0M271.2 1170.5h0M276.9 1172.1h0M296.0 1175.4h0M335.0 1171.1h0M342.8 1172.6h0M363.6 1175.2h0M368.3 1175.2h0M403.8 1172.7h0M244.7 1177.1h0M264.1 1176.3h0M275.8 1177.3h0M324.0 1177.2h0M362.8 1176.0h0M394.8 1178.0h0M407.5 1177.4h0M243.4 1186.0h0M250.1 1185.2h0M269.0 1186.4h0M274.5 1184.3h0M289.3 1183.1h0M295.1 1183.7h0M378.8 1186.4h0M388.7 1185.1h0M404.7 1182.7h0M253.8 1188.2h0M259.4 1190.2h0M330.6 1188.2h0M338.9 1190.2h0M346.7 1188.2h0M361.3 1190.6h0M382.4 1189.8h0M398.5 1191.7h0M243.7 1195.8h0M267.9 1193.8h0M285.2 1195.1h0M291.0 1193.7h0M311.0 1195.5h0M330.7 1193.9h0M356.8 1196.1h0M369.4 1197.2h0M395.0 1192.7h0M396.5 1194.5h0M251.7 1198.9h0M265.9 1198.6h0M280.4 1202.2h0M290.9 1202.8h0M301.9 1198.5h0M310.6 1198.0h0M336.2 1202.3h0M345.8 1199.0h0M354.9 1198.3h0M368.8 1201.2h0M384.3 1202.2h0M248.8 1204.3h0M285.8 1205.7h0M299.5 1207.5h0M305.9 1204.9h0M314.2 1205.3h0M323.9 1205.0h0M345.7 1206.7h0M355.1 1207.9h0M362.7 1207.2h0M380.9 1204.4h0M388.1 1206.4h0M394.6 1203.3h0M398.0 1203.6h0M255.7 1211.5h0M282.1 1212.9h0M293.1 1210.8h0M298.2 1210.6h0M320.8 1211.0h0M338.2 1209.3h0M348.9 1211.1h0M360.4 1208.9h0M366.7 1210.2h0M375.0 1213.6h0M385.5 1210.5h0M248.5 1219.1h0M256.3 1217.6h0M343.4 1218.3h0M369.7 1214.9h0M379.1 1216.6h0M395.6 1214.3h0M245.1 1222.7h0M263.2 1221.5h0M318.0 1219.1h0M326.2 1223.7h0M340.5 1221.8h0M298.8 1229.8h0M308.1 1226.4h0M312.3 1227.5h0M351.0 1228.4h0M363.3 1224.9h0M368.9 1226.6h0M400.8 1228.4h0M407.7 1225.2h0M413.7 1228.4h0M251.0 1234.3h0M277.6 1232.7h0M309.1 1234.7h0M320.1 1233.8h0M347.6 1231.7h0M359.8 1233.4h0M362.9 1231.8h0M246.6 1237.6h0M252.0 1237.6h0M258.5 1237.5h0M281.0 1236.0h0M288.0 1237.7h0M299.7 1239.9h0M332.0 1237.5h0M344.3 1236.5h0M347.2 1238.0h0M355.8 1240.3h0M389.1 1240.7h0M411.3 1239.5h0M249.8 1242.7h0M258.9 1245.5h0M277.4 1243.9h0M314.6 1245.7h0M321.2 1245.8h0M327.0 1244.5h0M351.5 1242.0h0M362.7 1244.4h0M385.5 1245.5h0M387.1 1243.6h0M401.0 1245.3h0M244.1 1248.3h0M254.3 1248.7h0M276.3 1246.6h0M304.2 1247.7h0M310.4 1248.7h0M322.7 1248.1h0M351.8 1250.1h0M355.8 1248.3h0M369.6 1250.5h0M375.7 1248.3h0M407.9 1249.8h0M411.4 1250.1h0M249.6 1251.4h0M267.0 1251.9h0M276.4 1252.0h0M288.6 1254.8h0M345.1 1253.2h0M373.5 1254.8h0M249.4 1262.1h0M255.7 1258.9h0M323.9 1260.6h0M335.3 1259.0h0M342.5 1260.2h0M364.4 1258.1h0M380.2 1257.1h0M399.3 1259.1h0M247.5 1262.9h0M258.5 1267.1h0M267.9 1266.8h0M274.3 1265.4h0M280.8 1263.9h0M291.5 1263.1h0M300.5 1263.9h0M321.8 1265.9h0M331.8 1265.4h0M355.0 1264.5h0M358.3 1264.6h0M363.7 1264.6h0M381.4 1265.8h0M279.3 1269.3h0M294.4 1270.6h0M306.2 1271.9h0M320.1 1273.0h0M334.9 1270.9h0M367.0 1269.6h0M375.4 1269.6h0M379.5 1271.9h0M401.4 1270.7h0M258.6 1275.7h0M278.2 1278.4h0M303.0 1276.1h0M314.3 1276.4h0M326.0 1274.3h0M331.5 1277.4h0M348.1 1273.9h0M382.7 1275.8h0M387.7 1274.4h0M259.0 1283.5h0M283.4 1282.1h0M312.9 1283.5h0M323.6 1281.2h0M335.7 1283.3h0M397.6 1282.7h0M411.5 1278.6h0M273.2 1286.8h0M297.4 1286.9h0M323.4 1288.3h0M352.8 1285.4h0M373.4 1286.8h0M375.0 1285.4h0M393.4 1287.5h0M252.1 1290.7h0M262.0 1294.1h0M281.5 1291.3h0M318.0 1291.0h0M325.6 1292.2h0M343.4 1291.4h0M359.5 1291.1h0M377.1 1292.1h0M390.8 1289.8h0M397.1 1292.9h0M251.2 1296.6h0M278.9 1294.5h0M292.3 1298.0h0M298.8 1295.1h0M308.0 1299.5h0M313.5 1296.0h0M321.2 1296.7h0M328.6 1298.3h0M365.9 1296.4h0M382.9 1296.1h0" stroke="#7A3E8E" stroke-width="2.95" stroke-linecap="round" opacity="0.5"/>
<path d="M295.4 1207.7h0M299.8 1264.3h0M245.2 1267.2h0M301.7 1156.0h0M313.3 1293.7h0M388.6 1246.0h0M404.5 1173.2h0M388.3 1273.6h0M259.5 1283.2h0M392.1 1171.3h0M338.4 1294.6h0M374.1 1181.0h0M264.5 1247.3h0M252.2 1226.6h0M247.2 1158.2h0M281.9 1235.6h0M281.8 1212.3h0" stroke="#4A2060" stroke-width="1.68" stroke-linecap="round" opacity="0.5"/>
<path d="M343.6 1176.9h0M376.9 1166.8h0M284.4 1252.7h0M342.2 1203.1h0M245.5 1151.4h0M317.0 1188.1h0M366.0 1252.9h0M244.1 1162.4h0M288.1 1166.5h0M249.1 1187.0h0M378.8 1280.5h0M340.9 1193.8h0M243.7 1185.6h0M388.1 1243.9h0M330.9 1161.8h0" stroke="#4A2060" stroke-width="1.94" stroke-linecap="round" opacity="0.5"/>
<path d="M263.0 1243.2h0M395.0 1203.0h0M377.5 1279.0h0M325.8 1177.8h0M309.6 1219.5h0M376.4 1298.7h0M261.7 1167.1h0M346.4 1187.3h0M251.8 1276.9h0M331.3 1154.3h0M351.3 1250.5h0M407.6 1297.9h0M321.8 1210.7h0M244.5 1176.5h0M355.5 1272.8h0M356.3 1195.3h0M251.8 1233.4h0M271.6 1272.0h0" stroke="#4A2060" stroke-width="2.21" stroke-linecap="round" opacity="0.5"/>
</g>
<clipPath id="cr2"><rect x="413.2" y="1154.9" width="158.8" height="137.2"/></clipPath>
<g clip-path="url(#cr2)">
<rect x="413.2" y="1154.9" width="158.8" height="137.2" fill="#CB78B6"/>
<rect x="413.2" y="1154.9" width="158.8" height="137.2" fill="#fff" filter="url(#motw)" opacity="0.5"/>
<path d="M511.0 1178.2h0M433.5 1266.1h0M511.8 1241.4h0M522.4 1224.9h0M549.5 1276.0h0M489.4 1186.4h0M475.0 1175.5h0M437.1 1212.2h0M528.9 1211.8h0M443.1 1195.7h0M440.2 1263.3h0M448.0 1244.0h0M564.0 1174.4h0M558.4 1217.1h0M435.2 1156.1h0M533.6 1258.4h0M556.6 1275.4h0M523.4 1169.3h0M423.9 1179.2h0M467.0 1219.7h0M488.1 1271.2h0M464.4 1265.2h0M426.7 1272.9h0M440.8 1184.9h0M506.1 1178.3h0M496.3 1200.7h0M476.9 1248.1h0M537.9 1166.3h0M544.2 1224.9h0M516.2 1277.9h0M469.7 1176.6h0M529.8 1289.3h0M472.0 1288.2h0M534.3 1212.2h0M510.4 1237.4h0M531.7 1199.3h0M495.0 1179.0h0M491.2 1245.4h0M459.1 1270.1h0M432.6 1168.9h0M489.6 1257.2h0M540.0 1232.2h0M562.7 1183.9h0M528.3 1165.9h0M551.7 1184.0h0M480.4 1171.1h0M476.4 1278.4h0M503.4 1257.3h0M536.0 1226.9h0M453.1 1191.9h0M570.9 1193.1h0M517.7 1288.8h0M449.9 1235.1h0M486.2 1233.5h0M476.2 1292.1h0M537.3 1281.5h0M472.7 1170.1h0M460.6 1253.2h0M567.2 1180.5h0M553.8 1157.7h0M435.4 1231.7h0M417.5 1222.6h0M509.2 1174.9h0M502.9 1233.2h0M456.4 1171.3h0M564.4 1231.9h0M516.3 1232.6h0M434.5 1228.9h0M430.6 1201.8h0M433.7 1213.0h0M484.2 1260.7h0M552.5 1201.6h0M473.9 1176.5h0M448.1 1247.5h0M492.2 1168.1h0M509.6 1280.4h0M456.8 1251.6h0M426.4 1285.7h0M545.7 1176.3h0M543.7 1180.1h0M525.6 1254.0h0M519.9 1226.6h0M489.4 1161.8h0M493.3 1272.2h0M531.9 1284.8h0M450.6 1274.0h0M494.6 1270.3h0M505.1 1181.5h0M521.7 1262.2h0M551.2 1234.9h0M518.7 1201.7h0M455.3 1158.9h0M521.0 1212.9h0M464.0 1232.3h0M416.9 1286.5h0M544.1 1278.6h0M533.2 1287.6h0M507.7 1265.5h0M466.4 1209.8h0M526.2 1156.9h0M490.9 1238.9h0M510.8 1250.7h0M469.0 1207.6h0M482.6 1172.5h0M551.3 1247.0h0M560.1 1178.7h0M527.5 1239.3h0M515.4 1162.6h0M540.7 1288.2h0M454.2 1238.7h0M493.9 1199.1h0M421.4 1206.6h0M533.6 1192.3h0M489.4 1261.8h0M520.4 1274.5h0M555.9 1279.4h0M415.9 1184.1h0M504.1 1168.6h0M548.6 1210.2h0M493.1 1215.1h0M461.2 1194.2h0M489.8 1264.6h0M568.7 1214.5h0M466.9 1237.9h0M523.3 1272.8h0M484.0 1176.0h0M542.9 1225.6h0M454.4 1223.6h0M467.1 1203.1h0M469.5 1260.5h0M416.6 1161.6h0M425.9 1200.1h0M557.4 1243.8h0M530.6 1186.9h0M416.5 1169.5h0M437.5 1158.1h0M431.0 1234.5h0M561.2 1192.7h0M420.0 1261.5h0M518.8 1250.7h0M515.2 1221.9h0M445.2 1224.9h0M556.6 1258.3h0M557.2 1255.1h0M435.6 1211.1h0M550.6 1175.1h0M541.9 1237.2h0M552.8 1281.1h0M413.8 1285.1h0M526.6 1271.7h0M420.4 1158.9h0M561.6 1169.2h0M531.2 1217.4h0M471.1 1220.5h0M555.6 1225.7h0M551.9 1176.3h0M552.9 1277.8h0M461.1 1247.7h0M495.1 1179.2h0M426.7 1233.2h0M481.8 1210.2h0M422.5 1251.9h0M485.2 1269.9h0M524.4 1158.0h0M492.3 1174.6h0M500.6 1258.3h0M420.9 1282.6h0M508.3 1275.4h0M531.4 1253.3h0M552.9 1263.3h0M447.2 1279.1h0M419.5 1173.1h0M570.7 1284.9h0M462.5 1202.6h0M439.4 1223.6h0M499.9 1225.2h0M528.0 1219.9h0M501.7 1206.2h0M444.7 1163.0h0M497.4 1232.7h0M453.3 1237.5h0M510.8 1188.9h0M422.6 1198.9h0M469.2 1271.0h0M522.9 1227.9h0M415.2 1165.2h0M413.8 1277.0h0M439.9 1246.2h0M497.1 1179.2h0M429.2 1206.9h0M467.9 1265.5h0M448.7 1181.6h0M515.7 1201.9h0M473.0 1261.0h0M464.6 1184.0h0M557.8 1255.1h0M527.7 1200.3h0M566.9 1166.4h0M512.4 1191.6h0M473.3 1289.7h0M514.5 1261.9h0M460.6 1167.9h0M421.3 1183.0h0M460.2 1175.9h0M507.1 1282.8h0M455.9 1270.5h0M428.7 1234.5h0M545.0 1171.7h0" stroke="#F4EAF2" stroke-width="0.88" stroke-linecap="round" opacity="0.55"/>
<path d="M503.1 1160.8h0M511.6 1226.2h0M448.5 1227.7h0M513.5 1214.3h0M483.2 1246.6h0M563.7 1216.2h0M551.1 1248.7h0M531.2 1237.3h0M453.7 1248.8h0M448.3 1211.8h0M546.2 1287.6h0M508.8 1221.0h0M457.8 1231.2h0M508.2 1219.5h0M566.3 1187.8h0M445.8 1169.9h0M571.2 1269.2h0M483.2 1216.5h0M542.3 1288.4h0M559.5 1253.5h0M542.3 1156.3h0M482.4 1193.7h0M471.4 1272.5h0M528.2 1181.2h0M564.7 1200.5h0M458.2 1236.6h0M557.1 1270.7h0M499.6 1205.4h0M474.9 1167.7h0M467.8 1265.6h0M465.4 1176.0h0M441.8 1291.1h0M536.9 1220.4h0M552.5 1286.6h0M468.6 1239.6h0M430.1 1281.5h0M466.9 1230.2h0M548.0 1290.7h0M432.8 1257.8h0M433.0 1271.8h0M554.5 1240.0h0M434.9 1158.0h0M507.2 1273.7h0M490.7 1267.4h0M496.7 1245.2h0M442.6 1207.4h0M536.2 1185.2h0M570.9 1255.8h0M499.5 1214.9h0M552.9 1266.1h0M478.2 1214.1h0M448.0 1267.6h0M514.2 1224.9h0M490.9 1177.2h0M492.5 1216.4h0M504.0 1220.7h0M561.8 1201.9h0M570.8 1256.7h0M468.0 1203.7h0M470.2 1265.8h0M546.7 1216.0h0M475.9 1242.2h0M478.7 1164.7h0M531.6 1259.7h0M509.0 1229.3h0M509.4 1185.7h0M550.7 1176.3h0M494.6 1219.5h0M425.4 1160.1h0M455.2 1248.8h0M450.4 1161.1h0M435.2 1169.4h0M442.9 1169.1h0M501.3 1222.9h0M456.5 1261.2h0M421.5 1249.3h0M490.5 1283.3h0M561.2 1250.5h0M548.3 1179.0h0M570.7 1230.4h0M470.0 1222.3h0M510.6 1180.3h0M468.1 1157.4h0M550.7 1242.9h0M440.3 1178.1h0M537.3 1208.3h0M523.6 1203.9h0M449.3 1244.1h0M560.9 1244.8h0M414.9 1213.7h0M543.3 1168.5h0M481.3 1160.9h0M503.1 1159.0h0M434.2 1207.5h0M473.6 1166.4h0M494.2 1232.2h0M498.6 1259.6h0M433.8 1201.6h0M467.5 1290.4h0M466.3 1275.0h0M546.0 1287.3h0M537.8 1169.2h0M536.2 1213.6h0M467.1 1180.6h0M534.3 1233.5h0M548.8 1172.0h0M414.7 1172.3h0M425.2 1163.6h0M436.3 1249.6h0M534.7 1163.0h0M460.0 1262.1h0M560.4 1174.0h0M554.0 1196.4h0M508.5 1288.6h0M444.5 1269.9h0M520.2 1246.8h0M428.9 1168.5h0M478.8 1169.4h0M414.6 1219.8h0M566.9 1237.0h0M500.8 1264.6h0M517.5 1216.2h0M485.0 1288.6h0M420.1 1266.4h0M549.7 1183.8h0M475.8 1272.1h0M517.2 1245.5h0M530.0 1257.3h0M561.4 1280.4h0M442.1 1159.3h0M426.0 1245.9h0M503.5 1247.9h0M509.0 1172.4h0M461.7 1202.5h0M462.2 1203.8h0M419.9 1262.4h0M492.2 1277.8h0M483.0 1208.7h0M465.4 1176.2h0M559.1 1203.4h0M559.4 1289.5h0M470.8 1222.0h0M485.3 1283.2h0M482.6 1256.4h0M516.1 1194.5h0M506.5 1229.1h0M430.1 1277.5h0M520.8 1287.2h0M528.6 1223.1h0M509.1 1275.3h0M436.6 1163.5h0M546.8 1274.0h0M555.7 1214.7h0M505.1 1264.4h0M431.6 1239.0h0M481.8 1231.7h0M422.2 1231.4h0M506.6 1218.8h0M509.8 1198.5h0M552.4 1177.0h0M504.9 1289.1h0M414.3 1289.0h0M550.3 1245.0h0M508.3 1236.7h0M470.7 1184.0h0M527.0 1177.6h0M560.2 1257.4h0M517.0 1231.8h0M483.7 1168.7h0M476.9 1280.7h0M508.8 1161.0h0M421.9 1251.9h0M497.2 1234.3h0M473.9 1171.5h0M559.5 1215.2h0M476.4 1195.8h0M552.7 1273.4h0M440.0 1214.9h0M480.0 1250.5h0M462.6 1205.7h0M496.3 1248.4h0M488.4 1198.6h0M448.1 1194.5h0M567.8 1245.5h0M486.0 1255.7h0M417.3 1273.0h0M538.1 1249.0h0M449.8 1280.0h0M517.9 1235.1h0M547.6 1264.6h0M439.3 1164.9h0M512.4 1204.0h0M482.3 1172.0h0M455.3 1249.3h0M442.9 1222.5h0M471.1 1279.5h0M528.8 1171.0h0M518.1 1275.2h0M465.5 1254.0h0M541.7 1197.0h0M536.5 1159.3h0M547.0 1166.6h0M427.5 1283.2h0" stroke="#F4EAF2" stroke-width="1.19" stroke-linecap="round" opacity="0.55"/>
<path d="M509.7 1207.6h0M530.0 1206.6h0M510.0 1215.5h0M452.3 1167.5h0M481.7 1209.6h0M439.7 1183.4h0M544.2 1242.6h0M512.1 1228.1h0M497.0 1209.6h0M563.1 1178.5h0M447.0 1216.3h0M445.2 1218.7h0M545.0 1218.3h0M515.2 1186.0h0M487.7 1155.9h0M559.6 1251.6h0M514.5 1220.0h0M456.7 1261.7h0M550.9 1163.2h0M564.9 1201.7h0M490.1 1285.7h0M418.1 1224.4h0M565.5 1230.8h0M516.2 1183.3h0M449.4 1276.2h0M467.1 1221.7h0M427.3 1162.4h0M571.0 1157.4h0M497.2 1288.2h0M542.5 1248.4h0M547.4 1241.8h0M554.8 1191.2h0M561.0 1183.3h0M543.6 1267.2h0M568.6 1288.3h0M530.3 1195.3h0M437.8 1156.8h0M419.4 1223.4h0M531.0 1202.5h0M465.0 1275.6h0M532.1 1237.4h0M563.7 1182.0h0M545.6 1226.4h0M507.7 1176.9h0M440.0 1279.1h0M444.2 1182.5h0M485.7 1206.3h0M466.5 1172.8h0M475.2 1169.0h0M465.5 1256.7h0M550.4 1232.4h0M555.0 1282.1h0M523.5 1250.4h0M545.0 1170.6h0M562.6 1289.1h0M504.0 1276.9h0M556.8 1218.4h0M479.2 1263.7h0M443.4 1220.9h0M558.3 1167.8h0M460.4 1222.5h0M510.6 1245.4h0M527.1 1179.1h0M452.9 1180.1h0M517.5 1178.5h0M516.7 1241.1h0M571.7 1189.4h0M515.8 1158.6h0M476.6 1247.2h0M419.9 1164.9h0M504.7 1199.2h0M524.2 1216.5h0M562.0 1274.6h0M496.2 1217.0h0M508.7 1241.2h0M473.1 1204.7h0M503.8 1275.2h0M469.4 1208.4h0M542.2 1181.8h0M482.4 1280.9h0M511.0 1265.0h0M415.0 1240.0h0M427.7 1208.1h0M456.1 1275.1h0M452.2 1234.6h0M414.0 1259.6h0M488.4 1184.2h0M481.5 1270.5h0M544.4 1285.6h0M422.8 1206.9h0M419.5 1220.6h0M439.4 1160.4h0M530.9 1246.9h0M529.9 1215.5h0M560.9 1284.6h0M538.7 1287.7h0M513.3 1212.5h0M568.0 1167.8h0M534.7 1276.7h0M429.6 1254.0h0M559.8 1163.2h0M562.2 1165.5h0M546.4 1172.0h0M463.3 1207.1h0M561.9 1229.5h0M566.2 1206.0h0M533.8 1215.2h0M427.2 1195.6h0M416.7 1265.1h0M525.5 1286.6h0M431.4 1218.3h0M507.3 1159.1h0M508.8 1239.2h0M546.3 1223.2h0M514.9 1264.6h0M553.7 1171.9h0M429.5 1200.1h0M479.9 1232.2h0M494.7 1164.1h0M534.7 1288.7h0M565.6 1182.8h0M500.7 1186.6h0M536.5 1234.3h0M540.2 1207.6h0M493.3 1189.0h0M512.4 1168.3h0M553.4 1204.3h0M513.8 1168.9h0M429.0 1156.5h0M540.5 1268.2h0M457.4 1227.2h0M428.0 1288.6h0M543.7 1246.5h0M519.0 1274.3h0M438.2 1244.5h0M457.1 1159.6h0M558.3 1223.5h0M488.8 1259.3h0M492.4 1250.1h0M473.8 1156.1h0M526.5 1159.1h0M444.6 1231.9h0M423.2 1288.4h0M480.2 1227.6h0M529.3 1163.8h0M502.1 1223.7h0M477.6 1274.0h0M506.8 1282.2h0M416.9 1265.8h0M524.1 1289.0h0M440.4 1248.9h0M521.7 1186.0h0M438.5 1220.5h0M430.9 1221.6h0M418.8 1157.4h0M524.8 1181.5h0M541.5 1194.3h0M566.3 1289.7h0M542.0 1283.6h0M495.3 1284.9h0M563.0 1249.3h0M547.3 1218.4h0M487.9 1244.3h0M465.4 1207.4h0M441.9 1225.3h0M557.4 1282.3h0M526.3 1286.6h0M552.3 1284.6h0M419.1 1241.7h0M466.7 1290.3h0M417.7 1245.8h0M525.4 1232.9h0M468.4 1190.5h0M532.5 1191.1h0M531.1 1209.8h0M508.4 1259.7h0M559.9 1289.8h0M453.7 1156.9h0M507.5 1281.4h0M566.8 1186.7h0M565.9 1240.5h0M452.8 1282.7h0M487.1 1259.9h0M458.0 1229.5h0M476.6 1204.0h0M513.4 1161.0h0M468.5 1184.8h0M499.5 1278.3h0M547.2 1157.8h0M475.1 1219.7h0M458.3 1246.6h0M443.8 1158.9h0M490.9 1255.6h0M451.4 1224.5h0M549.2 1244.9h0M423.0 1278.7h0M527.8 1194.3h0M420.7 1289.2h0M531.8 1171.8h0M541.6 1154.9h0M543.1 1274.5h0M424.2 1214.1h0M470.5 1158.5h0M486.2 1198.3h0M552.6 1219.7h0M492.6 1262.4h0M541.0 1241.8h0M563.2 1197.8h0M512.8 1226.5h0M548.8 1281.9h0M532.0 1194.7h0M548.5 1265.8h0M496.4 1225.6h0M477.7 1196.6h0M468.1 1209.1h0M568.8 1256.2h0M413.4 1181.2h0M441.3 1207.8h0M509.9 1222.0h0M490.4 1267.6h0M509.0 1215.8h0M528.6 1284.0h0M418.9 1176.7h0M535.9 1179.8h0M566.1 1210.6h0M568.4 1281.3h0M414.2 1197.9h0M557.0 1206.5h0M467.7 1168.7h0M449.9 1217.6h0M457.3 1186.5h0M439.7 1201.9h0M459.3 1222.0h0M569.0 1155.4h0M557.6 1173.5h0M514.1 1227.7h0M417.6 1247.5h0M530.2 1252.6h0M498.7 1173.1h0" stroke="#F4EAF2" stroke-width="1.53" stroke-linecap="round" opacity="0.55"/>
<path d="M414.6 1152.1h0M425.1 1151.8h0M440.9 1150.9h0M455.4 1151.2h0M463.3 1148.7h0M483.3 1149.8h0M487.3 1153.4h0M543.3 1153.1h0M548.0 1149.7h0M427.4 1158.1h0M445.5 1154.5h0M463.5 1154.6h0M470.4 1156.2h0M512.5 1157.0h0M526.7 1155.4h0M551.5 1158.6h0M556.3 1160.2h0M576.8 1157.9h0M417.3 1161.6h0M455.1 1165.8h0M460.5 1161.5h0M468.1 1165.9h0M509.9 1164.5h0M515.0 1162.3h0M520.6 1165.1h0M531.2 1161.2h0M538.0 1162.1h0M574.8 1160.7h0M410.6 1168.8h0M432.1 1168.8h0M446.2 1166.4h0M453.7 1167.3h0M474.4 1166.5h0M476.9 1171.2h0M494.9 1171.6h0M515.1 1167.8h0M516.8 1169.2h0M543.0 1170.5h0M550.4 1169.2h0M557.9 1169.1h0M577.1 1171.1h0M418.3 1173.3h0M455.4 1176.4h0M461.1 1174.5h0M468.0 1175.0h0M476.9 1176.3h0M483.0 1176.6h0M494.6 1177.3h0M509.8 1173.2h0M521.0 1174.2h0M529.4 1175.7h0M416.0 1181.7h0M427.2 1182.1h0M431.0 1182.4h0M458.8 1180.7h0M463.6 1179.1h0M474.3 1180.7h0M492.5 1180.6h0M558.7 1178.5h0M567.2 1181.7h0M417.0 1188.5h0M442.9 1186.3h0M457.7 1184.4h0M467.3 1187.7h0M478.4 1187.5h0M481.8 1183.4h0M506.1 1188.0h0M542.2 1185.3h0M547.9 1185.9h0M556.8 1183.4h0M565.8 1185.5h0M441.5 1194.2h0M459.7 1193.3h0M472.1 1192.4h0M477.6 1192.1h0M484.8 1194.5h0M543.1 1192.3h0M565.8 1190.0h0M573.7 1192.2h0M427.5 1196.0h0M435.6 1197.5h0M447.5 1196.3h0M473.2 1195.0h0M504.1 1196.0h0M525.0 1194.8h0M419.2 1203.0h0M425.1 1201.8h0M440.2 1205.5h0M445.3 1201.0h0M479.6 1202.3h0M490.7 1200.6h0M509.8 1204.2h0M527.0 1202.0h0M531.6 1201.2h0M546.6 1202.1h0M561.1 1202.2h0M580.4 1201.7h0M410.8 1209.3h0M419.2 1208.9h0M449.3 1209.0h0M464.9 1207.3h0M488.5 1208.1h0M498.4 1211.2h0M507.2 1209.6h0M534.0 1206.7h0M554.7 1210.4h0M560.0 1209.6h0M576.6 1208.2h0M434.3 1214.0h0M447.1 1211.9h0M454.2 1214.8h0M493.6 1214.5h0M507.4 1215.2h0M552.5 1217.5h0M410.4 1219.2h0M416.2 1219.9h0M443.4 1218.4h0M466.3 1220.5h0M488.8 1223.0h0M504.0 1220.3h0M513.0 1221.0h0M530.9 1219.8h0M538.0 1221.9h0M576.8 1220.4h0M412.4 1229.1h0M435.2 1225.2h0M439.7 1227.9h0M452.3 1226.3h0M462.3 1227.8h0M471.3 1225.1h0M487.7 1228.7h0M498.1 1224.2h0M513.3 1224.2h0M557.1 1223.6h0M567.4 1223.8h0M409.0 1229.2h0M418.3 1232.6h0M432.5 1231.2h0M440.0 1231.4h0M456.4 1230.2h0M471.2 1231.7h0M484.4 1233.3h0M529.2 1229.9h0M532.7 1233.5h0M543.7 1230.7h0M554.0 1231.1h0M415.2 1234.9h0M420.6 1237.7h0M452.3 1236.3h0M480.9 1239.4h0M503.7 1237.1h0M512.7 1237.4h0M516.3 1238.8h0M558.8 1236.8h0M580.6 1238.3h0M421.3 1245.1h0M436.5 1243.3h0M456.4 1245.3h0M496.0 1245.1h0M523.8 1243.4h0M530.1 1242.4h0M537.6 1241.6h0M563.8 1244.5h0M566.9 1242.8h0M573.2 1245.0h0M433.8 1248.3h0M446.6 1249.1h0M482.1 1246.9h0M486.4 1247.6h0M491.1 1249.0h0M544.9 1251.1h0M553.2 1249.8h0M566.6 1246.8h0M573.8 1250.4h0M576.1 1246.7h0M431.9 1257.1h0M477.9 1255.4h0M488.0 1254.3h0M509.8 1252.2h0M539.1 1254.5h0M554.2 1253.8h0M559.6 1254.6h0M566.7 1253.5h0M427.6 1261.1h0M456.7 1258.7h0M484.6 1257.9h0M496.1 1259.5h0M525.8 1259.8h0M532.8 1262.6h0M445.5 1264.3h0M474.6 1264.2h0M489.7 1267.5h0M505.1 1266.9h0M516.6 1267.7h0M521.1 1264.5h0M533.2 1263.5h0M539.4 1268.9h0M567.0 1268.6h0M418.1 1273.6h0M428.1 1271.1h0M433.1 1272.6h0M447.8 1270.5h0M450.1 1269.5h0M459.0 1272.2h0M485.0 1272.6h0M491.2 1271.1h0M516.1 1271.4h0M525.9 1270.4h0M541.1 1272.9h0M566.5 1273.2h0M577.4 1272.7h0M430.5 1276.4h0M453.5 1279.4h0M489.6 1280.8h0M499.6 1277.7h0M521.5 1278.2h0M542.8 1280.1h0M559.0 1279.7h0M437.8 1281.5h0M445.9 1282.4h0M493.5 1283.1h0M508.1 1280.9h0M516.5 1283.7h0M527.3 1284.4h0M537.2 1283.3h0M551.4 1282.3h0M557.0 1285.9h0M572.6 1284.0h0M579.2 1286.2h0M428.8 1287.1h0M463.7 1292.0h0M471.6 1292.1h0M473.8 1287.8h0M501.6 1289.4h0M519.2 1291.5h0M532.9 1289.7h0M549.4 1290.1h0M566.3 1289.3h0M418.4 1297.2h0M442.4 1294.5h0M452.2 1294.0h0M480.9 1297.2h0M483.3 1296.1h0M520.7 1295.8h0M551.0 1292.4h0" stroke="#4E2A7C" stroke-width="2.25" stroke-linecap="round" opacity="0.68"/>
<path d="M428.0 1150.3h0M436.5 1150.0h0M447.3 1150.6h0M474.8 1152.7h0M501.9 1150.6h0M514.3 1151.2h0M558.0 1150.0h0M559.6 1153.3h0M567.4 1149.0h0M430.3 1156.2h0M440.8 1155.8h0M452.6 1160.0h0M479.6 1156.7h0M486.9 1154.4h0M501.3 1154.4h0M505.5 1156.3h0M540.4 1155.5h0M572.2 1160.2h0M410.1 1162.0h0M425.9 1164.3h0M438.6 1164.0h0M441.9 1164.2h0M477.8 1164.8h0M481.9 1165.5h0M493.4 1162.2h0M544.3 1164.9h0M569.9 1161.6h0M422.2 1169.9h0M464.7 1167.3h0M497.0 1168.7h0M502.8 1170.3h0M525.6 1168.5h0M534.5 1171.1h0M411.8 1175.9h0M423.4 1176.4h0M443.5 1174.0h0M448.4 1172.1h0M503.0 1175.4h0M539.3 1173.9h0M563.2 1172.0h0M440.2 1177.7h0M500.1 1180.3h0M504.8 1181.4h0M526.2 1177.4h0M532.5 1180.1h0M538.7 1181.6h0M547.1 1177.8h0M576.8 1181.4h0M423.5 1186.1h0M428.2 1185.1h0M435.7 1183.4h0M447.1 1187.7h0M494.5 1187.1h0M521.0 1188.8h0M562.6 1183.4h0M414.0 1190.4h0M435.0 1190.3h0M451.7 1189.3h0M465.2 1190.1h0M519.9 1189.6h0M560.4 1192.8h0M418.6 1196.2h0M425.7 1196.6h0M464.8 1196.3h0M466.5 1196.1h0M481.9 1197.6h0M507.0 1196.5h0M561.8 1198.5h0M577.6 1198.8h0M431.8 1200.8h0M460.0 1200.6h0M466.1 1202.8h0M472.2 1203.1h0M506.7 1203.8h0M553.2 1200.7h0M437.8 1210.8h0M458.3 1208.3h0M474.2 1208.2h0M481.4 1208.1h0M499.9 1211.7h0M523.5 1207.1h0M540.9 1207.6h0M550.8 1210.3h0M565.4 1210.8h0M413.4 1212.7h0M419.6 1216.7h0M424.4 1215.8h0M483.0 1212.7h0M498.8 1215.4h0M510.2 1213.4h0M540.3 1217.1h0M558.9 1214.8h0M571.2 1213.9h0M576.0 1213.5h0M420.5 1220.5h0M438.7 1219.9h0M458.5 1222.6h0M474.0 1218.1h0M495.9 1219.0h0M524.2 1219.4h0M555.9 1221.2h0M562.6 1218.0h0M419.1 1223.8h0M427.6 1227.6h0M446.3 1226.1h0M492.1 1225.2h0M507.5 1223.4h0M541.0 1227.0h0M553.3 1227.9h0M579.3 1223.5h0M425.0 1230.5h0M435.8 1231.8h0M462.5 1232.0h0M476.6 1232.5h0M489.2 1231.2h0M502.0 1231.4h0M523.3 1234.2h0M563.2 1233.2h0M570.5 1229.4h0M577.3 1233.4h0M424.5 1238.9h0M431.0 1237.1h0M440.9 1236.1h0M468.5 1237.6h0M469.9 1236.4h0M544.3 1238.6h0M573.1 1237.8h0M409.5 1245.1h0M414.1 1243.6h0M428.4 1242.0h0M442.9 1246.1h0M511.5 1245.7h0M543.3 1244.7h0M557.5 1244.0h0M412.6 1246.7h0M440.7 1250.8h0M474.8 1248.7h0M500.3 1246.5h0M505.9 1247.3h0M518.9 1251.5h0M529.3 1247.1h0M559.1 1249.7h0M423.7 1255.3h0M450.4 1255.5h0M463.2 1253.4h0M481.7 1253.7h0M496.4 1254.9h0M504.3 1257.8h0M518.0 1253.5h0M522.4 1257.7h0M528.5 1257.1h0M533.5 1254.1h0M414.2 1258.0h0M417.6 1260.3h0M431.9 1259.4h0M445.0 1262.5h0M455.0 1260.5h0M495.3 1261.9h0M509.5 1262.0h0M516.0 1260.0h0M535.8 1262.5h0M546.6 1261.9h0M551.8 1262.9h0M409.5 1267.0h0M418.1 1268.5h0M431.8 1266.6h0M457.0 1264.1h0M484.4 1264.6h0M509.9 1268.4h0M545.7 1265.5h0M555.7 1264.6h0M415.6 1272.5h0M499.7 1274.8h0M554.1 1269.3h0M573.5 1270.1h0M409.2 1279.5h0M413.9 1277.4h0M435.0 1276.1h0M448.2 1278.5h0M466.7 1275.3h0M477.8 1280.4h0M493.5 1278.5h0M530.6 1275.8h0M533.1 1279.9h0M568.3 1279.5h0M453.4 1282.4h0M461.3 1280.9h0M465.6 1285.9h0M477.8 1284.5h0M486.0 1281.5h0M514.0 1283.4h0M531.5 1286.2h0M409.5 1287.3h0M424.6 1288.4h0M433.6 1288.4h0M450.5 1290.1h0M481.2 1288.8h0M542.1 1288.8h0M427.7 1294.0h0M435.1 1292.5h0M461.0 1294.7h0M466.2 1294.3h0M473.2 1292.5h0M506.0 1297.0h0M510.8 1296.5h0M524.5 1296.2h0M541.3 1294.4h0M556.4 1296.6h0M570.9 1294.0h0" stroke="#4E2A7C" stroke-width="2.59" stroke-linecap="round" opacity="0.68"/>
<path d="M412.1 1150.7h0M470.4 1148.7h0M496.3 1149.4h0M510.5 1153.4h0M519.1 1153.3h0M527.0 1150.6h0M533.1 1150.6h0M573.8 1153.5h0M416.2 1159.3h0M422.2 1160.1h0M458.8 1159.5h0M491.2 1156.7h0M516.6 1155.3h0M532.7 1156.1h0M546.3 1157.1h0M567.4 1157.3h0M427.8 1164.4h0M447.0 1162.2h0M488.3 1161.7h0M499.8 1165.3h0M549.5 1160.5h0M554.2 1164.2h0M562.4 1165.1h0M428.5 1170.9h0M439.9 1169.2h0M462.2 1168.8h0M487.9 1171.2h0M539.6 1168.1h0M565.3 1167.3h0M573.4 1167.2h0M430.3 1172.7h0M438.9 1172.6h0M487.4 1177.0h0M518.3 1176.6h0M534.4 1176.7h0M550.9 1176.8h0M552.7 1177.1h0M568.6 1172.1h0M577.6 1172.3h0M419.5 1182.3h0M446.9 1181.5h0M455.8 1178.2h0M480.0 1180.5h0M487.6 1177.6h0M514.4 1179.8h0M517.6 1180.0h0M549.6 1179.7h0M574.3 1178.7h0M410.3 1187.6h0M459.8 1188.9h0M489.7 1187.2h0M503.5 1183.3h0M518.0 1186.3h0M528.9 1184.8h0M537.4 1189.0h0M576.6 1185.1h0M416.9 1192.4h0M424.2 1194.2h0M446.0 1193.0h0M494.4 1193.6h0M500.6 1192.4h0M504.5 1194.5h0M514.3 1193.2h0M524.9 1190.7h0M533.7 1191.6h0M537.2 1189.6h0M549.2 1194.4h0M578.7 1190.9h0M409.6 1194.6h0M442.7 1195.8h0M454.6 1195.8h0M491.5 1195.6h0M494.5 1198.9h0M516.9 1197.6h0M531.6 1197.8h0M534.1 1200.3h0M541.1 1195.7h0M546.0 1194.6h0M555.5 1200.1h0M566.7 1194.6h0M414.8 1202.9h0M452.1 1206.1h0M485.1 1203.8h0M498.0 1204.8h0M521.3 1203.7h0M536.1 1202.6h0M567.1 1203.6h0M571.9 1202.7h0M426.0 1208.2h0M432.5 1210.1h0M441.0 1211.9h0M468.1 1209.0h0M517.6 1210.6h0M529.8 1207.7h0M442.0 1214.7h0M457.6 1215.7h0M463.7 1213.1h0M472.1 1213.4h0M481.2 1212.0h0M519.2 1214.9h0M526.3 1212.6h0M530.0 1215.5h0M546.4 1213.1h0M566.6 1214.7h0M430.4 1220.4h0M450.9 1218.3h0M464.0 1221.1h0M479.9 1220.9h0M509.0 1218.6h0M541.0 1219.7h0M550.5 1220.9h0M570.7 1222.5h0M465.5 1227.0h0M481.9 1226.7h0M518.1 1224.8h0M527.5 1224.6h0M530.4 1224.8h0M543.7 1229.1h0M573.1 1228.6h0M449.0 1233.6h0M494.1 1233.3h0M507.6 1232.8h0M512.9 1232.5h0M546.3 1229.6h0M444.8 1237.4h0M458.2 1239.7h0M483.4 1236.7h0M493.8 1238.7h0M498.0 1236.4h0M525.9 1235.5h0M534.8 1237.8h0M540.1 1239.4h0M553.9 1235.6h0M563.4 1235.3h0M450.1 1240.9h0M461.0 1244.3h0M470.8 1243.2h0M478.4 1243.5h0M481.0 1241.6h0M490.7 1246.2h0M499.9 1246.3h0M516.6 1242.8h0M547.0 1246.1h0M419.4 1247.4h0M426.8 1252.1h0M454.5 1246.6h0M460.2 1249.5h0M465.4 1250.9h0M511.0 1246.3h0M526.0 1250.3h0M536.1 1251.5h0M408.6 1252.0h0M417.0 1252.3h0M436.0 1252.4h0M445.6 1253.9h0M455.6 1252.5h0M470.6 1257.6h0M548.7 1257.1h0M575.0 1255.6h0M438.3 1261.8h0M467.7 1257.8h0M474.4 1262.9h0M478.2 1258.9h0M503.7 1258.8h0M557.8 1261.8h0M563.3 1261.8h0M570.1 1259.7h0M576.7 1260.0h0M422.0 1267.1h0M437.6 1267.7h0M450.9 1264.7h0M459.8 1269.3h0M471.1 1265.9h0M494.4 1265.8h0M529.4 1267.3h0M560.5 1265.3h0M573.9 1265.6h0M440.7 1275.1h0M467.9 1273.7h0M474.2 1274.9h0M479.8 1270.1h0M506.3 1269.9h0M513.5 1275.0h0M530.5 1272.0h0M546.8 1272.4h0M560.2 1272.2h0M425.8 1278.5h0M443.7 1277.8h0M464.9 1278.5h0M485.3 1275.3h0M507.5 1279.1h0M516.9 1279.5h0M547.9 1278.9h0M557.2 1275.3h0M576.5 1279.6h0M415.4 1282.8h0M419.6 1285.4h0M424.3 1283.2h0M435.1 1282.2h0M471.3 1284.3h0M500.7 1282.9h0M544.4 1281.7h0M566.8 1284.9h0M414.2 1289.2h0M444.9 1289.6h0M455.4 1290.8h0M488.2 1289.0h0M492.8 1288.5h0M507.0 1287.7h0M516.1 1287.5h0M531.4 1287.8h0M554.8 1287.0h0M561.6 1288.4h0M573.9 1290.9h0M412.9 1294.0h0M446.1 1297.5h0M495.2 1297.5h0M497.7 1294.6h0M531.8 1297.8h0M542.5 1297.4h0M562.5 1293.8h0M576.3 1297.7h0" stroke="#4E2A7C" stroke-width="2.94" stroke-linecap="round" opacity="0.68"/>
<path d="M435.4 1292.1h0M431.8 1210.3h0M546.8 1261.8h0M481.5 1253.6h0M576.4 1157.8h0M561.4 1191.9h0M454.6 1175.9h0M431.4 1219.8h0M463.2 1254.2h0M415.1 1202.7h0M432.9 1168.6h0M556.6 1160.4h0M551.2 1263.3h0M576.7 1298.7h0M434.5 1276.7h0" stroke="#3A1A5A" stroke-width="1.70" stroke-linecap="round" opacity="0.6"/>
<path d="M502.3 1170.2h0M506.5 1156.0h0M577.3 1172.8h0M553.0 1177.2h0M547.5 1185.8h0M533.2 1179.9h0M545.8 1252.1h0" stroke="#3A1A5A" stroke-width="1.95" stroke-linecap="round" opacity="0.6"/>
<path d="M425.6 1164.7h0M423.9 1185.4h0M463.0 1148.9h0M491.2 1271.3h0M564.3 1261.9h0M477.0 1281.3h0M416.1 1272.6h0M482.1 1212.3h0M557.2 1223.8h0M454.5 1165.9h0M464.1 1155.1h0M485.5 1281.0h0M458.6 1158.6h0M529.6 1216.1h0M499.7 1281.9h0M507.1 1288.6h0M460.3 1189.2h0M571.7 1213.6h0" stroke="#3A1A5A" stroke-width="2.15" stroke-linecap="round" opacity="0.6"/>
</g>
<clipPath id="cw2"><rect x="579.6" y="1154.9" width="159.2" height="137.2"/></clipPath>
<g clip-path="url(#cw2)">
<rect x="579.6" y="1154.9" width="159.2" height="137.2" fill="#DE64A4"/>
<rect x="579.6" y="1154.9" width="159.2" height="137.2" fill="#fff" filter="url(#mot)" opacity="0.1"/>
<path d="M615.0 1268.5h0M615.4 1169.6h0M662.9 1180.1h0M736.6 1276.5h0M656.3 1174.9h0M650.4 1161.0h0M637.5 1267.0h0M677.4 1274.4h0M680.1 1164.1h0M720.0 1240.9h0M647.9 1194.6h0M706.1 1212.6h0M702.9 1277.7h0M632.7 1188.1h0M581.5 1292.0h0M728.3 1227.5h0M685.7 1244.6h0M624.0 1158.0h0M631.2 1246.3h0M643.2 1170.0h0M602.2 1257.9h0M597.1 1189.5h0M652.9 1229.6h0M685.9 1182.0h0M731.8 1184.2h0M614.3 1274.0h0M617.2 1228.6h0M599.0 1198.6h0M602.3 1201.3h0M738.6 1250.4h0M663.2 1205.1h0M602.9 1264.2h0M711.8 1257.3h0M582.9 1218.8h0M674.9 1202.9h0M587.3 1216.7h0M653.4 1227.9h0M714.5 1243.1h0M651.0 1169.4h0M715.5 1206.0h0M674.5 1196.4h0M654.3 1228.9h0M609.3 1184.8h0M597.7 1158.6h0M631.6 1264.7h0M703.6 1250.5h0M623.0 1161.9h0M647.4 1275.0h0M640.5 1233.9h0M733.0 1212.4h0M599.7 1216.3h0M686.6 1197.0h0M619.0 1265.3h0M692.1 1254.6h0M700.5 1223.6h0M690.1 1254.9h0M713.4 1190.7h0M687.9 1262.5h0M594.0 1155.7h0M668.3 1163.6h0M598.2 1154.9h0M712.2 1176.7h0M662.5 1269.6h0M674.6 1272.4h0M687.1 1204.0h0M697.9 1281.0h0M693.0 1159.5h0M683.5 1223.2h0M707.4 1285.8h0M640.5 1198.9h0M601.8 1233.9h0M710.5 1262.1h0M684.7 1157.3h0M618.1 1179.0h0M602.2 1235.3h0M664.8 1161.4h0M632.0 1171.2h0M615.5 1278.8h0M622.7 1244.3h0M606.3 1177.8h0M643.0 1260.5h0M606.0 1235.0h0M602.8 1275.9h0M596.0 1278.0h0M639.3 1181.5h0M707.8 1207.6h0M601.9 1177.9h0M592.9 1169.5h0M600.8 1222.3h0M683.3 1218.7h0M611.1 1242.2h0M635.9 1194.9h0M635.7 1251.3h0M698.8 1195.5h0M668.1 1179.7h0M604.0 1268.3h0M731.0 1230.5h0M590.9 1221.1h0M726.6 1224.8h0M680.9 1244.4h0M649.1 1276.8h0M673.0 1229.5h0M709.6 1276.3h0M654.9 1186.0h0M613.0 1273.9h0M661.5 1208.2h0M660.8 1199.9h0M632.2 1266.3h0M629.2 1250.6h0M588.9 1182.4h0" stroke="#F4EAF2" stroke-width="0.85" stroke-linecap="round" opacity="0.45"/>
<path d="M599.0 1207.3h0M696.3 1254.1h0M704.8 1233.4h0M730.2 1239.7h0M619.6 1193.5h0M619.8 1168.6h0M674.6 1209.0h0M718.5 1229.5h0M678.7 1186.3h0M671.7 1243.6h0M655.6 1200.3h0M687.2 1199.9h0M643.2 1236.4h0M687.4 1273.0h0M701.8 1263.9h0M695.3 1289.3h0M689.4 1193.9h0M631.3 1203.8h0M611.1 1169.7h0M629.6 1217.1h0M685.0 1226.8h0M734.9 1242.1h0M728.9 1213.3h0M582.7 1190.8h0M725.4 1261.5h0M705.3 1244.4h0M674.1 1254.7h0M666.2 1167.0h0M710.8 1283.2h0M601.6 1158.4h0M727.1 1244.4h0M589.6 1214.4h0M680.0 1210.2h0M638.4 1234.1h0M639.4 1255.3h0M607.9 1183.7h0M718.0 1279.5h0M674.5 1158.9h0M703.5 1229.1h0M684.3 1259.9h0M595.3 1177.0h0M633.9 1288.8h0M635.2 1180.6h0M661.0 1190.0h0M588.7 1212.9h0M581.9 1275.0h0M695.3 1230.3h0M709.3 1178.7h0M602.3 1226.3h0M631.0 1234.9h0M720.0 1216.2h0M695.4 1177.4h0M608.3 1222.9h0M723.9 1286.9h0M668.4 1176.7h0M707.3 1210.7h0M595.0 1270.1h0M615.8 1262.4h0M588.0 1239.3h0M595.9 1287.7h0M678.9 1158.1h0M651.7 1176.5h0M615.3 1204.4h0M633.8 1208.2h0M629.6 1248.3h0M613.4 1280.9h0M619.1 1280.8h0M705.7 1191.8h0M590.5 1171.0h0M702.8 1174.8h0M712.3 1241.8h0M623.0 1184.0h0M676.4 1203.1h0M590.2 1265.8h0M656.4 1164.2h0M656.1 1268.3h0M582.2 1258.1h0M713.7 1170.1h0M595.6 1215.0h0M731.0 1239.5h0M580.0 1201.9h0M725.3 1274.5h0M732.9 1280.8h0M702.6 1269.2h0M701.8 1246.5h0M691.5 1202.2h0M717.3 1250.7h0M603.3 1219.3h0M676.4 1272.3h0M661.9 1257.3h0M620.0 1190.2h0M705.0 1205.2h0M657.9 1193.6h0M589.7 1251.2h0M645.0 1243.4h0M631.0 1286.5h0M659.1 1214.8h0M710.1 1208.5h0M682.6 1163.1h0M727.1 1260.7h0M650.5 1278.7h0M625.7 1240.1h0M707.8 1176.6h0M600.1 1205.3h0M735.2 1258.4h0M684.5 1279.5h0M603.9 1165.9h0M690.9 1268.4h0M706.2 1202.4h0M604.2 1232.3h0M687.3 1192.2h0M728.5 1200.0h0M583.6 1193.0h0M632.0 1235.2h0M726.3 1165.3h0M648.4 1263.2h0M666.7 1163.0h0M603.1 1288.4h0M716.4 1202.3h0M632.5 1197.7h0M659.1 1245.0h0M710.7 1257.0h0M620.8 1240.9h0M678.7 1248.0h0M621.0 1166.4h0M718.7 1184.3h0M603.0 1274.0h0M699.5 1228.3h0M716.1 1263.1h0M652.1 1254.5h0" stroke="#F4EAF2" stroke-width="1.16" stroke-linecap="round" opacity="0.45"/>
<path d="M652.2 1253.5h0M613.8 1165.6h0M718.4 1171.2h0M619.2 1205.5h0M663.7 1252.1h0M595.0 1266.4h0M593.9 1221.5h0M736.7 1232.2h0M692.4 1194.9h0M650.3 1257.7h0M714.8 1228.5h0M628.9 1281.1h0M688.2 1202.3h0M625.2 1254.3h0M630.3 1189.5h0M666.6 1274.5h0M581.1 1221.8h0M667.2 1170.3h0M704.4 1258.0h0M619.9 1188.7h0M671.9 1220.3h0M596.7 1194.3h0M653.0 1259.9h0M662.7 1285.6h0M623.2 1215.2h0M627.0 1287.3h0M691.2 1242.9h0M698.2 1287.0h0M684.4 1160.9h0M695.1 1267.2h0M673.7 1271.7h0M675.6 1191.1h0M735.9 1242.3h0M616.8 1171.1h0M697.0 1156.4h0M611.4 1187.9h0M623.4 1254.9h0M627.9 1182.1h0M673.9 1167.2h0M669.7 1196.0h0M604.1 1273.0h0M608.6 1279.9h0M707.3 1187.0h0M585.6 1250.4h0M713.9 1218.5h0M648.0 1254.8h0M643.9 1267.4h0M605.0 1235.5h0M642.8 1256.0h0M605.7 1171.9h0M660.6 1260.9h0M712.1 1169.1h0M674.8 1177.5h0M700.4 1283.2h0M677.9 1237.5h0M600.2 1226.3h0M633.7 1264.0h0M660.0 1167.3h0M616.3 1233.4h0M694.8 1164.4h0M733.4 1218.6h0M716.4 1220.0h0M723.1 1159.3h0M721.0 1173.8h0M581.2 1202.2h0M591.9 1240.4h0M639.4 1192.6h0M734.4 1225.6h0M668.5 1242.3h0M678.2 1183.8h0M586.6 1174.0h0M620.1 1275.1h0M718.6 1266.4h0M652.4 1280.1h0M698.7 1255.5h0M583.0 1262.3h0M654.9 1196.1h0M655.3 1248.5h0M736.2 1165.2h0M624.8 1173.5h0M580.0 1185.0h0M642.0 1181.8h0M598.9 1259.4h0M600.6 1279.6h0M705.9 1176.0h0M727.6 1285.7h0M672.9 1245.6h0M620.8 1186.2h0M601.4 1227.9h0M597.9 1255.2h0M694.2 1217.6h0M604.1 1157.5h0M732.4 1277.6h0M653.0 1290.7h0M687.9 1161.8h0M680.8 1209.8h0M727.6 1157.9h0M650.0 1259.2h0M697.6 1196.4h0M627.5 1188.5h0M683.5 1206.2h0M624.1 1281.6h0M607.7 1247.9h0M633.1 1238.5h0M707.6 1236.3h0M666.4 1228.9h0M580.0 1175.3h0M661.2 1242.1h0M695.6 1187.9h0M643.8 1200.6h0M716.4 1281.0h0M625.0 1244.8h0M666.0 1164.5h0M585.8 1213.0h0M721.8 1270.0h0M710.5 1169.1h0M716.3 1228.2h0M615.3 1220.6h0M712.8 1204.4h0M730.4 1221.6h0" stroke="#F4EAF2" stroke-width="1.46" stroke-linecap="round" opacity="0.45"/>
<path d="M596.5 1152.7h0M601.8 1154.0h0M624.6 1150.4h0M633.1 1151.3h0M655.6 1152.8h0M682.3 1153.0h0M687.9 1152.9h0M693.4 1154.0h0M697.4 1152.5h0M729.5 1151.9h0M588.5 1157.3h0M593.0 1159.3h0M597.7 1158.2h0M612.4 1156.2h0M653.0 1159.4h0M663.2 1155.0h0M674.8 1159.5h0M718.0 1155.4h0M644.9 1164.2h0M656.8 1162.7h0M660.2 1160.3h0M678.3 1165.6h0M698.4 1164.0h0M704.8 1162.1h0M713.6 1162.7h0M717.1 1161.7h0M736.9 1161.5h0M584.7 1168.7h0M592.7 1170.7h0M601.6 1167.5h0M705.9 1170.4h0M722.8 1169.0h0M730.8 1168.2h0M739.3 1167.9h0M589.2 1172.1h0M633.9 1172.5h0M683.1 1174.5h0M691.4 1175.9h0M704.2 1176.1h0M722.1 1171.8h0M586.6 1177.0h0M598.5 1182.3h0M612.9 1182.7h0M625.2 1179.9h0M650.7 1178.4h0M660.1 1181.5h0M678.5 1178.7h0M704.4 1182.2h0M707.9 1182.8h0M715.2 1181.8h0M721.4 1180.5h0M738.4 1178.0h0M744.8 1182.5h0M597.7 1184.2h0M616.2 1188.2h0M625.7 1185.3h0M639.6 1185.4h0M657.0 1184.5h0M659.4 1188.4h0M670.1 1185.4h0M671.9 1187.8h0M684.4 1184.3h0M695.6 1183.4h0M698.0 1184.0h0M720.9 1187.3h0M724.9 1186.2h0M739.9 1183.1h0M580.5 1193.0h0M590.8 1188.4h0M607.4 1191.5h0M615.9 1190.8h0M646.5 1189.0h0M651.1 1191.2h0M657.7 1188.8h0M670.1 1191.3h0M681.1 1191.6h0M701.5 1191.5h0M711.2 1191.6h0M727.9 1188.6h0M741.2 1190.2h0M574.0 1197.3h0M583.3 1196.3h0M643.6 1195.9h0M645.1 1196.0h0M654.5 1194.5h0M676.7 1194.1h0M702.6 1199.1h0M589.0 1201.0h0M609.3 1205.4h0M618.2 1201.1h0M644.0 1203.4h0M683.7 1200.6h0M690.2 1205.1h0M702.6 1200.1h0M707.9 1204.1h0M716.4 1200.8h0M722.8 1204.8h0M727.5 1202.6h0M744.7 1200.4h0M584.1 1209.0h0M624.0 1208.4h0M661.3 1210.1h0M704.3 1209.5h0M715.0 1209.8h0M717.1 1207.7h0M612.3 1216.5h0M626.6 1211.7h0M644.6 1213.9h0M659.5 1216.6h0M669.3 1211.9h0M687.9 1214.4h0M701.4 1215.3h0M716.9 1214.5h0M576.0 1217.5h0M603.1 1218.8h0M606.4 1218.0h0M643.4 1216.9h0M645.2 1220.4h0M669.9 1220.3h0M705.4 1219.8h0M711.6 1220.5h0M587.6 1224.2h0M607.3 1225.6h0M614.7 1222.9h0M626.3 1223.7h0M671.6 1227.8h0M679.4 1223.1h0M691.9 1227.5h0M724.9 1225.4h0M727.0 1224.7h0M739.8 1223.6h0M576.9 1232.7h0M602.5 1230.5h0M608.3 1232.2h0M631.1 1233.3h0M641.3 1233.1h0M646.7 1229.0h0M656.5 1231.0h0M674.7 1232.8h0M690.4 1228.6h0M702.5 1228.5h0M718.3 1230.8h0M726.5 1227.9h0M736.0 1230.4h0M584.4 1233.6h0M599.3 1237.4h0M605.2 1238.3h0M616.0 1235.8h0M625.9 1236.8h0M671.2 1239.2h0M682.7 1238.6h0M707.4 1234.7h0M717.4 1235.5h0M727.4 1233.9h0M740.4 1236.3h0M583.3 1241.8h0M590.6 1239.5h0M597.2 1239.2h0M607.9 1243.1h0M613.7 1244.2h0M661.6 1243.7h0M682.5 1242.0h0M686.8 1242.8h0M702.6 1244.8h0M577.1 1246.8h0M632.6 1249.4h0M666.1 1245.5h0M690.1 1248.3h0M698.1 1250.5h0M740.4 1246.8h0M599.9 1251.3h0M627.1 1250.8h0M679.9 1254.3h0M720.9 1255.7h0M723.5 1251.4h0M610.3 1260.1h0M641.9 1256.8h0M710.4 1261.2h0M714.3 1260.5h0M740.4 1257.9h0M574.7 1267.1h0M610.6 1267.2h0M656.7 1261.9h0M694.0 1265.0h0M710.8 1265.0h0M590.7 1272.2h0M612.3 1271.0h0M624.5 1268.7h0M639.9 1270.3h0M678.8 1270.6h0M688.2 1270.4h0M705.1 1271.0h0M739.7 1269.2h0M593.5 1276.7h0M604.8 1274.4h0M611.4 1274.6h0M630.6 1275.1h0M695.8 1277.4h0M702.7 1274.3h0M727.1 1275.8h0M739.0 1275.8h0M587.4 1282.0h0M606.1 1284.5h0M620.1 1283.4h0M635.7 1280.3h0M655.3 1280.1h0M674.9 1281.9h0M684.8 1282.1h0M690.0 1280.0h0M703.7 1282.2h0M710.4 1280.6h0M714.4 1281.8h0M733.9 1283.9h0M575.0 1289.4h0M584.7 1288.7h0M635.8 1289.2h0M641.7 1289.7h0M653.2 1285.3h0M662.2 1288.2h0M680.5 1289.6h0M740.4 1288.6h0M581.5 1290.4h0M587.5 1292.2h0M598.3 1292.6h0M619.2 1294.7h0M623.9 1291.7h0M652.5 1293.3h0M676.1 1291.2h0M686.0 1291.5h0" stroke="#7A3E8E" stroke-width="2.18" stroke-linecap="round" opacity="0.42"/>
<path d="M575.7 1152.1h0M580.2 1149.4h0M590.4 1153.1h0M627.5 1151.5h0M649.7 1150.0h0M726.0 1151.9h0M607.2 1159.9h0M623.4 1154.5h0M655.4 1158.4h0M668.9 1156.7h0M688.2 1158.5h0M711.4 1158.9h0M737.5 1158.5h0M578.8 1160.6h0M582.5 1161.4h0M607.5 1164.3h0M627.9 1161.3h0M632.2 1163.5h0M642.3 1163.5h0M691.8 1160.4h0M578.8 1166.5h0M610.6 1166.3h0M620.9 1165.7h0M632.8 1169.8h0M656.3 1170.8h0M691.9 1167.6h0M715.7 1168.4h0M583.6 1173.4h0M593.3 1172.1h0M608.6 1175.4h0M628.8 1175.0h0M643.4 1172.5h0M646.7 1175.7h0M657.2 1174.5h0M702.4 1172.1h0M710.6 1174.9h0M723.5 1176.0h0M577.0 1182.8h0M595.3 1178.5h0M635.8 1180.9h0M670.4 1179.0h0M689.6 1182.3h0M728.3 1182.1h0M589.5 1186.2h0M621.5 1188.5h0M649.9 1185.4h0M677.8 1188.3h0M714.2 1184.3h0M734.6 1185.7h0M597.1 1188.6h0M636.1 1189.3h0M692.7 1193.4h0M695.6 1191.2h0M714.1 1190.2h0M719.8 1190.5h0M587.9 1197.3h0M595.3 1198.2h0M599.6 1199.4h0M621.0 1196.1h0M629.0 1199.1h0M635.3 1198.6h0M678.3 1199.0h0M707.1 1198.5h0M731.8 1196.0h0M577.5 1202.6h0M592.6 1205.2h0M600.8 1203.0h0M606.0 1200.2h0M635.4 1204.3h0M658.5 1202.0h0M672.7 1199.7h0M676.6 1200.1h0M698.7 1200.5h0M735.6 1199.7h0M574.6 1206.2h0M603.5 1205.4h0M606.8 1207.1h0M627.5 1208.3h0M632.4 1209.1h0M641.2 1207.7h0M648.5 1210.1h0M651.9 1209.3h0M680.4 1210.9h0M700.1 1209.8h0M728.6 1209.6h0M732.9 1208.0h0M739.2 1207.2h0M635.7 1212.9h0M678.0 1215.8h0M694.2 1214.8h0M709.0 1214.4h0M725.4 1213.0h0M598.5 1218.1h0M651.7 1222.2h0M663.0 1220.3h0M675.0 1218.4h0M731.1 1217.9h0M736.4 1218.3h0M579.3 1225.5h0M592.7 1227.3h0M618.2 1225.9h0M634.1 1228.0h0M652.5 1226.9h0M657.2 1224.2h0M686.5 1222.6h0M694.6 1223.5h0M598.5 1228.2h0M624.0 1230.9h0M669.1 1229.7h0M714.9 1229.2h0M591.4 1237.8h0M643.5 1238.7h0M653.3 1234.2h0M660.3 1237.3h0M663.6 1236.4h0M676.8 1235.1h0M695.7 1238.2h0M705.0 1235.1h0M725.3 1239.2h0M602.6 1239.9h0M648.8 1243.7h0M692.1 1243.4h0M707.2 1239.2h0M587.1 1250.7h0M610.1 1245.9h0M618.0 1248.9h0M626.8 1246.7h0M646.2 1245.5h0M653.2 1250.1h0M655.9 1245.4h0M677.8 1249.7h0M681.5 1248.2h0M712.1 1249.0h0M713.3 1248.4h0M734.2 1244.9h0M575.5 1255.5h0M584.4 1250.9h0M610.9 1255.4h0M622.1 1253.7h0M636.6 1253.5h0M646.2 1254.1h0M652.9 1252.2h0M668.6 1252.9h0M673.4 1253.0h0M697.1 1253.8h0M708.4 1254.4h0M735.2 1254.2h0M583.2 1258.6h0M591.3 1260.9h0M598.6 1258.6h0M616.4 1260.3h0M622.2 1259.2h0M631.3 1256.7h0M665.1 1261.1h0M686.0 1261.7h0M689.8 1259.1h0M699.4 1258.8h0M705.6 1260.5h0M737.4 1258.6h0M614.2 1267.2h0M631.0 1267.1h0M632.8 1264.6h0M640.3 1266.6h0M672.4 1267.6h0M680.9 1267.1h0M684.9 1263.0h0M697.9 1264.4h0M704.9 1264.0h0M717.9 1264.3h0M732.2 1264.1h0M740.9 1265.6h0M581.4 1271.6h0M596.2 1269.3h0M620.8 1268.0h0M644.6 1268.1h0M648.2 1271.8h0M655.9 1271.3h0M663.6 1270.1h0M682.3 1270.7h0M693.7 1272.1h0M715.3 1271.5h0M720.5 1270.1h0M732.9 1271.5h0M578.9 1276.1h0M582.8 1276.6h0M587.6 1277.1h0M614.0 1278.2h0M623.6 1274.3h0M636.0 1273.7h0M651.4 1275.9h0M659.0 1278.0h0M713.2 1273.2h0M601.9 1280.4h0M614.6 1283.3h0M624.2 1283.5h0M644.4 1283.6h0M649.1 1278.8h0M673.0 1284.6h0M742.4 1281.6h0M594.3 1286.5h0M599.7 1286.4h0M684.6 1288.4h0M690.5 1289.7h0M698.1 1286.9h0M705.5 1288.3h0M733.8 1289.8h0M594.8 1295.6h0M631.2 1294.4h0M658.6 1295.5h0M663.4 1295.2h0M696.5 1295.1h0M704.7 1295.1h0M707.9 1294.8h0M726.6 1291.8h0" stroke="#7A3E8E" stroke-width="2.51" stroke-linecap="round" opacity="0.42"/>
<path d="M606.7 1153.4h0M616.6 1153.2h0M641.3 1150.8h0M660.2 1154.0h0M669.5 1149.2h0M672.6 1152.0h0M706.6 1151.7h0M710.1 1149.2h0M720.5 1152.2h0M741.6 1152.3h0M582.1 1154.4h0M616.9 1154.5h0M634.1 1158.8h0M641.0 1158.2h0M643.1 1155.7h0M685.5 1157.7h0M697.0 1158.8h0M705.6 1159.0h0M723.1 1156.8h0M727.1 1158.0h0M739.8 1155.9h0M587.4 1164.7h0M593.6 1164.9h0M601.6 1163.7h0M615.2 1164.6h0M622.4 1165.2h0M670.1 1162.1h0M671.0 1161.4h0M688.8 1165.3h0M724.4 1163.1h0M729.8 1161.2h0M604.4 1169.1h0M623.0 1170.8h0M638.0 1169.0h0M645.8 1168.6h0M653.9 1170.5h0M664.2 1167.9h0M671.1 1171.5h0M678.5 1168.2h0M683.8 1167.8h0M698.5 1167.8h0M707.6 1167.4h0M733.4 1169.9h0M573.5 1176.9h0M599.8 1173.5h0M614.9 1176.8h0M620.2 1172.5h0M661.8 1173.5h0M665.4 1176.8h0M675.2 1174.3h0M686.3 1172.7h0M730.6 1173.7h0M740.9 1174.1h0M607.4 1182.6h0M616.5 1180.7h0M633.5 1182.3h0M643.6 1178.4h0M666.4 1178.5h0M685.0 1180.6h0M698.1 1182.7h0M579.0 1184.1h0M581.0 1187.5h0M603.8 1185.8h0M608.8 1183.1h0M637.4 1185.5h0M708.7 1185.6h0M584.6 1193.6h0M612.7 1193.3h0M623.8 1191.0h0M630.7 1188.5h0M663.1 1193.8h0M677.3 1190.5h0M736.6 1191.5h0M611.2 1199.8h0M612.8 1197.1h0M661.7 1197.0h0M667.4 1194.5h0M689.3 1198.8h0M695.5 1194.2h0M711.4 1197.4h0M719.0 1197.4h0M725.4 1199.5h0M739.2 1198.5h0M624.2 1204.9h0M631.3 1203.9h0M652.5 1200.3h0M663.6 1201.7h0M587.4 1205.7h0M595.9 1206.4h0M615.8 1210.4h0M665.7 1208.1h0M675.8 1207.7h0M688.1 1205.7h0M696.2 1211.0h0M581.4 1212.8h0M588.0 1213.6h0M594.2 1213.3h0M597.6 1211.5h0M606.9 1211.8h0M619.7 1216.3h0M631.0 1216.2h0M652.3 1214.4h0M666.8 1212.2h0M685.4 1215.6h0M729.7 1213.4h0M734.4 1213.6h0M743.4 1212.6h0M580.6 1217.1h0M586.6 1219.0h0M617.5 1221.1h0M621.5 1219.2h0M625.5 1218.6h0M637.4 1219.4h0M681.1 1216.9h0M688.9 1217.7h0M695.3 1218.7h0M700.6 1218.8h0M722.1 1221.2h0M727.3 1217.5h0M598.6 1226.2h0M636.4 1224.1h0M645.9 1223.4h0M665.6 1224.2h0M705.1 1224.5h0M709.2 1224.3h0M718.8 1222.6h0M737.0 1227.0h0M583.3 1232.3h0M591.5 1228.0h0M615.3 1230.7h0M635.5 1232.4h0M658.3 1229.2h0M677.9 1229.6h0M685.9 1228.8h0M707.2 1229.6h0M730.7 1229.5h0M576.7 1235.5h0M613.1 1238.4h0M629.1 1234.8h0M636.7 1235.6h0M688.8 1235.2h0M733.6 1235.7h0M575.4 1240.4h0M623.2 1241.0h0M630.8 1244.8h0M632.3 1242.1h0M638.9 1243.5h0M655.8 1241.2h0M668.6 1241.6h0M676.5 1244.4h0M711.4 1243.5h0M720.1 1244.3h0M726.4 1240.4h0M732.2 1244.6h0M741.5 1244.7h0M590.9 1249.9h0M599.0 1249.6h0M605.0 1250.2h0M638.8 1250.2h0M672.7 1246.3h0M706.0 1246.2h0M725.5 1248.1h0M729.0 1249.1h0M587.5 1251.3h0M596.5 1255.0h0M613.7 1251.3h0M641.5 1252.2h0M663.5 1252.7h0M689.5 1253.9h0M696.1 1253.1h0M711.6 1252.6h0M736.5 1252.2h0M577.1 1259.4h0M606.6 1259.5h0M638.4 1261.4h0M652.5 1261.7h0M658.5 1258.4h0M673.4 1259.6h0M676.4 1259.9h0M722.4 1256.4h0M728.1 1261.7h0M581.3 1262.3h0M587.9 1266.9h0M593.9 1265.2h0M600.3 1263.5h0M620.5 1267.0h0M650.0 1263.3h0M663.7 1265.7h0M666.5 1265.7h0M724.1 1266.4h0M586.7 1269.6h0M603.2 1269.7h0M631.1 1267.8h0M672.2 1267.6h0M709.5 1269.0h0M728.0 1271.3h0M641.4 1276.6h0M649.2 1277.9h0M664.5 1276.9h0M676.7 1278.3h0M681.3 1276.1h0M686.8 1277.6h0M708.1 1274.5h0M721.6 1277.9h0M735.2 1274.9h0M581.3 1280.8h0M592.5 1282.9h0M629.2 1282.1h0M662.7 1279.6h0M698.0 1283.8h0M721.4 1284.2h0M726.7 1282.2h0M590.0 1285.4h0M606.6 1287.0h0M616.7 1287.2h0M619.7 1287.1h0M625.4 1285.7h0M646.0 1287.0h0M668.9 1290.1h0M676.5 1285.4h0M714.9 1289.6h0M719.6 1289.4h0M727.4 1286.3h0M607.4 1290.7h0M614.4 1291.3h0M636.3 1295.9h0M643.1 1295.6h0M668.1 1291.1h0M690.2 1293.1h0M714.4 1291.2h0M724.5 1291.7h0M735.3 1294.5h0M741.6 1292.3h0" stroke="#7A3E8E" stroke-width="2.84" stroke-linecap="round" opacity="0.42"/>
<path d="M653.4 1235.0h0M662.1 1243.1h0M726.7 1217.7h0M619.6 1266.6h0M707.1 1198.6h0M740.1 1182.5h0M689.9 1249.0h0M655.3 1270.9h0M698.3 1200.5h0M651.5 1178.9h0M728.8 1248.4h0" stroke="#4A2060" stroke-width="1.62" stroke-linecap="round" opacity="0.45"/>
<path d="M675.7 1244.0h0M594.5 1277.2h0M591.7 1261.1h0M712.4 1158.3h0M719.1 1191.3h0M599.6 1263.4h0M675.2 1232.3h0M719.3 1222.1h0M677.4 1285.2h0" stroke="#4A2060" stroke-width="1.88" stroke-linecap="round" opacity="0.45"/>
<path d="M703.6 1176.8h0M631.5 1164.0h0M677.1 1200.6h0M598.1 1183.2h0M635.3 1198.6h0M695.6 1252.7h0M738.8 1207.8h0M686.4 1223.5h0M589.5 1201.9h0M677.1 1277.4h0" stroke="#4A2060" stroke-width="2.15" stroke-linecap="round" opacity="0.45"/>
</g>
<clipPath id="cv4"><rect x="81.1" y="1301.9" width="160.1" height="137.8"/></clipPath>
<g clip-path="url(#cv4)">
<rect x="81.1" y="1301.9" width="160.1" height="137.8" fill="#E1669F"/>
<rect x="81.1" y="1301.9" width="160.1" height="137.8" fill="#fff" filter="url(#mot)" opacity="0.12"/>
<path d="M233.2 1417.2Q234.1 1422.7 236.4 1426.9M191.7 1409.9Q197.0 1411.5 199.0 1416.2M104.4 1386.5Q101.5 1390.8 95.6 1397.9M172.1 1349.0Q174.7 1355.3 176.3 1362.6M149.9 1362.0Q145.4 1367.4 143.5 1370.4M171.1 1323.7Q173.4 1314.4 173.1 1307.8M127.2 1359.0Q123.5 1357.1 115.7 1359.1M113.4 1410.4Q114.3 1416.5 112.8 1425.1M173.5 1381.4Q167.5 1390.4 164.1 1396.7M166.9 1311.6Q163.4 1308.8 162.7 1303.1M180.8 1317.6Q182.4 1312.3 181.5 1309.5M126.8 1315.4Q120.6 1311.3 113.4 1308.3M170.6 1370.3Q170.1 1374.2 166.9 1380.8M194.2 1412.2Q192.3 1420.1 190.2 1428.1M165.5 1398.9Q166.4 1401.3 163.9 1407.1M116.6 1366.0Q113.3 1368.3 109.4 1371.3M176.1 1408.4Q175.9 1413.7 175.1 1419.5M233.1 1385.9Q235.4 1388.9 236.2 1393.4M119.8 1323.8Q113.3 1326.0 110.1 1324.8M122.4 1330.8Q113.2 1335.3 107.4 1336.5M118.0 1311.2Q113.3 1309.3 108.3 1307.7M123.5 1329.0Q120.7 1327.4 114.8 1329.0M172.0 1347.7Q171.1 1356.4 170.4 1365.1M151.9 1330.2Q144.7 1331.3 136.5 1333.4M125.3 1419.9Q126.3 1424.6 125.2 1431.5M220.8 1365.3Q227.3 1365.5 234.4 1365.0M89.9 1350.9Q84.5 1351.3 81.7 1349.0M111.0 1405.1Q108.6 1411.1 104.7 1418.6M88.6 1356.5Q83.0 1362.3 77.5 1368.0M143.1 1410.7Q138.5 1415.5 137.1 1417.0M138.4 1342.4Q134.7 1343.1 127.3 1347.6M188.5 1429.2Q188.8 1434.1 188.7 1439.5M110.6 1374.7Q105.9 1383.2 102.8 1390.1M219.3 1333.8Q225.6 1330.9 229.3 1330.7M211.7 1400.3Q212.6 1405.6 215.6 1408.9M88.3 1422.8Q84.3 1432.1 84.4 1437.4M128.0 1380.9Q128.3 1383.4 125.4 1389.2M133.4 1309.2Q127.2 1302.6 120.8 1296.5M91.8 1358.4Q86.4 1359.8 81.6 1360.5M199.6 1383.8Q199.9 1392.4 200.0 1401.3M230.9 1319.2Q239.9 1316.4 245.5 1316.9M161.5 1358.2Q154.6 1363.8 151.3 1365.9M161.2 1337.0Q151.6 1340.9 145.6 1341.2M137.3 1420.2Q131.3 1426.3 126.3 1431.6M232.4 1412.3Q234.4 1418.2 235.4 1425.3M106.3 1305.7Q102.3 1306.7 98.1 1307.9M228.5 1374.5Q234.2 1379.4 236.3 1387.9M130.9 1369.3Q126.2 1369.6 119.8 1371.6M152.9 1322.5Q145.3 1324.9 141.4 1323.5M214.3 1350.2Q220.3 1352.8 230.3 1351.5M197.4 1361.9Q205.0 1362.0 208.7 1365.9M93.5 1337.6Q86.2 1342.3 81.4 1344.5M214.4 1348.2Q215.9 1353.2 219.4 1356.0M92.3 1307.1Q85.6 1307.8 78.5 1308.9M188.8 1331.7Q196.7 1334.8 205.9 1336.6M124.7 1331.6Q118.7 1327.5 112.8 1323.4M166.4 1317.4Q159.5 1313.9 154.5 1308.3M161.5 1420.4Q164.4 1425.5 165.2 1432.6M201.4 1409.0Q199.1 1416.9 199.0 1422.6M161.2 1424.4Q161.5 1430.9 164.1 1434.9M216.4 1319.9Q222.7 1314.4 227.1 1310.7M151.8 1400.0Q146.9 1406.8 145.5 1410.1M193.4 1380.0Q190.0 1389.1 190.1 1394.7M117.9 1344.5Q111.3 1345.4 106.8 1344.1M118.4 1338.1Q112.3 1337.9 103.5 1340.4M103.1 1378.0Q95.7 1379.5 91.2 1378.0M182.8 1412.2Q185.0 1416.3 188.6 1418.9M145.5 1316.9Q141.3 1316.0 133.4 1318.6M174.7 1335.5Q170.3 1341.5 168.8 1344.6M105.4 1310.1Q102.9 1303.2 96.5 1300.2M169.8 1317.0Q166.3 1313.0 165.5 1306.4M102.3 1394.7Q92.9 1398.0 85.6 1399.2M176.2 1329.1Q177.8 1338.9 183.3 1344.7M119.1 1418.4Q109.8 1423.4 104.0 1424.9M177.3 1401.3Q178.3 1406.9 177.0 1414.7M97.3 1380.4Q90.0 1380.9 83.8 1380.3M109.3 1418.7Q104.7 1422.8 96.3 1430.5M193.1 1412.0Q191.5 1420.0 190.5 1427.3M185.7 1402.9Q189.9 1409.4 193.2 1416.8M146.0 1360.4Q140.0 1363.5 137.7 1363.0M163.2 1324.9Q160.4 1317.2 158.7 1308.3M143.2 1388.8Q138.9 1391.3 131.4 1397.0M142.3 1362.2Q135.3 1366.7 129.3 1370.4M141.3 1412.9Q136.7 1419.5 134.1 1424.2M143.9 1314.4Q138.4 1314.8 135.1 1313.0" fill="none" stroke="#F2D4E6" stroke-width="1.7" stroke-linecap="round" opacity="0.75"/>
<path d="M120.3 1288.8h0M125.9 1294.2h0M139.6 1293.6h0M153.8 1296.4h0M189.5 1288.6h0M195.2 1290.4h0M81.7 1309.1h0M96.3 1307.6h0M104.5 1313.0h0M126.0 1311.9h0M198.4 1304.8h0M205.1 1308.3h0M231.4 1313.0h0M103.5 1320.6h0M172.5 1318.2h0M229.9 1315.2h0M76.6 1334.2h0M97.2 1334.9h0M126.2 1332.0h0M139.1 1328.4h0M160.6 1332.8h0M184.5 1331.1h0M188.9 1333.2h0M79.8 1344.9h0M142.9 1337.6h0M201.4 1341.0h0M208.4 1338.1h0M97.1 1362.1h0M203.2 1351.8h0M217.0 1360.1h0M115.0 1371.0h0M169.3 1368.8h0M114.1 1375.7h0M134.7 1375.1h0M192.9 1384.3h0M219.3 1385.3h0M252.5 1384.0h0M75.6 1395.8h0M119.2 1388.5h0M185.7 1395.0h0M200.7 1398.1h0M219.6 1387.6h0M113.7 1401.9h0M128.5 1404.0h0M176.1 1404.9h0M212.9 1407.9h0M237.1 1408.7h0M100.2 1410.7h0M159.8 1419.9h0M187.2 1412.2h0M240.2 1413.4h0M148.9 1426.9h0M165.9 1423.3h0M173.8 1435.0h0M224.1 1422.9h0M91.1 1440.8h0M97.2 1436.7h0M136.1 1437.5h0M146.6 1444.2h0M157.0 1444.8h0M242.3 1436.1h0M137.8 1455.0h0M191.3 1450.9h0M231.4 1452.6h0" stroke="#9250A8" stroke-width="5.55" stroke-linecap="round" opacity="0.42"/>
<path d="M75.7 1295.6h0M229.0 1299.5h0M242.9 1293.7h0M140.7 1303.6h0M150.4 1308.3h0M161.0 1311.1h0M179.0 1308.1h0M75.8 1317.0h0M86.5 1324.9h0M126.7 1324.0h0M218.0 1313.4h0M239.8 1320.1h0M152.3 1328.7h0M203.3 1333.3h0M251.2 1333.9h0M99.0 1349.5h0M159.4 1348.8h0M170.1 1341.7h0M183.3 1342.4h0M233.4 1345.6h0M237.4 1342.6h0M107.4 1355.2h0M118.7 1358.3h0M136.8 1356.3h0M148.7 1357.3h0M182.5 1350.5h0M188.4 1354.4h0M230.1 1359.4h0M248.7 1358.8h0M73.6 1364.5h0M105.5 1369.9h0M125.7 1367.5h0M162.1 1363.7h0M227.0 1361.7h0M83.7 1379.7h0M123.3 1377.3h0M156.8 1377.8h0M167.7 1383.2h0M184.3 1379.5h0M207.7 1376.8h0M232.7 1381.5h0M100.1 1391.0h0M134.5 1389.4h0M232.4 1398.6h0M239.4 1391.3h0M81.8 1410.6h0M168.9 1407.1h0M196.1 1407.6h0M248.3 1406.6h0M74.6 1411.2h0M87.1 1414.1h0M120.4 1414.4h0M174.1 1422.6h0M194.9 1422.3h0M215.1 1418.3h0M95.5 1427.5h0M188.9 1425.1h0M209.4 1428.7h0M229.0 1427.2h0M252.7 1425.4h0M112.0 1440.0h0M95.8 1451.0h0M118.0 1453.1h0M225.7 1450.4h0" stroke="#9250A8" stroke-width="6.43" stroke-linecap="round" opacity="0.42"/>
<path d="M92.5 1295.7h0M100.1 1293.0h0M176.7 1293.5h0M217.7 1292.1h0M216.1 1304.0h0M250.8 1310.8h0M115.2 1324.3h0M146.6 1322.2h0M164.3 1319.1h0M188.3 1323.7h0M203.4 1315.9h0M108.8 1335.7h0M224.1 1327.8h0M232.6 1330.7h0M93.5 1340.0h0M119.7 1342.3h0M124.6 1340.5h0M84.3 1354.3h0M166.4 1361.0h0M86.8 1373.1h0M142.3 1367.0h0M183.5 1373.1h0M199.4 1361.7h0M211.3 1365.2h0M247.5 1367.0h0M94.6 1377.7h0M94.2 1392.2h0M139.8 1395.2h0M155.8 1395.6h0M168.3 1389.4h0M92.0 1402.0h0M143.3 1402.1h0M149.3 1407.8h0M223.2 1407.2h0M130.5 1412.8h0M143.8 1419.9h0M230.9 1419.8h0M81.6 1426.9h0M115.1 1434.5h0M125.4 1433.8h0M138.3 1427.2h0M73.5 1444.8h0M167.6 1447.1h0M180.8 1439.3h0M194.4 1437.8h0M208.4 1441.6h0M225.5 1447.2h0M86.0 1447.4h0M106.0 1453.4h0M154.3 1447.6h0M168.9 1452.0h0M178.6 1447.6h0M210.7 1454.7h0M243.5 1448.4h0" stroke="#9250A8" stroke-width="7.26" stroke-linecap="round" opacity="0.42"/>
<path d="M96.0 1451.0h0M170.1 1340.8h0M208.5 1338.4h0M118.3 1358.4h0M73.3 1445.7h0M138.8 1293.7h0M202.0 1341.8h0" stroke="#5A2A66" stroke-width="4.19" stroke-linecap="round" opacity="0.55"/>
<path d="M99.3 1292.7h0M215.1 1304.0h0M93.3 1295.1h0M145.8 1322.4h0" stroke="#5A2A66" stroke-width="4.93" stroke-linecap="round" opacity="0.55"/>
<path d="M127.3 1323.8h0" stroke="#5A2A66" stroke-width="5.73" stroke-linecap="round" opacity="0.55"/>
</g>
<clipPath id="ca4"><rect x="247.3" y="1301.5" width="159.3" height="137.8"/></clipPath>
<g clip-path="url(#ca4)">
<rect x="247.3" y="1301.5" width="159.3" height="137.8" fill="#D86AA5"/>
<rect x="247.3" y="1301.5" width="159.3" height="137.8" fill="#fff" filter="url(#mot)" opacity="0.12"/>
<path d="M380.8 1345.1Q386.4 1350.4 393.5 1354.2M364.3 1347.9Q370.7 1346.6 375.1 1347.3M273.7 1388.7Q270.5 1392.6 267.9 1396.0M316.0 1362.0Q307.8 1366.0 301.8 1367.9M401.9 1379.1Q404.8 1385.7 407.4 1392.6M292.9 1426.4Q285.7 1431.1 281.6 1432.7M377.7 1399.1Q380.3 1405.1 379.1 1414.8M359.8 1352.0Q365.6 1354.5 369.4 1359.2M346.2 1409.0Q348.9 1413.5 347.9 1421.6M372.8 1425.4Q373.1 1430.1 374.1 1434.3M297.5 1335.5Q293.5 1337.8 289.7 1339.9M373.0 1414.8Q370.1 1423.0 371.0 1427.3M281.2 1313.4Q278.7 1308.5 274.3 1305.4M323.7 1377.1Q317.5 1383.7 314.7 1386.8M347.7 1345.5Q347.4 1351.5 349.2 1355.5M387.1 1359.4Q395.9 1356.9 401.4 1357.7M327.2 1329.7Q324.7 1325.6 324.2 1319.4M256.1 1418.8Q253.7 1423.5 252.4 1427.0M355.3 1433.4Q357.9 1439.8 362.3 1444.3M379.6 1363.3Q384.7 1368.5 389.6 1374.0M327.1 1307.6Q323.4 1301.8 317.6 1298.0M336.1 1314.9Q340.8 1306.9 342.6 1301.6M363.4 1388.6Q365.6 1394.1 370.3 1397.1M347.6 1343.8Q348.9 1349.2 352.0 1352.6M268.0 1342.0Q262.6 1338.4 253.9 1338.2M257.5 1393.0Q254.7 1394.2 248.3 1398.8M352.1 1340.4Q355.9 1344.8 359.9 1348.9M321.7 1359.9Q322.5 1367.8 324.8 1374.1M322.5 1328.2Q317.1 1327.7 315.5 1323.4M285.6 1417.7Q279.2 1424.2 276.0 1427.5M322.1 1397.9Q317.5 1404.6 316.3 1408.0M312.1 1427.4Q307.2 1432.7 303.4 1436.9M341.5 1373.6Q343.4 1380.5 344.8 1388.0M266.5 1400.2Q262.8 1402.3 258.8 1404.6M399.4 1386.1Q402.8 1391.0 406.8 1395.3M400.1 1340.1Q404.5 1340.2 408.8 1340.4M354.3 1391.9Q351.7 1397.9 351.4 1401.6M309.2 1348.2Q304.3 1347.8 299.6 1347.2M401.0 1356.3Q405.8 1358.5 412.0 1359.2M297.7 1412.6Q299.6 1415.6 299.1 1421.0M358.2 1356.1Q361.6 1361.0 367.1 1363.8M320.8 1347.6Q316.7 1350.3 311.9 1353.6M254.3 1431.9Q253.3 1438.3 253.3 1443.7M270.3 1431.5Q267.3 1436.3 265.6 1439.7M285.3 1376.4Q276.4 1377.7 269.6 1376.9" fill="none" stroke="#F6DDEB" stroke-width="1.4" stroke-linecap="round" opacity="0.6"/>
<path d="M254.5 1318.2h0M299.4 1375.1h0M385.2 1420.9h0M309.2 1340.7h0M379.6 1386.3h0M319.9 1421.9h0M250.5 1328.1h0M333.5 1388.2h0M355.7 1313.8h0M284.1 1386.5h0M306.0 1303.3h0M318.8 1370.9h0M399.9 1411.5h0M353.0 1358.5h0M369.5 1397.9h0M283.8 1365.6h0M303.3 1321.1h0M289.5 1323.3h0M402.3 1327.2h0M345.1 1382.9h0M315.8 1358.0h0M384.5 1347.9h0M398.5 1324.4h0M348.4 1337.5h0M364.6 1328.3h0M336.7 1348.6h0M336.0 1324.8h0M400.3 1429.8h0M281.6 1358.5h0M336.7 1407.8h0M326.6 1315.8h0M255.3 1321.2h0M287.5 1403.9h0M396.3 1394.0h0M370.2 1320.9h0M347.2 1345.4h0M257.9 1362.2h0M310.6 1356.6h0M284.6 1382.6h0M268.3 1369.2h0M401.7 1399.7h0M385.3 1311.3h0M387.8 1334.4h0M260.6 1369.1h0M322.7 1425.5h0M395.9 1379.8h0M329.0 1413.1h0M339.9 1427.5h0M393.1 1348.4h0M342.0 1417.4h0M338.5 1314.7h0M376.9 1341.7h0M327.9 1313.9h0M355.2 1399.5h0M395.8 1425.1h0M287.4 1341.7h0M270.3 1329.3h0M279.1 1339.1h0M285.0 1364.4h0M314.8 1413.6h0M286.6 1341.6h0M331.3 1368.3h0M314.5 1325.3h0M350.7 1307.5h0M275.3 1384.2h0M262.2 1410.2h0M290.6 1424.9h0M392.3 1336.7h0M277.3 1304.2h0M346.1 1400.5h0M344.2 1370.8h0M362.5 1410.0h0M326.3 1349.2h0M336.3 1399.1h0" stroke="#F4EAF2" stroke-width="1.84" stroke-linecap="round" opacity="0.75"/>
<path d="M257.0 1325.5h0M332.2 1351.5h0M381.5 1384.7h0M309.4 1324.4h0M259.8 1341.1h0M267.0 1312.7h0M402.8 1382.4h0M291.6 1413.5h0M344.9 1339.9h0M381.3 1423.4h0M390.7 1418.2h0M289.9 1412.1h0M286.1 1320.1h0M349.3 1318.9h0M259.8 1392.5h0M319.4 1394.9h0M339.4 1438.5h0M383.8 1323.9h0M315.2 1417.5h0M406.5 1419.9h0M304.6 1319.7h0M300.4 1420.0h0M288.2 1420.2h0M358.6 1356.3h0M389.1 1325.3h0M327.3 1431.6h0M259.6 1320.6h0M277.5 1344.2h0M319.2 1387.4h0M398.4 1437.3h0M321.2 1374.1h0M401.1 1341.1h0M325.6 1318.6h0M388.8 1379.2h0M392.4 1306.7h0M306.6 1328.3h0M348.2 1343.7h0M297.9 1376.3h0M272.4 1425.2h0M373.9 1313.3h0M397.9 1319.5h0M306.5 1419.7h0M260.7 1375.2h0M292.3 1414.0h0M300.2 1386.8h0M302.8 1438.5h0M287.1 1336.5h0M326.5 1417.6h0M256.4 1333.8h0M257.3 1360.9h0M289.7 1383.6h0M335.1 1329.6h0M385.1 1362.1h0M261.2 1304.2h0M264.7 1307.0h0M357.8 1312.4h0M258.0 1309.5h0M342.2 1376.6h0M320.6 1328.3h0M330.1 1420.9h0M290.2 1339.5h0M326.6 1373.7h0M250.0 1317.8h0M310.4 1304.7h0M293.6 1309.4h0M367.0 1301.8h0M265.9 1345.0h0M405.3 1378.1h0M312.2 1351.5h0M351.2 1337.5h0M282.0 1348.8h0M385.0 1371.3h0M281.7 1421.4h0M378.8 1343.7h0M357.5 1342.1h0M363.7 1328.6h0" stroke="#F4EAF2" stroke-width="2.72" stroke-linecap="round" opacity="0.75"/>
<path d="M337.1 1406.8h0M255.9 1307.3h0M276.1 1406.5h0M319.9 1362.5h0M320.4 1353.9h0M378.9 1350.5h0M262.6 1368.2h0M301.9 1355.7h0M357.0 1347.3h0M264.3 1382.6h0M324.7 1315.7h0M402.6 1382.8h0M334.9 1324.3h0M282.6 1319.7h0M394.4 1361.3h0M277.7 1439.2h0M370.9 1429.0h0M331.9 1302.6h0M329.2 1396.1h0M325.9 1407.5h0M403.1 1310.6h0M296.1 1352.1h0M405.2 1329.8h0M345.6 1333.0h0M361.9 1338.1h0M333.2 1410.2h0M359.7 1379.7h0M405.6 1356.5h0M314.1 1304.3h0M309.6 1327.4h0M312.4 1371.3h0M299.3 1327.5h0M371.7 1316.7h0M253.0 1407.6h0M294.4 1381.1h0M275.1 1438.1h0M310.6 1356.0h0M264.5 1415.3h0M342.7 1340.4h0M342.3 1436.4h0M258.6 1323.8h0M396.2 1351.0h0M349.1 1347.4h0M250.5 1407.7h0M328.6 1361.0h0M349.3 1358.2h0M306.2 1317.2h0M370.2 1326.7h0M278.4 1437.2h0M394.9 1365.4h0M247.5 1385.2h0M308.7 1366.3h0M312.9 1330.8h0M376.4 1384.8h0M261.3 1353.5h0M363.8 1401.1h0M340.4 1381.0h0M308.3 1350.2h0M273.5 1358.0h0M399.8 1334.7h0M272.4 1384.6h0M363.0 1401.8h0M271.4 1378.9h0M354.3 1436.3h0M330.1 1344.4h0M268.4 1425.9h0M393.0 1305.3h0M392.8 1337.8h0M389.1 1364.5h0M398.1 1408.6h0M310.0 1370.8h0M313.4 1318.0h0M403.5 1349.1h0M323.7 1394.4h0M322.5 1354.2h0M328.0 1368.2h0M397.8 1332.8h0M275.3 1303.0h0M359.0 1417.1h0M297.0 1432.3h0" stroke="#F4EAF2" stroke-width="3.54" stroke-linecap="round" opacity="0.75"/>
<path d="M242.3 1297.1h0M391.6 1299.8h0M246.4 1309.3h0M275.4 1312.8h0M356.4 1307.0h0M262.9 1319.7h0M366.5 1317.5h0M386.0 1313.5h0M396.8 1320.0h0M371.4 1326.0h0M419.2 1328.5h0M241.1 1340.8h0M272.7 1348.9h0M305.3 1349.3h0M322.5 1347.8h0M341.2 1347.0h0M380.9 1342.4h0M247.9 1359.2h0M299.4 1357.5h0M356.4 1360.2h0M376.1 1351.2h0M403.0 1351.2h0M244.4 1367.1h0M249.6 1368.0h0M299.9 1368.3h0M306.1 1367.5h0M355.7 1361.4h0M360.1 1366.3h0M395.9 1363.7h0M261.0 1384.3h0M385.5 1380.0h0M409.8 1381.6h0M268.0 1386.7h0M315.5 1395.8h0M346.6 1390.0h0M395.6 1392.6h0M266.6 1399.0h0M293.6 1401.4h0M332.0 1407.9h0M235.8 1413.6h0M282.9 1414.0h0M325.1 1415.3h0M241.6 1425.0h0M280.4 1429.4h0M347.8 1423.7h0M364.4 1433.5h0M383.0 1424.9h0M403.0 1426.0h0M250.9 1438.9h0M292.3 1435.0h0M334.6 1444.6h0M367.8 1444.3h0M377.5 1439.5h0M394.3 1441.1h0M313.4 1449.3h0M355.4 1459.1h0M389.4 1457.9h0M405.6 1449.1h0" stroke="#8E50A8" stroke-width="6.54" stroke-linecap="round" opacity="0.42"/>
<path d="M259.1 1297.8h0M274.2 1290.2h0M281.2 1288.8h0M301.8 1298.4h0M307.0 1293.5h0M329.1 1298.5h0M341.7 1293.8h0M354.9 1290.5h0M377.7 1296.2h0M406.8 1290.2h0M294.6 1303.0h0M329.8 1305.0h0M339.8 1309.3h0M372.9 1311.5h0M389.0 1312.8h0M398.3 1301.8h0M246.3 1314.2h0M258.9 1317.0h0M276.6 1321.5h0M315.7 1321.4h0M336.3 1318.5h0M404.9 1315.7h0M251.8 1335.0h0M257.7 1331.1h0M270.4 1329.5h0M291.4 1331.7h0M307.1 1329.6h0M321.6 1329.2h0M340.7 1326.7h0M404.6 1334.5h0M276.9 1343.7h0M394.7 1345.4h0M273.9 1354.5h0M290.3 1354.8h0M311.7 1351.1h0M350.9 1354.0h0M285.8 1370.9h0M328.5 1366.9h0M272.1 1373.8h0M299.9 1376.0h0M330.9 1376.9h0M359.4 1376.6h0M370.8 1377.0h0M402.1 1378.3h0M278.9 1397.9h0M305.5 1399.4h0M317.0 1408.1h0M348.1 1401.5h0M385.6 1404.0h0M402.8 1401.6h0M409.5 1401.8h0M257.9 1417.2h0M268.2 1414.5h0M349.9 1410.9h0M377.2 1414.4h0M409.9 1415.7h0M285.3 1426.0h0M303.6 1425.7h0M287.7 1441.1h0M307.4 1440.6h0M327.6 1441.2h0M247.7 1457.6h0M414.1 1449.6h0" stroke="#8E50A8" stroke-width="7.57" stroke-linecap="round" opacity="0.42"/>
<path d="M369.5 1290.1h0M262.3 1307.7h0M308.7 1300.7h0M312.3 1301.3h0M419.2 1309.5h0M294.8 1317.2h0M321.4 1319.8h0M346.5 1316.8h0M327.4 1335.2h0M362.4 1336.6h0M383.0 1324.9h0M249.1 1337.0h0M296.9 1340.2h0M346.9 1337.3h0M361.8 1346.4h0M403.4 1340.1h0M255.3 1356.6h0M331.2 1349.8h0M393.1 1356.9h0M419.1 1355.0h0M266.7 1366.6h0M339.8 1361.9h0M385.7 1364.2h0M406.1 1362.8h0M242.8 1378.8h0M290.9 1385.4h0M318.6 1376.8h0M351.0 1382.7h0M236.3 1396.1h0M253.2 1393.8h0M296.2 1385.8h0M327.5 1387.7h0M339.9 1394.5h0M368.5 1391.8h0M380.2 1385.8h0M405.1 1387.2h0M251.1 1403.0h0M273.2 1408.0h0M365.3 1398.8h0M379.4 1398.4h0M291.2 1414.8h0M314.3 1410.1h0M336.4 1418.2h0M364.4 1419.8h0M397.9 1422.2h0M265.7 1423.8h0M317.5 1430.2h0M325.0 1434.4h0M374.9 1429.1h0M418.5 1430.6h0M234.5 1436.6h0M264.3 1444.6h0M354.7 1437.1h0M406.9 1436.0h0M266.4 1449.9h0M270.8 1458.0h0M283.3 1448.3h0M300.5 1453.8h0M334.5 1455.5h0M340.9 1454.2h0M370.2 1458.7h0" stroke="#8E50A8" stroke-width="8.53" stroke-linecap="round" opacity="0.42"/>
</g>
<clipPath id="cr4"><rect x="413.2" y="1302.2" width="158.8" height="136.6"/></clipPath>
<g clip-path="url(#cr4)">
<rect x="413.2" y="1302.2" width="158.8" height="136.6" fill="#C97FBA"/>
<rect x="413.2" y="1302.2" width="158.8" height="136.6" fill="#fff" filter="url(#motw)" opacity="0.3"/>
<path d="M490.1 1321.0h0M491.1 1312.4h0M442.1 1404.0h0M445.6 1335.6h0M554.8 1331.4h0M455.9 1320.2h0M428.1 1375.8h0M459.8 1409.6h0M550.3 1340.1h0M465.8 1365.3h0M419.8 1437.0h0M519.0 1334.5h0M549.8 1341.8h0M536.4 1432.8h0M513.3 1362.9h0M508.4 1314.1h0M447.4 1318.5h0M548.9 1435.8h0M570.6 1434.9h0M477.3 1426.9h0M542.8 1366.5h0M528.6 1339.6h0M490.9 1304.8h0M534.4 1395.8h0M511.9 1430.3h0M413.5 1371.2h0M449.2 1334.2h0M516.3 1339.3h0M559.9 1333.3h0M464.2 1419.0h0M450.1 1431.0h0M545.2 1365.0h0M558.1 1359.3h0M509.5 1416.7h0M423.7 1407.3h0M516.0 1424.7h0M537.9 1346.8h0M461.6 1358.4h0M524.6 1342.9h0M500.0 1308.7h0M490.4 1361.7h0M465.1 1417.2h0M446.0 1362.0h0M466.3 1411.7h0M456.9 1429.6h0M568.1 1313.1h0M560.3 1367.3h0M534.3 1438.3h0M499.7 1313.0h0M424.1 1376.0h0M455.8 1432.4h0M537.8 1435.0h0M468.3 1430.1h0M538.9 1381.8h0M473.5 1387.4h0M514.0 1307.1h0M489.1 1387.5h0M538.9 1351.2h0M535.9 1354.5h0M527.3 1386.4h0M458.0 1431.6h0M559.0 1384.0h0M556.0 1325.8h0M535.5 1347.9h0M443.7 1342.9h0M558.6 1399.6h0M518.8 1364.1h0M515.7 1313.2h0M470.4 1374.3h0M524.2 1370.3h0M441.4 1315.9h0M538.3 1308.6h0M558.9 1375.7h0M513.7 1331.2h0M463.7 1421.9h0M562.8 1427.2h0M413.9 1372.9h0M420.4 1385.9h0M566.2 1417.2h0M440.9 1344.4h0M418.9 1378.4h0M496.9 1354.4h0M546.0 1365.1h0M530.9 1350.2h0M468.8 1432.8h0M513.9 1412.8h0M508.5 1355.9h0M427.4 1377.1h0M517.2 1388.6h0M481.2 1379.5h0M555.4 1330.6h0M455.5 1361.2h0M482.6 1307.4h0M513.3 1345.3h0M560.5 1320.2h0M566.5 1331.1h0M559.0 1338.1h0M471.1 1432.8h0M553.1 1353.7h0M496.9 1385.8h0M491.1 1328.6h0M537.7 1366.3h0M517.7 1437.6h0M459.9 1426.4h0M547.1 1332.9h0M440.6 1307.6h0M556.1 1326.9h0M428.1 1423.5h0M567.6 1342.6h0M511.9 1326.8h0M519.1 1315.6h0M472.3 1335.4h0M448.0 1322.5h0M568.8 1431.3h0M459.3 1414.1h0M483.1 1376.7h0M511.7 1313.1h0M489.9 1369.6h0M551.2 1410.7h0M448.7 1359.4h0M493.8 1339.1h0M504.1 1396.3h0M541.2 1433.8h0M569.6 1308.0h0M569.5 1369.4h0M463.4 1308.6h0M456.9 1429.8h0M430.3 1422.0h0M496.9 1408.8h0M475.4 1324.2h0M562.9 1437.2h0M419.9 1357.2h0M443.8 1352.7h0M458.8 1346.5h0M520.8 1415.7h0M488.1 1420.2h0M509.7 1316.4h0M492.0 1417.2h0M475.2 1374.9h0M537.0 1317.4h0M482.9 1320.7h0M563.6 1343.8h0M558.9 1425.2h0M563.3 1396.5h0M547.3 1308.7h0M431.7 1423.5h0M488.9 1313.0h0M458.8 1350.7h0M513.2 1316.4h0M479.5 1428.2h0M467.1 1323.2h0M497.3 1435.5h0M544.5 1397.9h0M539.6 1405.6h0M449.7 1309.1h0M568.6 1414.1h0M484.0 1423.3h0M481.6 1426.2h0M414.0 1393.5h0M419.7 1343.1h0M460.8 1408.2h0M438.9 1363.5h0M529.8 1382.9h0M480.4 1366.6h0M438.7 1340.4h0M420.9 1344.8h0M460.8 1312.1h0M526.8 1354.4h0M518.4 1411.7h0M467.4 1317.7h0M550.9 1349.7h0M451.3 1321.2h0M571.4 1418.2h0M497.1 1377.7h0M490.8 1380.8h0M454.2 1349.5h0M428.9 1428.2h0M443.1 1405.5h0M480.3 1398.5h0M428.8 1434.7h0M452.1 1436.4h0M457.8 1368.5h0M413.2 1344.9h0M539.0 1400.9h0M553.2 1315.5h0M416.2 1428.6h0M460.6 1343.4h0M517.0 1317.9h0M486.5 1309.3h0M515.2 1346.5h0M472.2 1364.5h0M494.5 1408.0h0M421.7 1411.8h0M571.5 1304.5h0M549.3 1387.6h0M427.6 1306.8h0M480.7 1343.7h0M465.0 1436.2h0M562.7 1306.3h0M496.1 1430.4h0M551.9 1305.8h0M452.4 1335.2h0M527.4 1369.1h0M524.3 1304.3h0M449.2 1404.8h0M459.8 1404.9h0M451.4 1357.3h0M548.7 1389.0h0M466.9 1357.4h0M458.9 1377.7h0M570.4 1365.8h0M417.1 1388.8h0M462.0 1312.2h0M430.4 1372.3h0M567.4 1405.9h0M530.2 1358.6h0M423.8 1380.5h0M546.2 1371.4h0M418.2 1361.6h0M547.6 1369.8h0M461.3 1378.4h0M504.0 1339.5h0M419.8 1391.6h0M530.3 1429.3h0M560.5 1376.2h0M468.2 1406.3h0M458.6 1357.8h0M502.0 1372.3h0M568.3 1437.7h0M455.4 1437.5h0M413.5 1415.4h0M414.0 1421.1h0M497.6 1395.8h0M465.6 1331.1h0M497.4 1406.5h0M443.6 1357.4h0M451.5 1367.4h0M446.6 1437.2h0M494.3 1314.2h0M483.3 1431.2h0M429.0 1428.6h0M439.3 1387.4h0M521.8 1330.8h0M512.3 1330.9h0M426.6 1425.1h0M551.7 1305.2h0M507.6 1318.1h0M541.1 1435.6h0M453.6 1430.1h0M502.6 1352.5h0M549.7 1330.7h0M546.4 1336.5h0M468.5 1332.8h0M420.4 1404.4h0M447.4 1429.3h0M438.6 1397.5h0M472.4 1349.6h0M471.4 1364.2h0M415.0 1434.3h0M480.3 1405.5h0M553.0 1351.9h0M478.5 1363.0h0M492.7 1318.9h0M476.6 1325.5h0M436.4 1366.7h0M415.6 1424.6h0M423.8 1379.7h0M486.2 1307.2h0M414.4 1399.0h0M449.0 1305.3h0M486.6 1327.9h0M542.4 1320.7h0M461.6 1345.7h0M535.0 1425.0h0M535.5 1318.1h0M495.3 1331.6h0M491.3 1405.7h0M494.8 1387.4h0M549.9 1319.6h0M444.1 1353.9h0M559.5 1354.3h0M566.1 1347.4h0M421.4 1310.0h0M431.5 1336.9h0M520.9 1350.4h0M481.3 1428.6h0M415.1 1331.8h0M420.1 1316.4h0M561.4 1384.3h0M447.6 1357.1h0M475.0 1348.5h0M455.2 1317.4h0M507.0 1385.3h0M429.9 1394.3h0M535.2 1312.5h0M508.6 1306.9h0M541.5 1390.6h0M494.2 1403.2h0M494.7 1351.1h0M418.5 1326.0h0M499.6 1365.2h0M558.2 1385.6h0M417.0 1415.5h0M477.8 1331.7h0M500.3 1391.7h0M485.5 1391.2h0M546.3 1407.4h0M568.1 1422.7h0" stroke="#F4EAF2" stroke-width="1.37" stroke-linecap="round" opacity="0.7"/>
<path d="M522.8 1404.2h0M542.6 1326.6h0M419.1 1402.9h0M501.0 1385.4h0M480.6 1323.2h0M516.8 1334.9h0M475.1 1393.5h0M529.3 1375.7h0M544.0 1331.7h0M424.0 1402.6h0M498.5 1316.9h0M458.7 1325.1h0M414.0 1323.8h0M501.3 1385.6h0M421.1 1345.9h0M554.4 1347.6h0M460.5 1352.1h0M553.8 1363.7h0M499.4 1363.4h0M427.2 1351.2h0M536.4 1304.2h0M527.7 1426.2h0M439.4 1381.8h0M535.6 1332.5h0M444.0 1430.3h0M511.4 1309.5h0M474.9 1315.7h0M485.1 1427.2h0M441.3 1371.4h0M501.1 1349.7h0M419.6 1394.0h0M418.7 1435.8h0M486.1 1315.2h0M443.4 1357.3h0M549.6 1313.3h0M495.7 1419.9h0M432.7 1396.1h0M545.4 1347.6h0M452.3 1400.2h0M529.2 1357.3h0M441.0 1312.9h0M545.3 1394.7h0M570.0 1410.6h0M480.1 1329.9h0M438.4 1376.6h0M415.1 1303.2h0M479.6 1413.7h0M499.6 1317.2h0M557.9 1418.1h0M489.4 1307.2h0M481.3 1374.1h0M452.1 1372.8h0M542.9 1338.2h0M469.6 1377.2h0M518.1 1317.4h0M445.9 1359.1h0M480.0 1331.0h0M423.1 1394.8h0M493.5 1309.1h0M522.3 1422.6h0M519.4 1419.3h0M515.1 1355.5h0M424.3 1429.0h0M510.5 1421.3h0M438.0 1316.9h0M556.0 1426.1h0M490.2 1375.2h0M428.9 1353.8h0M527.9 1393.8h0M556.7 1320.1h0M470.9 1362.0h0M457.7 1327.2h0M436.6 1403.5h0M506.9 1373.7h0M565.0 1390.3h0M552.6 1389.6h0M471.8 1431.6h0M469.4 1316.4h0M482.9 1368.2h0M538.4 1393.1h0M470.0 1340.7h0M439.9 1364.4h0M454.2 1379.4h0M492.0 1351.6h0M533.7 1428.6h0M462.2 1407.8h0M521.6 1323.2h0M563.9 1324.9h0M503.8 1309.6h0M566.2 1406.9h0M451.5 1338.2h0M416.5 1386.5h0M448.6 1380.2h0M502.9 1380.7h0M535.9 1304.8h0M471.7 1314.1h0M569.4 1358.9h0M463.9 1386.0h0M485.5 1347.2h0M475.5 1427.6h0M436.1 1334.1h0M493.4 1312.7h0M419.9 1321.0h0M457.3 1398.8h0M526.2 1355.8h0M492.3 1302.5h0M543.6 1324.6h0M430.5 1403.7h0M543.2 1372.1h0M526.0 1415.5h0M423.5 1365.9h0M460.9 1349.6h0M570.1 1414.4h0M460.2 1437.5h0M479.8 1321.5h0M518.0 1373.1h0M568.3 1324.9h0M560.9 1423.3h0M505.7 1397.2h0M525.9 1334.4h0M418.6 1323.1h0M523.4 1334.7h0M565.7 1416.2h0M494.9 1354.6h0M482.3 1371.9h0M478.3 1349.1h0M507.2 1341.9h0M484.4 1322.8h0M558.4 1420.3h0M504.6 1371.5h0M454.1 1349.7h0M464.0 1399.5h0M426.0 1425.0h0M475.0 1320.7h0M561.9 1348.5h0M511.3 1354.3h0M437.5 1423.3h0M503.5 1304.5h0M424.9 1379.2h0M547.1 1438.7h0M418.4 1381.6h0M539.1 1392.2h0M459.0 1361.9h0M545.7 1311.0h0M541.2 1340.7h0M457.4 1436.7h0M466.7 1325.7h0M457.5 1377.2h0M476.3 1418.0h0M507.2 1335.5h0M424.2 1428.3h0M424.9 1417.9h0M444.4 1434.7h0M525.7 1437.3h0M558.6 1338.8h0M419.2 1332.2h0M547.7 1420.6h0M471.1 1435.1h0M556.0 1370.3h0M436.6 1317.8h0M466.9 1390.8h0M448.1 1377.0h0M461.3 1320.3h0M444.6 1354.0h0M432.4 1353.7h0M435.5 1397.8h0M481.7 1357.9h0M486.6 1420.4h0M492.7 1364.7h0M476.0 1366.2h0M439.7 1362.9h0M481.5 1401.2h0M414.0 1332.0h0M458.0 1438.1h0M430.9 1336.9h0M436.3 1344.9h0M488.4 1329.9h0M500.6 1388.1h0M547.7 1306.3h0M510.5 1369.6h0M536.6 1309.0h0M463.1 1409.3h0M449.4 1380.6h0M477.0 1379.0h0M521.4 1368.1h0M527.7 1412.4h0M444.9 1332.4h0M465.3 1339.2h0M498.5 1395.8h0M512.2 1372.3h0M497.1 1323.8h0M536.6 1361.9h0M456.1 1315.1h0M525.4 1355.1h0M504.7 1421.4h0M512.3 1391.0h0M539.6 1374.1h0M425.4 1399.6h0M508.6 1314.4h0M520.0 1357.5h0M482.9 1311.5h0M417.9 1389.2h0M556.4 1379.1h0M522.3 1431.5h0M437.5 1378.0h0M458.6 1404.1h0M453.1 1335.8h0M508.8 1381.2h0M539.0 1376.9h0M518.7 1306.1h0M473.9 1394.5h0M462.6 1341.1h0M421.4 1306.6h0M498.2 1431.8h0M483.3 1381.0h0M555.7 1400.7h0M542.6 1400.1h0M549.3 1303.4h0M456.7 1321.8h0M433.2 1349.7h0M540.1 1343.4h0M472.5 1325.0h0M525.7 1396.4h0M530.6 1406.9h0M530.3 1370.9h0M501.0 1408.5h0M474.0 1424.9h0M435.5 1400.4h0M534.3 1408.8h0M535.8 1367.8h0M459.4 1325.6h0M489.0 1313.3h0M497.5 1360.1h0M508.2 1351.2h0M543.1 1389.0h0M541.6 1361.6h0M552.1 1323.9h0M457.7 1313.9h0M516.1 1313.6h0M549.0 1398.9h0M501.3 1340.0h0M562.0 1394.0h0M499.0 1414.5h0M493.7 1360.0h0M440.7 1399.6h0M538.9 1324.7h0M439.9 1344.4h0M424.2 1373.5h0M562.1 1389.7h0M497.0 1430.4h0M465.6 1309.0h0M559.9 1400.0h0M556.1 1330.9h0M499.6 1373.4h0M469.1 1401.9h0M505.1 1427.0h0M548.8 1309.4h0M517.6 1419.2h0M477.9 1328.0h0M434.3 1402.8h0M561.5 1422.4h0M427.9 1323.7h0M482.4 1372.4h0M493.6 1355.3h0M465.6 1376.9h0M560.2 1392.0h0M466.5 1341.6h0M414.7 1308.6h0M566.5 1357.8h0M490.2 1328.7h0M501.5 1373.7h0M530.3 1313.7h0M553.5 1438.8h0M570.7 1349.4h0M546.9 1330.3h0M474.0 1308.5h0M459.6 1399.7h0M498.6 1349.1h0M540.3 1426.0h0M494.4 1416.9h0M566.2 1366.1h0M473.9 1365.2h0M502.2 1388.2h0M547.3 1408.6h0M466.7 1315.7h0M526.1 1415.6h0M545.6 1343.8h0M508.1 1364.7h0M538.8 1322.9h0M484.6 1434.3h0M536.5 1430.6h0M503.6 1362.6h0M547.7 1328.5h0M554.5 1423.0h0M557.8 1426.4h0M526.3 1391.6h0M456.3 1406.9h0M544.9 1428.0h0M481.7 1402.5h0M492.7 1319.3h0M491.2 1394.6h0M441.8 1398.7h0M547.6 1393.4h0M470.7 1361.7h0M569.5 1414.0h0M462.0 1368.7h0M502.3 1424.4h0M560.5 1421.8h0M423.0 1312.1h0M563.0 1379.5h0M477.6 1357.0h0M526.9 1400.0h0M483.2 1332.4h0M478.1 1367.8h0M569.2 1436.3h0M448.1 1304.3h0M546.5 1398.1h0M496.4 1376.4h0M529.1 1437.8h0M504.2 1348.0h0M422.1 1328.1h0M541.9 1352.4h0M433.2 1396.4h0M426.0 1373.1h0M519.6 1393.7h0M466.8 1379.4h0M422.6 1391.0h0M531.2 1313.0h0M442.3 1372.5h0M563.5 1319.7h0M571.9 1345.3h0M534.3 1405.5h0M542.7 1372.2h0M487.6 1316.2h0M513.5 1376.1h0M551.0 1311.9h0" stroke="#F4EAF2" stroke-width="2.10" stroke-linecap="round" opacity="0.7"/>
<path d="M556.3 1304.5h0M543.6 1309.9h0M541.0 1327.8h0M471.0 1363.8h0M564.6 1406.8h0M500.5 1364.1h0M517.7 1321.2h0M491.8 1401.7h0M532.0 1317.8h0M497.0 1398.9h0M464.7 1406.4h0M544.5 1375.3h0M418.6 1328.3h0M498.3 1355.4h0M488.9 1357.9h0M431.3 1420.4h0M466.8 1434.4h0M564.4 1320.8h0M515.6 1306.9h0M529.9 1416.9h0M491.5 1360.0h0M448.3 1343.9h0M494.5 1387.0h0M439.9 1421.6h0M423.3 1362.4h0M469.0 1437.3h0M517.8 1390.4h0M524.2 1350.3h0M524.5 1392.1h0M529.3 1401.4h0M557.4 1399.2h0M539.0 1370.1h0M433.7 1332.8h0M436.5 1404.4h0M432.3 1383.7h0M507.3 1400.2h0M571.1 1379.3h0M496.9 1371.6h0M417.2 1427.1h0M483.5 1393.7h0M484.1 1434.2h0M516.2 1335.6h0M570.8 1374.2h0M563.4 1372.7h0M460.1 1342.2h0M465.9 1412.8h0M484.5 1369.8h0M566.1 1393.9h0M440.0 1355.7h0M547.1 1416.1h0M549.7 1384.3h0M509.6 1359.8h0M521.2 1386.4h0M495.3 1328.3h0M552.6 1322.7h0M496.9 1403.8h0M426.0 1322.9h0M429.2 1318.3h0M434.9 1372.7h0M545.9 1352.7h0M432.6 1409.9h0M461.3 1396.1h0M470.6 1319.4h0M548.4 1368.3h0M536.9 1328.4h0M566.5 1318.4h0M467.8 1410.6h0M414.1 1436.7h0M498.6 1427.3h0M449.0 1414.7h0M422.2 1312.6h0M426.3 1430.9h0M565.5 1327.9h0M518.4 1361.4h0M524.8 1425.9h0M523.8 1335.8h0M435.1 1321.4h0M526.1 1312.0h0M469.0 1386.9h0M556.0 1387.8h0M569.9 1316.7h0M528.3 1363.7h0M450.9 1385.6h0M484.8 1432.4h0M524.8 1426.2h0M526.9 1321.1h0M521.9 1419.5h0M532.1 1432.4h0M418.3 1329.5h0M565.7 1341.3h0M479.4 1304.1h0M449.5 1364.6h0M532.2 1398.9h0M545.6 1408.6h0M490.8 1393.8h0M544.7 1424.8h0M413.7 1320.4h0M477.6 1402.7h0M556.5 1397.3h0M513.6 1406.6h0M413.7 1436.1h0M508.1 1377.4h0M457.2 1403.3h0M427.5 1438.6h0M489.4 1338.4h0M516.9 1390.2h0M529.1 1351.7h0M472.4 1413.5h0M479.4 1331.0h0M541.4 1434.1h0M490.3 1356.7h0M483.5 1313.2h0M475.8 1371.8h0M452.4 1428.4h0M437.7 1423.3h0M422.7 1364.9h0M418.6 1437.3h0M424.0 1327.7h0M499.4 1360.0h0M482.1 1401.2h0M420.0 1426.8h0M416.5 1381.3h0M502.3 1438.2h0M563.1 1409.2h0M458.5 1338.6h0M498.4 1343.4h0M465.4 1416.0h0M423.4 1326.9h0M511.2 1333.3h0M439.0 1386.3h0M423.6 1393.6h0M565.6 1380.1h0M501.6 1320.0h0M519.9 1370.5h0M530.7 1370.7h0M517.6 1328.7h0M428.6 1345.2h0M422.7 1372.8h0M552.6 1351.4h0M443.0 1381.7h0M424.5 1425.9h0M459.9 1336.5h0M563.4 1374.5h0M501.6 1397.7h0M546.3 1305.7h0M494.7 1324.9h0M460.5 1423.1h0M415.8 1426.4h0M522.8 1394.4h0M546.7 1388.2h0M415.2 1410.8h0M441.2 1328.5h0M417.4 1352.6h0M443.1 1389.5h0M513.0 1338.1h0M491.5 1319.7h0M451.3 1406.5h0M495.6 1413.4h0M424.9 1399.0h0M453.2 1410.8h0M566.6 1319.9h0M482.0 1337.8h0M552.6 1305.8h0M510.9 1435.7h0M533.7 1375.9h0M460.2 1364.4h0M456.3 1437.0h0M457.8 1414.4h0M480.9 1328.4h0M489.0 1359.0h0M421.5 1434.3h0M457.8 1341.8h0M518.4 1360.2h0M457.3 1367.5h0M548.8 1393.8h0M560.7 1405.3h0M463.0 1342.4h0M499.5 1429.6h0M560.3 1406.7h0M560.6 1340.4h0M571.8 1379.9h0M535.7 1311.6h0M524.5 1325.9h0M434.2 1346.0h0M554.6 1383.1h0M467.6 1335.5h0M513.0 1414.1h0M436.0 1379.2h0M450.2 1314.5h0M521.5 1398.1h0M548.6 1406.4h0M488.7 1438.1h0M433.5 1410.7h0M427.2 1427.9h0M453.9 1315.7h0M413.8 1435.6h0M496.9 1420.9h0M494.4 1401.7h0M456.8 1368.4h0M507.5 1302.5h0M565.4 1416.6h0M559.1 1345.8h0M445.2 1400.0h0M482.6 1317.1h0M539.0 1402.3h0M458.4 1391.7h0M505.4 1400.7h0M514.7 1368.9h0M436.4 1357.1h0M477.1 1320.0h0M557.6 1359.5h0M550.1 1350.3h0M435.8 1342.8h0M502.3 1328.9h0M482.1 1312.0h0M567.6 1319.5h0M546.6 1399.2h0M503.5 1373.1h0M512.3 1322.9h0M491.8 1390.4h0M508.1 1325.3h0M484.7 1359.0h0M570.8 1326.8h0M438.4 1333.3h0M436.7 1338.6h0M504.1 1368.4h0M554.5 1427.5h0M555.9 1327.1h0M482.0 1414.5h0M465.2 1317.2h0M461.1 1374.8h0M533.5 1407.5h0M522.6 1412.7h0M515.0 1406.8h0M425.8 1341.3h0M558.6 1351.4h0M565.2 1359.2h0M463.6 1352.0h0M559.4 1343.9h0M495.7 1340.8h0M453.7 1334.7h0M445.2 1419.1h0M525.4 1302.4h0M550.8 1346.8h0M451.2 1327.1h0M434.5 1322.3h0M515.2 1388.1h0M447.1 1317.1h0M431.4 1391.8h0M474.8 1375.4h0M474.9 1398.3h0M529.3 1323.5h0M555.6 1302.7h0M430.5 1381.5h0M570.9 1353.4h0M530.1 1403.6h0M544.4 1398.9h0M544.3 1377.2h0M417.2 1416.8h0M453.8 1387.2h0M496.7 1375.2h0M444.2 1347.5h0M492.4 1351.3h0M567.1 1379.1h0M483.1 1333.2h0M415.5 1398.6h0M549.3 1373.0h0M436.3 1333.7h0M421.1 1309.6h0M451.2 1430.8h0M457.5 1411.2h0M470.5 1431.2h0M476.2 1371.5h0M569.7 1354.3h0M434.5 1425.4h0M549.0 1397.7h0M509.1 1437.3h0M423.3 1336.4h0M534.1 1358.2h0M507.6 1369.6h0M564.8 1326.5h0M495.8 1388.0h0M541.7 1429.4h0M550.5 1366.9h0M442.3 1438.1h0M497.3 1384.6h0M492.1 1408.5h0M463.4 1316.4h0M466.9 1358.6h0M419.3 1356.7h0M543.8 1419.5h0M489.2 1372.2h0M494.6 1435.3h0M478.0 1414.3h0M440.0 1413.0h0M487.1 1430.4h0M517.6 1344.1h0M551.7 1385.6h0M473.0 1316.3h0M487.1 1366.8h0M569.1 1351.1h0M565.3 1388.0h0M524.0 1414.7h0M551.9 1320.2h0M476.8 1392.7h0M552.3 1366.7h0" stroke="#F4EAF2" stroke-width="2.84" stroke-linecap="round" opacity="0.7"/>
<path d="M464.2 1290.8h0M587.8 1298.4h0M442.6 1304.2h0M481.7 1307.3h0M532.1 1312.1h0M425.3 1316.1h0M446.1 1321.5h0M478.3 1314.0h0M502.8 1318.3h0M529.7 1321.6h0M437.4 1327.9h0M458.0 1326.7h0M484.9 1334.0h0M526.6 1327.7h0M535.0 1333.9h0M571.6 1334.2h0M450.2 1348.0h0M503.4 1344.9h0M532.2 1346.4h0M569.8 1336.6h0M458.1 1353.7h0M489.4 1360.0h0M519.2 1357.4h0M538.1 1353.6h0M575.9 1357.7h0M438.3 1361.4h0M447.8 1361.3h0M505.2 1368.3h0M566.9 1370.6h0M497.4 1381.2h0M538.1 1378.3h0M577.7 1378.6h0M410.0 1390.7h0M433.8 1387.9h0M416.0 1405.1h0M439.4 1404.2h0M537.3 1402.3h0M567.0 1403.0h0M423.2 1413.7h0M427.7 1415.7h0M447.2 1416.4h0M488.7 1407.2h0M537.2 1413.1h0M552.5 1408.4h0M564.2 1415.3h0M586.6 1415.1h0M419.2 1424.4h0M435.2 1422.5h0M473.1 1428.6h0M482.1 1421.1h0M547.1 1421.3h0M561.0 1429.6h0M406.8 1441.2h0M425.4 1435.3h0M448.0 1440.3h0M499.6 1430.4h0M516.5 1431.1h0M561.0 1442.3h0M508.6 1450.1h0M526.0 1445.8h0" stroke="#5A2C7E" stroke-width="4.47" stroke-linecap="round" opacity="0.5"/>
<path d="M437.9 1296.4h0M467.9 1296.5h0M496.6 1292.9h0M528.9 1291.8h0M539.6 1293.6h0M558.4 1298.5h0M567.1 1297.4h0M412.0 1310.4h0M491.6 1309.5h0M510.0 1305.7h0M522.4 1303.9h0M544.8 1306.2h0M542.1 1323.6h0M557.4 1319.2h0M409.7 1335.4h0M426.7 1329.5h0M497.3 1326.7h0M469.3 1343.3h0M559.0 1348.3h0M587.7 1345.5h0M437.5 1360.0h0M462.2 1348.9h0M485.9 1359.0h0M552.8 1355.3h0M556.1 1357.5h0M476.3 1365.4h0M516.4 1367.7h0M528.7 1362.3h0M547.4 1365.2h0M549.5 1363.0h0M458.5 1375.2h0M471.5 1381.4h0M522.3 1379.7h0M543.6 1382.6h0M556.7 1376.1h0M419.4 1388.0h0M459.7 1391.7h0M470.4 1383.5h0M491.8 1392.1h0M496.1 1395.2h0M517.7 1385.6h0M542.6 1383.7h0M583.1 1384.5h0M431.3 1396.1h0M469.0 1405.3h0M488.3 1397.2h0M549.7 1401.1h0M502.7 1417.5h0M518.6 1416.5h0M458.6 1429.6h0M491.8 1424.0h0M519.4 1420.5h0M576.9 1419.3h0M470.1 1434.7h0M492.2 1438.3h0M528.3 1436.0h0M417.1 1453.9h0M425.5 1444.6h0M440.5 1445.7h0M459.6 1452.3h0M468.6 1447.9h0M481.4 1450.7h0M495.9 1450.4h0M531.9 1444.6h0M550.1 1453.9h0M560.6 1444.3h0M570.2 1448.3h0" stroke="#5A2C7E" stroke-width="5.17" stroke-linecap="round" opacity="0.5"/>
<path d="M405.2 1290.8h0M416.7 1297.5h0M447.4 1295.1h0M486.6 1291.5h0M518.4 1300.7h0M425.3 1311.6h0M449.7 1309.8h0M472.6 1302.2h0M565.2 1307.6h0M571.1 1310.0h0M402.5 1323.9h0M430.3 1322.3h0M465.0 1318.5h0M490.5 1316.9h0M510.3 1320.3h0M571.7 1323.3h0M580.7 1315.3h0M471.6 1327.7h0M511.4 1326.8h0M547.7 1327.5h0M565.3 1328.1h0M404.0 1342.3h0M418.2 1339.8h0M427.5 1340.5h0M462.2 1343.4h0M487.9 1345.1h0M509.6 1341.4h0M546.7 1340.4h0M415.6 1354.6h0M421.0 1359.1h0M507.7 1354.3h0M412.0 1361.0h0M421.2 1365.8h0M459.9 1370.7h0M490.2 1367.8h0M578.0 1368.2h0M412.1 1373.5h0M423.8 1379.3h0M442.3 1374.9h0M478.3 1382.0h0M512.2 1380.6h0M447.4 1389.7h0M529.4 1384.8h0M557.7 1387.5h0M564.2 1392.0h0M454.9 1396.1h0M475.5 1405.3h0M509.0 1400.6h0M515.4 1405.5h0M580.0 1396.0h0M406.3 1413.3h0M465.6 1417.7h0M468.9 1408.4h0M528.1 1408.2h0M429.6 1427.9h0M511.3 1421.4h0M530.7 1419.2h0M437.6 1438.2h0M462.4 1431.9h0M540.5 1439.9h0M569.7 1430.9h0M586.0 1433.4h0" stroke="#5A2C7E" stroke-width="5.86" stroke-linecap="round" opacity="0.5"/>
<path d="M530.3 1420.0h0M489.4 1359.2h0M426.1 1443.9h0M528.3 1435.9h0M549.6 1363.7h0M509.0 1400.5h0M516.4 1405.5h0M531.0 1443.6h0M488.6 1360.7h0M449.3 1309.6h0M430.5 1321.9h0M464.2 1319.5h0" stroke="#3A1858" stroke-width="3.43" stroke-linecap="round" opacity="0.55"/>
<path d="M525.7 1445.8h0M488.0 1406.8h0M552.2 1408.3h0M586.1 1414.9h0M441.7 1304.4h0" stroke="#3A1858" stroke-width="3.84" stroke-linecap="round" opacity="0.55"/>
<path d="M587.1 1298.6h0M565.1 1392.7h0M421.7 1359.7h0M569.8 1335.8h0M468.0 1448.8h0M558.9 1348.6h0M490.0 1359.2h0M538.3 1378.3h0" stroke="#3A1858" stroke-width="4.51" stroke-linecap="round" opacity="0.55"/>
</g>
<clipPath id="cw4"><rect x="579.6" y="1302" width="159.2" height="137"/></clipPath>
<g clip-path="url(#cw4)">
<rect x="579.6" y="1302" width="159.2" height="137" fill="#DC66A8"/>
<rect x="579.6" y="1302" width="159.2" height="137" fill="#fff" filter="url(#mot)" opacity="0.1"/>
<path d="M629.9 1292.2h0M641.5 1297.8h0M745.2 1294.3h0M583.9 1303.8h0M604.1 1304.5h0M623.5 1311.2h0M657.4 1307.8h0M692.5 1310.6h0M728.1 1310.6h0M746.2 1307.1h0M599.8 1317.4h0M616.2 1321.0h0M632.2 1324.4h0M656.8 1319.2h0M679.5 1323.1h0M725.8 1323.8h0M739.7 1324.0h0M747.3 1317.6h0M666.1 1326.3h0M713.3 1327.8h0M746.1 1334.9h0M594.6 1343.6h0M609.2 1348.0h0M645.4 1345.7h0M688.6 1341.7h0M583.6 1359.7h0M594.6 1353.3h0M638.3 1350.3h0M705.0 1356.9h0M637.9 1363.6h0M730.2 1360.1h0M585.2 1371.9h0M591.3 1372.8h0M604.8 1378.8h0M674.0 1380.9h0M743.9 1379.0h0M607.5 1386.3h0M639.3 1389.3h0M711.8 1394.8h0M726.2 1385.0h0M740.5 1393.9h0M644.5 1405.6h0M738.3 1402.0h0M572.1 1414.1h0M596.5 1416.6h0M646.2 1415.4h0M697.7 1409.2h0M733.2 1408.5h0M745.0 1413.3h0M581.9 1422.3h0M597.3 1418.6h0M686.9 1425.4h0M729.2 1429.7h0M644.0 1430.2h0M657.2 1441.7h0M694.1 1440.3h0M624.2 1450.2h0M629.7 1445.2h0M703.1 1450.9h0M710.9 1448.0h0M722.0 1446.7h0" stroke="#9A55AE" stroke-width="5.56" stroke-linecap="round" opacity="0.38"/>
<path d="M569.8 1296.2h0M592.1 1297.2h0M608.9 1301.3h0M658.8 1292.6h0M665.1 1291.5h0M697.2 1290.9h0M706.3 1290.1h0M717.2 1295.2h0M636.4 1311.7h0M649.9 1304.5h0M706.9 1309.1h0M634.4 1317.5h0M696.4 1323.3h0M578.9 1333.7h0M605.7 1325.4h0M615.6 1325.2h0M629.3 1324.4h0M645.9 1328.1h0M701.6 1328.5h0M568.6 1343.9h0M631.9 1341.3h0M682.9 1339.9h0M703.4 1346.1h0M645.8 1350.7h0M679.4 1348.4h0M591.1 1364.9h0M595.5 1362.3h0M629.9 1365.3h0M651.1 1365.8h0M668.2 1360.5h0M679.8 1370.3h0M616.9 1376.8h0M629.7 1377.6h0M686.8 1381.7h0M697.1 1380.0h0M730.4 1375.2h0M571.6 1390.4h0M580.8 1383.2h0M662.6 1386.5h0M683.6 1387.1h0M745.0 1388.2h0M608.5 1404.5h0M662.3 1395.0h0M676.9 1397.1h0M695.2 1405.0h0M725.6 1401.9h0M580.3 1415.5h0M659.6 1414.8h0M684.4 1416.8h0M704.9 1411.3h0M601.1 1420.6h0M656.9 1429.5h0M713.2 1425.2h0M580.9 1433.9h0M613.3 1440.3h0M621.4 1435.7h0M671.5 1431.9h0M680.7 1436.2h0M705.6 1432.4h0M726.6 1436.9h0M736.8 1436.7h0M749.7 1431.5h0M574.9 1443.6h0M648.7 1453.9h0M683.2 1442.6h0" stroke="#9A55AE" stroke-width="6.36" stroke-linecap="round" opacity="0.38"/>
<path d="M599.6 1292.9h0M681.9 1300.4h0M730.6 1292.5h0M594.5 1305.8h0M675.4 1310.5h0M716.8 1310.6h0M570.9 1317.3h0M587.7 1319.5h0M668.8 1315.8h0M712.9 1323.9h0M598.9 1332.6h0M669.2 1335.3h0M692.7 1330.6h0M723.3 1336.3h0M581.0 1344.8h0M649.9 1346.6h0M671.9 1339.2h0M723.8 1339.1h0M733.7 1336.9h0M746.6 1343.5h0M611.2 1355.0h0M623.9 1352.2h0M659.1 1355.4h0M688.6 1350.6h0M720.3 1359.6h0M729.9 1351.1h0M744.3 1353.4h0M570.0 1361.0h0M608.9 1360.3h0M696.9 1365.9h0M706.6 1363.6h0M717.1 1363.3h0M743.7 1371.7h0M642.8 1375.3h0M659.5 1374.7h0M718.6 1383.0h0M596.0 1394.3h0M630.1 1393.8h0M658.8 1386.6h0M695.3 1384.0h0M575.5 1399.4h0M596.3 1396.0h0M614.7 1396.8h0M637.0 1404.8h0M685.6 1404.8h0M712.9 1402.2h0M613.1 1414.8h0M626.0 1408.1h0M666.3 1411.4h0M715.8 1409.0h0M623.5 1421.1h0M636.5 1422.1h0M650.8 1424.3h0M680.2 1429.5h0M698.3 1428.5h0M740.9 1423.4h0M578.0 1431.7h0M594.2 1441.3h0M592.5 1442.6h0M610.9 1443.6h0M659.1 1444.8h0M670.3 1451.5h0M735.9 1448.9h0" stroke="#9A55AE" stroke-width="7.23" stroke-linecap="round" opacity="0.38"/>
</g>
<ellipse cx="179.3" cy="1206.5" rx="8.5" ry="19" fill="#DDD8D0" transform="rotate(0 179.3 1206.5)"/>
<ellipse cx="89" cy="1216" rx="6" ry="4.5" fill="#DDD8D0" transform="rotate(0 89 1216)"/>
<path d="M159,1302 L184,1302 C185,1315 186,1330 185,1340 C185,1346 187,1351 190,1354 L188,1356 C183,1355 179,1357 176,1360 L172,1365 L169,1358 C166,1355 163,1352 163,1348 C158,1340 157,1330 157,1320 C157,1312 158,1306 159,1302 Z" fill="#DDD8D0"/>
<ellipse cx="328.3" cy="1210.3" rx="4.8" ry="12.8" fill="#DDD8D0" transform="rotate(-27 328.3 1210.3)"/>
<ellipse cx="383" cy="1169.7" rx="2.5" ry="2.5" fill="#DDD8D0" transform="rotate(0 383 1169.7)"/>
<path d="M321,1303 C326,1302 333,1306 337,1316 C341,1327 344,1340 344,1350 C345,1358 347,1364 346,1369 C340,1358 330,1348 325,1338 C320,1328 318,1314 321,1303 Z" fill="#DDD8D0"/>
<ellipse cx="514.5" cy="1247.5" rx="6.8" ry="9.5" fill="#DDD8D0" transform="rotate(0 514.5 1247.5)"/>
<path d="M553,1292 C553,1283 560,1276 572,1275 L572,1292 Z" fill="#DDD8D0"/>
<path d="M527,1396 C540,1393 552,1397 553,1410 C555,1425 548,1437 538,1437 C528,1437 524,1425 525,1412 C525,1403 523,1398 527,1396 Z" fill="#DDD8D0"/>
<line x1="678" y1="1252" x2="670" y2="1277" stroke="#EBC8DA" stroke-width="2.6"/>
<ellipse cx="673.5" cy="1167" rx="12" ry="3.6" fill="#C9AFC8" opacity="0.6" transform="rotate(-10 673.5 1167)"/>
<path d="M692,1439 L697,1410 L702,1408 L699,1439 Z" fill="#EEE0EA"/>
<line x1="90" y1="1284" x2="117" y2="1284" stroke="#222" stroke-width="1.3"/>
<line x1="90" y1="1287.5" x2="117" y2="1287.5" stroke="#7a6070" stroke-width="1.6" stroke-dasharray="1.5 2.5" opacity="0.6"/>
<line x1="255" y1="1283.5" x2="282" y2="1283.5" stroke="#222" stroke-width="1.3"/>
<line x1="255" y1="1287" x2="282" y2="1287" stroke="#7a6070" stroke-width="1.6" stroke-dasharray="1.5 2.5" opacity="0.6"/>
<line x1="421" y1="1284" x2="448" y2="1284" stroke="#222" stroke-width="1.3"/>
<line x1="421" y1="1287.5" x2="448" y2="1287.5" stroke="#7a6070" stroke-width="1.6" stroke-dasharray="1.5 2.5" opacity="0.6"/>
<line x1="587" y1="1284" x2="614" y2="1284" stroke="#222" stroke-width="1.3"/>
<line x1="587" y1="1287.5" x2="614" y2="1287.5" stroke="#7a6070" stroke-width="1.6" stroke-dasharray="1.5 2.5" opacity="0.6"/>
<line x1="85" y1="1432.5" x2="112" y2="1432.5" stroke="#222" stroke-width="1.3"/>
<line x1="85" y1="1436" x2="112" y2="1436" stroke="#7a6070" stroke-width="1.6" stroke-dasharray="1.5 2.5" opacity="0.6"/>
<line x1="251" y1="1432.5" x2="278" y2="1432.5" stroke="#222" stroke-width="1.3"/>
<line x1="251" y1="1436" x2="278" y2="1436" stroke="#7a6070" stroke-width="1.6" stroke-dasharray="1.5 2.5" opacity="0.6"/>
<line x1="417" y1="1432" x2="444" y2="1432" stroke="#222" stroke-width="1.3"/>
<line x1="417" y1="1435.5" x2="444" y2="1435.5" stroke="#7a6070" stroke-width="1.6" stroke-dasharray="1.5 2.5" opacity="0.6"/>
<line x1="583" y1="1432" x2="610" y2="1432" stroke="#222" stroke-width="1.3"/>
<line x1="583" y1="1435.5" x2="610" y2="1435.5" stroke="#7a6070" stroke-width="1.6" stroke-dasharray="1.5 2.5" opacity="0.6"/>
<rect x="143.9" y="1180.3" width="55.9" height="48.6" fill="none" stroke="#fff" stroke-width="3.2"/>
<line x1="143.9" y1="1228.9" x2="81.1" y2="1293.8" stroke="#fff" stroke-width="3.6"/>
<line x1="199.8" y1="1228.9" x2="241.2" y2="1293.8" stroke="#fff" stroke-width="3.6"/>
<rect x="304.8" y="1191.2" width="50.7" height="37.7" fill="none" stroke="#fff" stroke-width="3.2"/>
<line x1="304.8" y1="1228.9" x2="247.3" y2="1292.5" stroke="#fff" stroke-width="3.6"/>
<line x1="355.5" y1="1228.9" x2="406.6" y2="1292.5" stroke="#fff" stroke-width="3.6"/>
<rect x="484.4" y="1217.1" width="42.4" height="42" fill="none" stroke="#fff" stroke-width="3.2"/>
<line x1="484.4" y1="1259.1" x2="413.2" y2="1292.1" stroke="#fff" stroke-width="3.6"/>
<line x1="526.8" y1="1259.1" x2="572" y2="1292.1" stroke="#fff" stroke-width="3.6"/>
<rect x="646.7" y="1229.3" width="48.6" height="36.8" fill="none" stroke="#fff" stroke-width="3.2"/>
<line x1="646.7" y1="1266.1" x2="579.6" y2="1292.1" stroke="#fff" stroke-width="3.6"/>
<line x1="695.3" y1="1266.1" x2="738.8" y2="1292.1" stroke="#fff" stroke-width="3.6"/>
<line x1="815.6" y1="1194.6" x2="815.6" y2="1364.3" stroke="#000" stroke-width="2"/>
<line x1="808.6" y1="1195.4" x2="815.6" y2="1195.4" stroke="#000" stroke-width="2"/>
<text x="806" y="1199.8" font-size="12.2" font-weight="bold" text-anchor="end" textLength="25.2" lengthAdjust="spacingAndGlyphs">250</text>
<line x1="808.6" y1="1229.2" x2="815.6" y2="1229.2" stroke="#000" stroke-width="2"/>
<text x="806" y="1233.6" font-size="12.2" font-weight="bold" text-anchor="end" textLength="25.2" lengthAdjust="spacingAndGlyphs">200</text>
<line x1="808.6" y1="1262.8" x2="815.6" y2="1262.8" stroke="#000" stroke-width="2"/>
<text x="806" y="1267.2" font-size="12.2" font-weight="bold" text-anchor="end" textLength="25.2" lengthAdjust="spacingAndGlyphs">150</text>
<line x1="808.6" y1="1296.1" x2="815.6" y2="1296.1" stroke="#000" stroke-width="2"/>
<text x="806" y="1300.5" font-size="12.2" font-weight="bold" text-anchor="end" textLength="25.2" lengthAdjust="spacingAndGlyphs">100</text>
<line x1="808.6" y1="1329.7" x2="815.6" y2="1329.7" stroke="#000" stroke-width="2"/>
<text x="806" y="1334.1" font-size="12.2" font-weight="bold" text-anchor="end" textLength="16.8" lengthAdjust="spacingAndGlyphs">50</text>
<line x1="808.6" y1="1363.3" x2="815.6" y2="1363.3" stroke="#000" stroke-width="2"/>
<text x="806" y="1367.7" font-size="12.2" font-weight="bold" text-anchor="end" textLength="8.4" lengthAdjust="spacingAndGlyphs">0</text>
<line x1="814.6" y1="1363.3" x2="999" y2="1363.3" stroke="#000" stroke-width="2"/>
<rect x="831.5" y="1356.6" width="23.8" height="6.7" fill="#808080" stroke="#000" stroke-width="2.8"/>
<rect x="873.8" y="1281.6" width="23.8" height="81.7" fill="#B455D9" stroke="#000" stroke-width="2.8"/>
<rect x="916.4" y="1227.5" width="23.8" height="135.8" fill="#F54242" stroke="#000" stroke-width="2.8"/>
<rect x="958.4" y="1326.9" width="23.8" height="36.4" fill="#A1F7A1" stroke="#000" stroke-width="2.8"/>
<line x1="843.4" y1="1353.5" x2="843.4" y2="1357.5" stroke="#555" stroke-width="1.3"/>
<line x1="837.4" y1="1353.5" x2="849.4" y2="1353.5" stroke="#555" stroke-width="1.3"/>
<line x1="837.4" y1="1357.5" x2="849.4" y2="1357.5" stroke="#555" stroke-width="1.3"/>
<line x1="885.7" y1="1271.3" x2="885.7" y2="1288.5" stroke="#777" stroke-width="1.3"/>
<line x1="879.7" y1="1271.3" x2="891.7" y2="1271.3" stroke="#777" stroke-width="1.3"/>
<line x1="879.7" y1="1288.5" x2="891.7" y2="1288.5" stroke="#777" stroke-width="1.3"/>
<line x1="928.3" y1="1214.5" x2="928.3" y2="1237.5" stroke="#888" stroke-width="1.3"/>
<line x1="921.8" y1="1214.5" x2="934.8" y2="1214.5" stroke="#888" stroke-width="1.3"/>
<line x1="921.8" y1="1237.5" x2="934.8" y2="1237.5" stroke="#888" stroke-width="1.3"/>
<line x1="970.3" y1="1319.8" x2="970.3" y2="1329.5" stroke="#666" stroke-width="1.3"/>
<line x1="964.3" y1="1319.8" x2="976.3" y2="1319.8" stroke="#666" stroke-width="1.3"/>
<line x1="964.3" y1="1329.5" x2="976.3" y2="1329.5" stroke="#666" stroke-width="1.3"/>
<circle cx="835.5" cy="1353.3" r="1.8" fill="#000"/>
<circle cx="844" cy="1355.5" r="1.8" fill="#000"/>
<circle cx="850" cy="1355.5" r="1.8" fill="#000"/>
<rect x="884.5" y="1261.3" width="3" height="3" fill="#000"/>
<rect x="882.5" y="1285" width="3" height="3" fill="#000"/>
<rect x="887" y="1288" width="3" height="3" fill="#000"/>
<path d="M928.3,1202.74 L929.9,1205.94 L926.7,1205.94Z" fill="#000"/>
<path d="M928.3,1227.74 L929.9,1230.94 L926.7,1230.94Z" fill="#000"/>
<path d="M928.3,1241.74 L929.9,1244.94 L926.7,1244.94Z" fill="#000"/>
<path d="M970,1317.26 L971.6,1314.06 L968.4,1314.06Z" fill="#000"/>
<path d="M970,1327.26 L971.6,1324.06 L968.4,1324.06Z" fill="#000"/>
<path d="M970,1334.26 L971.6,1331.06 L968.4,1331.06Z" fill="#000"/>
<polyline points="841.3,1257.8 841.3,1250.2 886.1,1250.2 886.1,1257.8" fill="none" stroke="#000" stroke-width="1.6"/>
<polyline points="880.5,1207.4 880.5,1199.6 924.8,1199.6 924.8,1207.4" fill="none" stroke="#000" stroke-width="1.6"/>
<polyline points="879.1,1187 879.1,1173 975.2,1173 975.2,1187" fill="none" stroke="#000" stroke-width="1.6"/>
<path d="M852.40 1235.00L852.40 1243.20M848.85 1237.05L855.95 1241.15M855.95 1237.05L848.85 1241.15" stroke="#000" stroke-width="1.9" fill="none"/>
<path d="M863.80 1235.00L863.80 1243.20M860.25 1237.05L867.35 1241.15M867.35 1237.05L860.25 1241.15" stroke="#000" stroke-width="1.9" fill="none"/>
<path d="M875.20 1235.00L875.20 1243.20M871.65 1237.05L878.75 1241.15M878.75 1237.05L871.65 1241.15" stroke="#000" stroke-width="1.9" fill="none"/>
<path d="M903.00 1184.00L903.00 1192.20M899.45 1186.05L906.55 1190.15M906.55 1186.05L899.45 1190.15" stroke="#000" stroke-width="1.9" fill="none"/>
<path d="M921.50 1157.90L921.50 1166.10M917.95 1159.95L925.05 1164.05M925.05 1159.95L917.95 1164.05" stroke="#000" stroke-width="1.9" fill="none"/>
<path d="M933.20 1157.90L933.20 1166.10M929.65 1159.95L936.75 1164.05M936.75 1159.95L929.65 1164.05" stroke="#000" stroke-width="1.9" fill="none"/>
<text x="771" y="1279.2" font-size="14" text-anchor="middle" textLength="58.5" lengthAdjust="spacingAndGlyphs" transform="rotate(-90 771 1279.2)" stroke="#000" stroke-width="0.3">Numbers</text>
<text transform="translate(846.9 1385.6) scale(1.12 1) rotate(-45)" font-size="14.1" stroke="#000" stroke-width="0.5" text-anchor="end">Vehicle</text>
<text transform="translate(889.2 1385.6) scale(1.12 1) rotate(-45)" font-size="14.1" stroke="#000" stroke-width="0.5" text-anchor="end">ALD</text>
<text transform="translate(931.8 1385.6) scale(1.12 1) rotate(-45)" font-size="14.1" stroke="#000" stroke-width="0.5" text-anchor="end">RSV-alcohol</text>
<text transform="translate(973.8 1385.6) scale(1.12 1) rotate(-45)" font-size="14.1" stroke="#000" stroke-width="0.5" text-anchor="end">RSV-water</text>
</svg></body></html>
